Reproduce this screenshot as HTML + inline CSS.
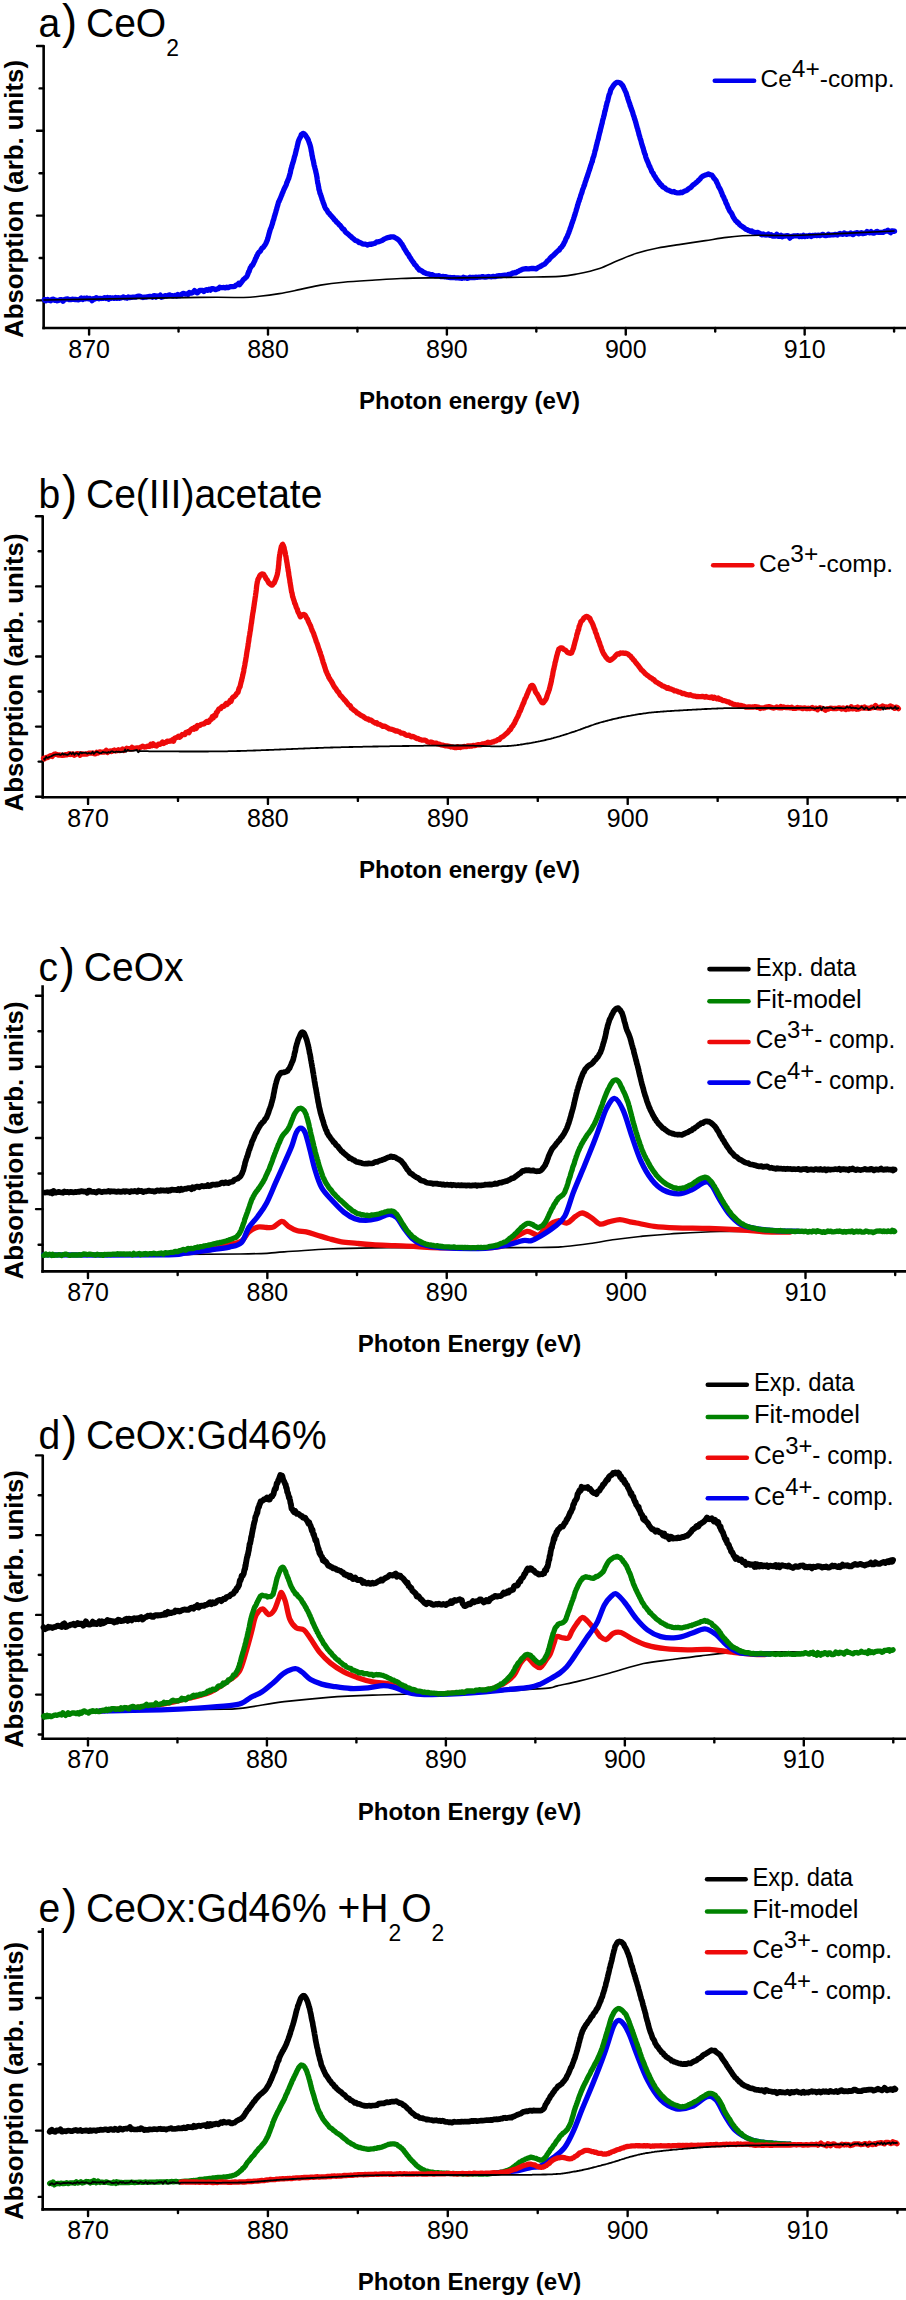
<!DOCTYPE html>
<html><head><meta charset="utf-8"><style>
html,body{margin:0;padding:0;background:#fff;}
svg{display:block;}
text{font-family:"Liberation Sans", sans-serif;fill:#000;}
</style></head><body>
<svg width="906" height="2300" viewBox="0 0 906 2300">
<rect width="906" height="2300" fill="#fff"/>
<line x1="43.65" y1="45.5" x2="43.65" y2="329.3" stroke="#000" stroke-width="2.6"/>
<line x1="42.35" y1="328.0" x2="906" y2="328.0" stroke="#000" stroke-width="2.6"/>
<line x1="37.05" y1="46.0" x2="43.65" y2="46.0" stroke="#000" stroke-width="2.4" stroke-linecap="round"/>
<line x1="39.65" y1="88.4" x2="43.65" y2="88.4" stroke="#000" stroke-width="2.4" stroke-linecap="round"/>
<line x1="37.05" y1="130.8" x2="43.65" y2="130.8" stroke="#000" stroke-width="2.4" stroke-linecap="round"/>
<line x1="39.65" y1="173.2" x2="43.65" y2="173.2" stroke="#000" stroke-width="2.4" stroke-linecap="round"/>
<line x1="37.05" y1="215.6" x2="43.65" y2="215.6" stroke="#000" stroke-width="2.4" stroke-linecap="round"/>
<line x1="39.65" y1="258.0" x2="43.65" y2="258.0" stroke="#000" stroke-width="2.4" stroke-linecap="round"/>
<line x1="37.05" y1="300.4" x2="43.65" y2="300.4" stroke="#000" stroke-width="2.4" stroke-linecap="round"/>
<line x1="89.10" y1="328.0" x2="89.10" y2="334.60" stroke="#000" stroke-width="2.4" stroke-linecap="round"/>
<text x="89.1" y="357.6" font-size="25" text-anchor="middle">870</text>
<line x1="178.54" y1="328.0" x2="178.54" y2="331.60" stroke="#000" stroke-width="2.4" stroke-linecap="round"/>
<line x1="267.99" y1="328.0" x2="267.99" y2="334.60" stroke="#000" stroke-width="2.4" stroke-linecap="round"/>
<text x="268.0" y="357.6" font-size="25" text-anchor="middle">880</text>
<line x1="357.43" y1="328.0" x2="357.43" y2="331.60" stroke="#000" stroke-width="2.4" stroke-linecap="round"/>
<line x1="446.88" y1="328.0" x2="446.88" y2="334.60" stroke="#000" stroke-width="2.4" stroke-linecap="round"/>
<text x="446.9" y="357.6" font-size="25" text-anchor="middle">890</text>
<line x1="536.33" y1="328.0" x2="536.33" y2="331.60" stroke="#000" stroke-width="2.4" stroke-linecap="round"/>
<line x1="625.77" y1="328.0" x2="625.77" y2="334.60" stroke="#000" stroke-width="2.4" stroke-linecap="round"/>
<text x="625.8" y="357.6" font-size="25" text-anchor="middle">900</text>
<line x1="715.22" y1="328.0" x2="715.22" y2="331.60" stroke="#000" stroke-width="2.4" stroke-linecap="round"/>
<line x1="804.66" y1="328.0" x2="804.66" y2="334.60" stroke="#000" stroke-width="2.4" stroke-linecap="round"/>
<text x="804.7" y="357.6" font-size="25" text-anchor="middle">910</text>
<line x1="894.10" y1="328.0" x2="894.10" y2="331.60" stroke="#000" stroke-width="2.4" stroke-linecap="round"/>
<text x="469.5" y="409.0" font-size="24.1" font-weight="bold" text-anchor="middle">Photon energy (eV)</text>
<text transform="translate(23,199.0) rotate(-90)" font-size="25.8" font-weight="bold" text-anchor="middle">Absorption (arb. units)</text>
<text transform="translate(38.40,0) scale(0.9520,1)" x="0" y="37.5" font-size="41"><tspan>a</tspan><tspan font-size="47.4" dx="2" dy="0.8">)</tspan><tspan dx="-2" dy="-0.8">&#160;CeO</tspan><tspan font-size="24" dy="18.5">2</tspan></text>
<line x1="42.7" y1="515.8" x2="42.7" y2="798.5999999999999" stroke="#000" stroke-width="2.6"/>
<line x1="41.400000000000006" y1="797.3" x2="906" y2="797.3" stroke="#000" stroke-width="2.6"/>
<line x1="36.10" y1="516.3" x2="42.7" y2="516.3" stroke="#000" stroke-width="2.4" stroke-linecap="round"/>
<line x1="38.70" y1="551.3" x2="42.7" y2="551.3" stroke="#000" stroke-width="2.4" stroke-linecap="round"/>
<line x1="36.10" y1="586.4" x2="42.7" y2="586.4" stroke="#000" stroke-width="2.4" stroke-linecap="round"/>
<line x1="38.70" y1="621.4" x2="42.7" y2="621.4" stroke="#000" stroke-width="2.4" stroke-linecap="round"/>
<line x1="36.10" y1="656.5" x2="42.7" y2="656.5" stroke="#000" stroke-width="2.4" stroke-linecap="round"/>
<line x1="38.70" y1="691.5" x2="42.7" y2="691.5" stroke="#000" stroke-width="2.4" stroke-linecap="round"/>
<line x1="36.10" y1="726.6" x2="42.7" y2="726.6" stroke="#000" stroke-width="2.4" stroke-linecap="round"/>
<line x1="38.70" y1="761.6" x2="42.7" y2="761.6" stroke="#000" stroke-width="2.4" stroke-linecap="round"/>
<line x1="36.10" y1="796.7" x2="42.7" y2="796.7" stroke="#000" stroke-width="2.4" stroke-linecap="round"/>
<line x1="88.05" y1="797.3" x2="88.05" y2="803.90" stroke="#000" stroke-width="2.4" stroke-linecap="round"/>
<text x="88.0" y="826.9" font-size="25" text-anchor="middle">870</text>
<line x1="177.99" y1="797.3" x2="177.99" y2="800.90" stroke="#000" stroke-width="2.4" stroke-linecap="round"/>
<line x1="267.94" y1="797.3" x2="267.94" y2="803.90" stroke="#000" stroke-width="2.4" stroke-linecap="round"/>
<text x="267.9" y="826.9" font-size="25" text-anchor="middle">880</text>
<line x1="357.88" y1="797.3" x2="357.88" y2="800.90" stroke="#000" stroke-width="2.4" stroke-linecap="round"/>
<line x1="447.83" y1="797.3" x2="447.83" y2="803.90" stroke="#000" stroke-width="2.4" stroke-linecap="round"/>
<text x="447.8" y="826.9" font-size="25" text-anchor="middle">890</text>
<line x1="537.77" y1="797.3" x2="537.77" y2="800.90" stroke="#000" stroke-width="2.4" stroke-linecap="round"/>
<line x1="627.71" y1="797.3" x2="627.71" y2="803.90" stroke="#000" stroke-width="2.4" stroke-linecap="round"/>
<text x="627.7" y="826.9" font-size="25" text-anchor="middle">900</text>
<line x1="717.66" y1="797.3" x2="717.66" y2="800.90" stroke="#000" stroke-width="2.4" stroke-linecap="round"/>
<line x1="807.60" y1="797.3" x2="807.60" y2="803.90" stroke="#000" stroke-width="2.4" stroke-linecap="round"/>
<text x="807.6" y="826.9" font-size="25" text-anchor="middle">910</text>
<line x1="897.54" y1="797.3" x2="897.54" y2="800.90" stroke="#000" stroke-width="2.4" stroke-linecap="round"/>
<text x="469.5" y="878.3" font-size="24.1" font-weight="bold" text-anchor="middle">Photon energy (eV)</text>
<text transform="translate(23,672.5) rotate(-90)" font-size="25.8" font-weight="bold" text-anchor="middle">Absorption (arb. units)</text>
<text transform="translate(38.40,0) scale(0.9520,1)" x="0" y="508.5" font-size="41"><tspan>b</tspan><tspan font-size="47.4" dx="2" dy="0.8">)</tspan><tspan dx="-2" dy="-0.8">&#160;Ce(III)acetate</tspan></text>
<line x1="42.6" y1="985.2" x2="42.6" y2="1272.6499999999999" stroke="#000" stroke-width="2.6"/>
<line x1="41.300000000000004" y1="1271.35" x2="906" y2="1271.35" stroke="#000" stroke-width="2.6"/>
<line x1="36.00" y1="995.7" x2="42.6" y2="995.7" stroke="#000" stroke-width="2.4" stroke-linecap="round"/>
<line x1="38.60" y1="1031.3" x2="42.6" y2="1031.3" stroke="#000" stroke-width="2.4" stroke-linecap="round"/>
<line x1="36.00" y1="1066.8" x2="42.6" y2="1066.8" stroke="#000" stroke-width="2.4" stroke-linecap="round"/>
<line x1="38.60" y1="1102.4" x2="42.6" y2="1102.4" stroke="#000" stroke-width="2.4" stroke-linecap="round"/>
<line x1="36.00" y1="1138.0" x2="42.6" y2="1138.0" stroke="#000" stroke-width="2.4" stroke-linecap="round"/>
<line x1="38.60" y1="1173.5" x2="42.6" y2="1173.5" stroke="#000" stroke-width="2.4" stroke-linecap="round"/>
<line x1="36.00" y1="1209.1" x2="42.6" y2="1209.1" stroke="#000" stroke-width="2.4" stroke-linecap="round"/>
<line x1="38.60" y1="1244.7" x2="42.6" y2="1244.7" stroke="#000" stroke-width="2.4" stroke-linecap="round"/>
<line x1="87.97" y1="1271.35" x2="87.97" y2="1277.95" stroke="#000" stroke-width="2.4" stroke-linecap="round"/>
<text x="88.0" y="1300.9" font-size="25" text-anchor="middle">870</text>
<line x1="177.66" y1="1271.35" x2="177.66" y2="1274.95" stroke="#000" stroke-width="2.4" stroke-linecap="round"/>
<line x1="267.35" y1="1271.35" x2="267.35" y2="1277.95" stroke="#000" stroke-width="2.4" stroke-linecap="round"/>
<text x="267.4" y="1300.9" font-size="25" text-anchor="middle">880</text>
<line x1="357.04" y1="1271.35" x2="357.04" y2="1274.95" stroke="#000" stroke-width="2.4" stroke-linecap="round"/>
<line x1="446.74" y1="1271.35" x2="446.74" y2="1277.95" stroke="#000" stroke-width="2.4" stroke-linecap="round"/>
<text x="446.7" y="1300.9" font-size="25" text-anchor="middle">890</text>
<line x1="536.43" y1="1271.35" x2="536.43" y2="1274.95" stroke="#000" stroke-width="2.4" stroke-linecap="round"/>
<line x1="626.12" y1="1271.35" x2="626.12" y2="1277.95" stroke="#000" stroke-width="2.4" stroke-linecap="round"/>
<text x="626.1" y="1300.9" font-size="25" text-anchor="middle">900</text>
<line x1="715.81" y1="1271.35" x2="715.81" y2="1274.95" stroke="#000" stroke-width="2.4" stroke-linecap="round"/>
<line x1="805.50" y1="1271.35" x2="805.50" y2="1277.95" stroke="#000" stroke-width="2.4" stroke-linecap="round"/>
<text x="805.5" y="1300.9" font-size="25" text-anchor="middle">910</text>
<line x1="895.19" y1="1271.35" x2="895.19" y2="1274.95" stroke="#000" stroke-width="2.4" stroke-linecap="round"/>
<text x="469.5" y="1352.3" font-size="24.1" font-weight="bold" text-anchor="middle">Photon Energy (eV)</text>
<text transform="translate(23,1140.5) rotate(-90)" font-size="25.8" font-weight="bold" text-anchor="middle">Absorption (arb. units)</text>
<text transform="translate(38.40,0) scale(0.9520,1)" x="0" y="981.0" font-size="41"><tspan>c</tspan><tspan font-size="47.4" dx="2" dy="0.8">)</tspan><tspan dx="-2" dy="-0.8">&#160;CeOx</tspan></text>
<line x1="42.75" y1="1454.9" x2="42.75" y2="1740.1" stroke="#000" stroke-width="2.6"/>
<line x1="41.45" y1="1738.8" x2="906" y2="1738.8" stroke="#000" stroke-width="2.6"/>
<line x1="36.15" y1="1455.4" x2="42.75" y2="1455.4" stroke="#000" stroke-width="2.4" stroke-linecap="round"/>
<line x1="38.75" y1="1495.3" x2="42.75" y2="1495.3" stroke="#000" stroke-width="2.4" stroke-linecap="round"/>
<line x1="36.15" y1="1535.1" x2="42.75" y2="1535.1" stroke="#000" stroke-width="2.4" stroke-linecap="round"/>
<line x1="38.75" y1="1575.0" x2="42.75" y2="1575.0" stroke="#000" stroke-width="2.4" stroke-linecap="round"/>
<line x1="36.15" y1="1614.9" x2="42.75" y2="1614.9" stroke="#000" stroke-width="2.4" stroke-linecap="round"/>
<line x1="38.75" y1="1654.7" x2="42.75" y2="1654.7" stroke="#000" stroke-width="2.4" stroke-linecap="round"/>
<line x1="36.15" y1="1694.6" x2="42.75" y2="1694.6" stroke="#000" stroke-width="2.4" stroke-linecap="round"/>
<line x1="38.75" y1="1734.5" x2="42.75" y2="1734.5" stroke="#000" stroke-width="2.4" stroke-linecap="round"/>
<line x1="87.97" y1="1738.8" x2="87.97" y2="1745.40" stroke="#000" stroke-width="2.4" stroke-linecap="round"/>
<text x="88.0" y="1768.4" font-size="25" text-anchor="middle">870</text>
<line x1="177.45" y1="1738.8" x2="177.45" y2="1742.40" stroke="#000" stroke-width="2.4" stroke-linecap="round"/>
<line x1="266.93" y1="1738.8" x2="266.93" y2="1745.40" stroke="#000" stroke-width="2.4" stroke-linecap="round"/>
<text x="266.9" y="1768.4" font-size="25" text-anchor="middle">880</text>
<line x1="356.41" y1="1738.8" x2="356.41" y2="1742.40" stroke="#000" stroke-width="2.4" stroke-linecap="round"/>
<line x1="445.88" y1="1738.8" x2="445.88" y2="1745.40" stroke="#000" stroke-width="2.4" stroke-linecap="round"/>
<text x="445.9" y="1768.4" font-size="25" text-anchor="middle">890</text>
<line x1="535.36" y1="1738.8" x2="535.36" y2="1742.40" stroke="#000" stroke-width="2.4" stroke-linecap="round"/>
<line x1="624.84" y1="1738.8" x2="624.84" y2="1745.40" stroke="#000" stroke-width="2.4" stroke-linecap="round"/>
<text x="624.8" y="1768.4" font-size="25" text-anchor="middle">900</text>
<line x1="714.32" y1="1738.8" x2="714.32" y2="1742.40" stroke="#000" stroke-width="2.4" stroke-linecap="round"/>
<line x1="803.80" y1="1738.8" x2="803.80" y2="1745.40" stroke="#000" stroke-width="2.4" stroke-linecap="round"/>
<text x="803.8" y="1768.4" font-size="25" text-anchor="middle">910</text>
<line x1="893.28" y1="1738.8" x2="893.28" y2="1742.40" stroke="#000" stroke-width="2.4" stroke-linecap="round"/>
<text x="469.5" y="1819.8" font-size="24.1" font-weight="bold" text-anchor="middle">Photon Energy (eV)</text>
<text transform="translate(23,1609.1) rotate(-90)" font-size="25.8" font-weight="bold" text-anchor="middle">Absorption (arb. units)</text>
<text transform="translate(38.40,0) scale(0.9520,1)" x="0" y="1449.3" font-size="41"><tspan>d</tspan><tspan font-size="47.4" dx="2" dy="0.8">)</tspan><tspan dx="-2" dy="-0.8">&#160;CeOx:Gd46%</tspan></text>
<line x1="42.7" y1="1927.9" x2="42.7" y2="2210.7000000000003" stroke="#000" stroke-width="2.6"/>
<line x1="41.400000000000006" y1="2209.4" x2="906" y2="2209.4" stroke="#000" stroke-width="2.6"/>
<line x1="38.70" y1="1931.7" x2="42.7" y2="1931.7" stroke="#000" stroke-width="2.4" stroke-linecap="round"/>
<line x1="36.10" y1="1998.0" x2="42.7" y2="1998.0" stroke="#000" stroke-width="2.4" stroke-linecap="round"/>
<line x1="38.70" y1="2064.3" x2="42.7" y2="2064.3" stroke="#000" stroke-width="2.4" stroke-linecap="round"/>
<line x1="36.10" y1="2130.6" x2="42.7" y2="2130.6" stroke="#000" stroke-width="2.4" stroke-linecap="round"/>
<line x1="38.70" y1="2196.9" x2="42.7" y2="2196.9" stroke="#000" stroke-width="2.4" stroke-linecap="round"/>
<line x1="88.05" y1="2209.4" x2="88.05" y2="2216.00" stroke="#000" stroke-width="2.4" stroke-linecap="round"/>
<text x="88.0" y="2239.0" font-size="25" text-anchor="middle">870</text>
<line x1="177.98" y1="2209.4" x2="177.98" y2="2213.00" stroke="#000" stroke-width="2.4" stroke-linecap="round"/>
<line x1="267.91" y1="2209.4" x2="267.91" y2="2216.00" stroke="#000" stroke-width="2.4" stroke-linecap="round"/>
<text x="267.9" y="2239.0" font-size="25" text-anchor="middle">880</text>
<line x1="357.84" y1="2209.4" x2="357.84" y2="2213.00" stroke="#000" stroke-width="2.4" stroke-linecap="round"/>
<line x1="447.78" y1="2209.4" x2="447.78" y2="2216.00" stroke="#000" stroke-width="2.4" stroke-linecap="round"/>
<text x="447.8" y="2239.0" font-size="25" text-anchor="middle">890</text>
<line x1="537.71" y1="2209.4" x2="537.71" y2="2213.00" stroke="#000" stroke-width="2.4" stroke-linecap="round"/>
<line x1="627.64" y1="2209.4" x2="627.64" y2="2216.00" stroke="#000" stroke-width="2.4" stroke-linecap="round"/>
<text x="627.6" y="2239.0" font-size="25" text-anchor="middle">900</text>
<line x1="717.57" y1="2209.4" x2="717.57" y2="2213.00" stroke="#000" stroke-width="2.4" stroke-linecap="round"/>
<line x1="807.50" y1="2209.4" x2="807.50" y2="2216.00" stroke="#000" stroke-width="2.4" stroke-linecap="round"/>
<text x="807.5" y="2239.0" font-size="25" text-anchor="middle">910</text>
<line x1="897.43" y1="2209.4" x2="897.43" y2="2213.00" stroke="#000" stroke-width="2.4" stroke-linecap="round"/>
<text x="469.5" y="2290.4" font-size="24.1" font-weight="bold" text-anchor="middle">Photon Energy (eV)</text>
<text transform="translate(23,2080.9) rotate(-90)" font-size="25.8" font-weight="bold" text-anchor="middle">Absorption (arb. units)</text>
<text transform="translate(38.40,0) scale(0.9520,1)" x="0" y="1922.5" font-size="41"><tspan>e</tspan><tspan font-size="47.4" dx="2" dy="0.8">)</tspan><tspan dx="-2" dy="-0.8">&#160;CeOx:Gd46%&#160;+H</tspan><tspan font-size="24" dy="18.5">2</tspan><tspan dy="-18.5">O</tspan><tspan font-size="24" dy="18.5">2</tspan></text>
<polyline points="44.4,299.6 45.1,300.5 45.9,300.8 46.7,299.9 47.7,299.4 48.7,300.1 49.7,300.4 50.9,300.8 52.0,299.3 53.3,299.2 54.6,300.4 55.9,300.2 57.2,300.8 58.6,300.4 60.1,299.7 61.5,299.6 63.0,301.3 64.5,299.5 66.1,299.1 67.6,298.9 69.1,299.6 70.7,299.6 72.2,299.2 73.8,299.3 75.3,299.5 76.9,299.7 78.4,299.9 79.9,299.3 81.3,298.0 82.8,299.5 84.2,298.1 85.5,298.8 86.8,298.0 88.1,298.9 89.4,298.3 90.8,298.9 92.1,300.7 93.5,298.6 94.8,299.1 96.2,297.7 97.6,298.3 99.0,298.8 100.4,298.3 101.8,298.5 103.2,298.3 104.6,297.6 106.0,298.5 107.4,297.6 108.8,299.1 110.1,297.7 111.5,298.3 112.9,297.9 114.3,298.4 115.6,297.4 116.9,298.3 118.3,297.6 119.6,298.3 120.9,297.9 122.2,297.5 123.4,296.9 124.7,297.8 125.9,297.6 127.1,298.2 128.3,297.0 129.8,297.5 131.4,297.4 132.9,297.2 134.4,297.1 135.9,297.0 137.3,296.4 138.8,296.1 140.2,296.4 141.6,297.0 143.0,297.5 144.4,297.1 145.8,297.1 147.1,296.8 148.4,296.7 149.7,296.3 151.0,296.6 152.3,297.2 153.5,295.9 154.7,295.6 155.9,297.1 157.0,296.0 158.2,296.4 159.3,296.3 160.4,295.1 161.4,297.2 163.2,296.7 164.9,295.7 166.4,296.0 167.9,295.5 169.3,294.9 170.7,295.3 171.9,295.6 173.2,296.0 174.4,295.7 175.5,295.3 176.6,296.0 177.8,294.6 178.9,295.5 180.0,295.6 181.5,294.5 183.0,293.4 184.4,293.7 185.7,294.1 186.9,294.0 188.2,294.4 189.4,292.5 190.6,292.9 191.9,293.0 193.2,292.2 194.5,290.6 195.9,292.2 197.2,292.8 198.5,291.8 199.8,290.3 201.2,290.3 202.5,290.4 203.8,291.5 205.2,290.2 206.5,289.7 207.8,290.4 209.1,289.2 210.5,290.2 211.8,288.6 213.1,288.6 214.4,289.2 215.7,289.6 217.1,289.0 218.4,288.6 219.7,287.2 221.1,287.7 222.5,287.6 223.9,287.5 225.3,287.9 226.8,287.2 228.2,287.7 229.5,287.0 230.8,286.6 231.9,286.6 233.0,286.6 234.8,286.3 236.2,285.0 237.5,284.7 238.6,283.4 239.6,284.6 240.8,283.1 241.8,281.7 242.7,280.6 243.6,279.4 244.6,278.7 245.6,277.6 246.6,276.9 247.5,275.1 248.1,273.6 248.6,271.9 249.1,271.5 249.6,269.8 250.2,268.0 250.9,267.1 251.7,265.4 252.5,265.4 253.4,263.5 254.2,261.9 254.9,260.5 255.5,258.6 256.2,257.7 256.8,255.9 257.4,255.1 258.1,253.3 258.9,252.3 259.7,251.8 260.5,250.9 261.3,249.2 262.1,248.1 262.9,247.7 263.7,246.8 264.6,245.4 265.3,244.4 266.1,243.0 266.5,241.9 266.9,240.9 267.3,240.2 267.7,238.8 268.0,237.8 268.5,235.9 268.9,234.3 269.4,232.5 269.7,231.6 270.1,230.1 270.5,228.7 270.9,228.1 271.4,226.9 271.8,225.4 272.3,224.1 272.7,222.5 273.1,220.8 273.6,219.7 274.0,218.3 274.3,216.9 274.7,215.6 275.2,214.1 275.5,213.0 275.9,211.7 276.2,210.2 276.6,209.4 276.9,207.8 277.3,206.6 277.7,205.4 278.2,203.4 278.6,201.9 279.1,201.4 279.6,199.8 280.1,199.0 280.7,197.4 281.2,196.2 281.8,194.9 282.4,192.9 282.9,192.3 283.4,190.7 283.9,189.5 284.4,188.5 285.0,187.3 285.7,185.9 286.3,184.6 286.8,182.6 287.4,181.6 287.9,180.0 288.3,179.3 288.8,178.2 289.2,176.5 289.6,175.4 289.9,174.0 290.3,172.8 290.6,171.0 290.9,169.7 291.2,168.4 291.5,167.8 291.9,166.3 292.2,164.8 292.6,163.7 293.0,162.4 293.4,161.2 293.7,159.9 294.1,158.5 294.4,157.0 294.8,155.9 295.1,155.1 295.5,153.4 295.8,151.9 296.2,150.5 296.5,149.2 296.8,148.1 297.2,146.3 297.5,145.1 297.8,143.8 298.2,142.3 298.5,141.0 299.0,139.8 299.7,138.2 300.5,137.0 301.3,134.7 302.1,134.1 303.0,133.4 304.1,133.7 305.3,135.0 306.4,136.8 307.4,138.2 307.9,139.2 308.4,140.2 308.8,141.5 309.3,143.0 309.7,144.0 310.1,145.3 310.5,146.8 310.8,148.0 311.0,149.1 311.3,151.0 311.6,152.2 311.8,153.4 312.0,155.2 312.3,156.0 312.6,157.8 312.8,159.2 313.1,159.9 313.4,161.2 313.7,162.7 314.0,164.5 314.3,165.9 314.6,166.5 315.0,168.4 315.3,169.4 315.6,170.7 315.9,172.1 316.2,173.5 316.5,174.5 316.7,176.1 317.0,177.4 317.2,179.3 317.5,181.2 317.7,182.8 317.9,183.4 318.2,184.5 318.4,186.1 318.7,187.2 318.9,189.1 319.3,190.3 319.6,191.3 319.9,192.9 320.3,193.9 320.6,194.5 321.0,195.9 321.5,197.3 321.9,198.6 322.3,199.9 322.8,201.1 323.2,202.6 323.7,203.7 324.2,205.0 324.8,206.9 325.3,207.9 325.9,209.0 326.7,209.8 327.5,211.3 328.3,212.7 329.2,213.2 330.1,214.8 331.1,215.6 332.1,216.9 332.9,217.7 333.8,218.8 334.6,220.0 335.6,220.6 336.5,222.1 337.4,222.6 338.3,223.5 339.2,224.9 340.1,225.4 341.1,226.7 342.0,228.0 342.9,229.1 343.9,229.4 344.8,231.0 345.7,232.3 346.7,233.1 347.7,233.7 348.7,234.6 349.8,235.7 350.9,236.4 352.0,237.6 353.1,238.5 354.2,239.4 355.3,240.5 356.5,240.8 357.7,241.2 358.9,242.5 360.1,242.5 361.3,243.2 362.5,243.8 363.8,244.1 365.1,244.2 366.4,244.5 367.6,245.1 368.8,244.3 370.1,244.2 371.4,244.3 372.7,243.8 374.0,243.5 375.3,243.1 376.6,241.9 377.9,241.8 379.2,241.6 380.5,241.1 381.8,240.6 383.2,239.8 384.5,238.9 385.8,238.4 387.0,237.8 388.2,237.5 389.4,237.4 391.0,236.9 392.5,236.8 393.9,236.9 395.2,237.7 396.6,238.5 398.0,239.4 398.8,240.2 399.6,241.1 400.3,241.9 401.1,243.3 401.9,244.1 402.7,245.6 403.5,246.8 404.3,248.5 405.0,249.5 405.8,250.9 406.6,252.2 407.4,253.6 408.2,254.3 408.9,255.5 409.7,257.2 410.5,258.0 411.3,259.6 412.1,260.6 412.9,261.9 413.6,262.5 414.4,264.2 415.2,264.9 416.3,266.0 417.3,267.8 418.3,268.5 419.3,270.1 420.4,270.1 421.4,270.7 422.6,271.5 423.8,272.6 424.9,272.7 426.1,273.4 427.3,273.8 428.6,273.8 429.8,274.4 431.1,274.6 432.5,274.7 433.9,275.5 435.3,275.8 436.5,275.8 437.8,275.8 439.1,275.7 440.5,276.5 441.9,276.6 443.3,276.3 444.6,276.9 446.0,276.7 447.3,277.2 448.5,277.3 449.7,277.5 451.3,277.6 452.7,277.7 454.0,277.5 455.2,277.8 456.6,277.8 458.1,277.9 460.0,278.1 461.1,278.1 462.2,278.4 463.4,277.3 464.6,278.0 465.9,277.8 467.2,278.4 468.6,278.0 469.9,277.2 471.4,277.7 472.8,277.4 474.3,277.7 475.7,277.1 477.2,277.3 478.7,277.2 480.0,277.1 481.3,276.9 482.6,276.6 484.0,277.1 485.4,277.1 486.9,276.8 488.3,276.5 489.7,276.7 491.2,276.8 492.6,276.5 494.1,276.5 495.4,276.7 496.8,276.0 498.1,276.0 499.4,275.6 500.6,275.8 501.7,275.6 503.3,275.3 504.9,275.1 506.4,275.5 507.8,274.7 509.1,274.4 510.4,274.6 511.6,273.7 512.7,273.0 513.9,273.2 514.9,272.5 516.0,272.8 517.5,271.6 518.8,271.2 519.9,270.4 521.0,270.2 522.1,269.4 523.3,269.2 524.6,268.8 525.9,268.6 527.3,268.9 528.8,268.9 530.4,268.7 531.9,268.5 533.4,268.4 534.8,268.6 536.1,268.9 537.5,267.8 538.8,267.2 540.0,266.6 541.2,265.9 542.3,265.2 543.5,264.6 544.7,264.1 545.7,262.9 546.6,261.9 547.6,260.7 548.5,260.2 549.5,259.1 550.4,257.8 551.4,256.8 552.3,256.1 553.3,255.4 554.3,254.3 555.3,253.3 556.3,252.3 557.3,251.5 558.3,250.5 559.2,250.1 560.2,248.3 561.1,247.5 561.9,246.8 562.7,245.3 563.4,244.6 564.0,243.0 564.7,241.9 565.3,240.5 565.9,238.9 566.5,237.7 567.1,237.0 567.7,235.2 568.2,234.0 568.7,232.9 569.1,231.6 569.6,230.4 570.1,228.8 570.6,227.5 571.0,226.5 571.5,224.8 572.0,223.2 572.5,222.1 572.9,220.6 573.4,219.5 573.8,218.0 574.2,216.7 574.5,215.6 574.9,214.9 575.3,213.2 575.7,212.0 576.1,210.7 576.4,209.5 576.8,208.3 577.2,207.2 577.6,205.1 578.0,204.6 578.3,203.0 578.7,201.7 579.1,201.2 579.5,199.2 580.0,198.4 580.4,196.8 580.9,194.9 581.3,194.0 581.8,192.7 582.2,191.2 582.7,189.4 583.1,188.6 583.6,187.3 584.0,185.8 584.5,185.2 584.9,183.3 585.3,182.0 585.8,180.7 586.3,179.2 586.7,177.8 587.2,176.7 587.6,175.4 588.1,173.8 588.5,172.6 589.0,170.9 589.4,170.1 589.8,168.5 590.2,167.5 590.6,166.0 591.0,164.7 591.5,163.5 591.9,161.8 592.3,161.5 592.6,159.6 593.0,158.4 593.4,156.9 593.8,156.3 594.1,154.9 594.5,153.3 594.9,151.5 595.2,150.4 595.6,149.5 595.9,147.9 596.2,146.4 596.6,145.1 596.9,143.9 597.2,142.7 597.5,141.2 597.9,140.0 598.2,139.3 598.5,137.7 598.9,135.7 599.2,134.7 599.5,133.3 599.9,131.9 600.2,130.9 600.5,129.2 600.9,127.9 601.2,126.6 601.5,125.3 601.8,124.3 602.2,122.9 602.5,121.0 602.8,119.9 603.2,118.5 603.5,117.6 603.8,116.1 604.2,114.9 604.5,113.3 604.8,111.5 605.2,110.7 605.5,109.3 605.8,108.0 606.1,106.2 606.5,105.2 606.8,103.7 607.1,102.4 607.5,101.5 607.8,100.3 608.2,98.5 608.6,96.8 609.0,95.1 609.4,94.2 609.9,93.3 610.3,91.7 610.7,89.9 611.1,89.1 611.6,88.4 612.1,87.7 613.2,85.9 614.3,84.4 615.5,83.3 616.7,82.4 617.9,82.3 619.0,82.5 620.2,82.9 621.3,84.1 622.5,85.4 623.6,87.4 624.1,88.6 624.6,89.5 625.0,90.5 625.5,91.6 626.0,92.6 626.5,94.3 627.0,95.9 627.5,97.0 628.0,99.0 628.4,100.1 628.9,101.7 629.4,102.9 629.8,103.9 630.2,105.9 630.6,106.3 631.0,108.0 631.4,108.8 631.8,110.2 632.3,111.2 632.7,112.5 633.1,114.1 633.5,115.6 633.9,116.2 634.3,117.7 634.7,119.2 635.1,120.1 635.5,121.7 635.8,122.5 636.2,124.1 636.5,125.3 636.9,126.7 637.2,127.8 637.6,128.7 637.9,130.4 638.3,131.3 638.7,133.0 639.0,134.5 639.4,135.6 639.7,136.5 640.1,138.2 640.4,139.2 640.8,140.1 641.2,141.7 641.6,143.5 642.0,144.5 642.4,145.9 642.8,147.2 643.2,148.2 643.6,149.8 644.0,151.4 644.4,152.7 644.8,153.9 645.3,154.7 645.7,156.8 646.1,157.9 646.6,159.3 647.1,160.6 647.6,161.5 648.1,162.8 648.7,164.3 649.2,165.9 649.7,166.3 650.3,167.9 650.9,169.0 651.4,170.5 652.0,171.9 652.6,172.6 653.2,173.4 653.8,174.8 654.5,176.0 655.3,176.9 656.0,178.6 656.8,179.4 657.6,180.8 658.4,181.4 659.2,183.0 660.0,183.4 660.8,184.9 661.6,185.1 662.4,186.6 663.6,187.3 664.9,187.9 666.1,189.1 667.3,189.9 668.5,190.2 669.8,190.8 671.0,191.5 672.4,191.8 673.9,191.5 675.3,192.4 676.7,192.8 678.2,192.8 679.6,192.9 680.8,192.2 682.1,192.7 683.3,191.8 684.5,191.2 685.7,190.8 687.0,190.1 688.2,189.1 689.3,188.2 690.4,187.8 691.5,186.8 692.6,185.3 693.7,184.5 694.7,183.9 695.8,182.9 696.8,182.1 697.9,181.1 699.0,179.9 700.0,179.2 701.0,177.6 702.0,176.7 703.0,176.1 704.0,175.6 705.5,175.0 706.9,174.7 708.4,174.0 709.8,174.6 711.2,175.0 712.0,175.3 712.8,176.3 713.6,177.8 714.4,178.6 715.1,179.5 715.9,180.3 716.6,182.1 717.4,183.5 718.0,184.8 718.5,186.5 719.1,187.3 719.7,188.4 720.3,189.4 720.8,190.6 721.4,192.2 722.0,193.4 722.6,195.6 723.1,196.0 723.7,197.2 724.3,198.9 724.8,199.9 725.4,200.9 725.9,202.8 726.5,203.7 727.0,204.7 727.6,206.4 728.1,207.7 728.7,208.7 729.3,210.1 729.9,211.3 730.6,212.1 731.3,213.0 732.0,214.2 732.7,215.9 733.4,217.4 734.2,218.5 734.9,219.6 735.7,220.8 736.5,221.3 737.4,222.6 738.4,222.9 739.4,224.5 740.4,225.3 741.5,226.1 742.6,226.8 743.7,227.4 744.9,228.5 746.1,229.5 747.3,229.7 748.4,230.5 749.5,230.6 750.6,231.4 751.8,231.0 752.9,232.2 754.1,232.2 755.4,232.8 756.8,232.5 758.2,232.5 759.8,233.3 760.9,234.3 762.1,234.9 763.2,233.9 764.5,234.8 765.7,235.0 767.0,234.9 768.4,234.0 769.7,235.3 771.1,234.7 772.5,236.1 773.9,236.0 775.4,236.0 776.8,234.3 778.3,236.3 779.8,236.4 781.0,235.3 782.2,236.7 783.5,236.2 784.7,236.1 786.0,235.8 787.3,235.6 788.6,236.0 789.9,238.1 791.3,236.4 792.6,236.4 794.0,235.8 795.3,235.8 796.7,235.8 798.0,235.6 799.4,236.6 800.7,235.9 802.1,236.6 803.4,235.3 804.7,236.6 806.0,235.9 807.3,236.3 808.6,235.8 810.0,235.3 811.3,236.5 812.6,235.5 813.9,235.6 815.2,235.1 816.5,235.6 817.9,235.2 819.2,235.5 820.5,235.5 821.8,234.8 823.1,234.3 824.4,235.3 825.8,235.6 827.1,235.4 828.4,234.2 829.7,235.2 831.0,235.0 832.3,234.8 833.6,234.9 834.9,234.3 836.3,234.6 837.6,235.0 838.9,234.0 840.2,233.4 841.5,234.2 842.8,234.3 844.1,233.0 845.4,233.6 846.7,234.3 848.0,233.8 849.4,233.9 850.7,233.0 852.0,234.2 853.3,234.6 854.6,233.4 855.9,233.0 857.3,232.6 858.6,233.8 860.0,233.2 861.4,232.6 862.8,233.7 864.2,233.3 865.6,233.1 867.0,231.6 868.4,232.5 869.8,232.8 871.1,231.6 872.4,232.8 873.7,233.1 875.0,232.7 876.2,231.6 877.4,231.5 878.5,232.4 879.6,232.4 881.4,232.4 883.1,232.3 884.8,231.4 886.4,231.2 887.9,230.2 889.3,231.7 890.6,232.6 891.8,230.9 892.8,230.8 893.7,231.4 894.5,231.2" fill="none" stroke="#0000f0" stroke-width="5.3" stroke-linejoin="round" stroke-linecap="round"/>
<path d="M44.0,300.0 C70.0,299.6 166.7,297.8 200.0,297.4 C233.3,297.0 233.7,297.7 243.6,297.5 C253.5,297.3 253.6,296.8 259.5,296.2 C265.4,295.6 272.5,294.7 279.3,293.6 C286.1,292.5 293.5,290.8 300.4,289.4 C307.3,288.0 313.3,286.3 320.5,285.1 C327.7,283.9 334.9,283.0 343.5,282.2 C352.1,281.4 362.6,280.8 372.2,280.2 C381.8,279.6 391.3,278.9 400.9,278.5 C410.5,278.1 419.8,278.0 429.6,277.9 C439.5,277.8 444.9,278.0 460.0,277.9 C475.1,277.8 503.4,277.4 520.0,277.2 C536.6,276.9 550.0,277.0 559.7,276.4 C569.4,275.8 571.7,275.0 578.3,273.7 C584.9,272.4 592.9,270.6 599.5,268.4 C606.1,266.2 611.8,263.0 618.0,260.5 C624.2,258.0 630.0,255.4 636.6,253.3 C643.2,251.2 650.6,249.4 657.7,248.0 C664.8,246.6 671.0,245.8 679.0,244.6 C687.0,243.4 697.5,241.8 705.4,240.6 C713.3,239.4 720.4,238.2 726.6,237.4 C732.8,236.6 736.9,236.2 742.5,235.8 C748.1,235.5 750.4,235.4 760.0,235.3 C769.6,235.2 777.7,235.9 800.0,235.2 C822.3,234.5 878.3,231.7 894.0,231.0" fill="none" stroke="#000" stroke-width="1.6" stroke-linejoin="round" stroke-linecap="round"/>
<line x1="714.8" y1="80.7" x2="754.1" y2="80.7" stroke="#0000f0" stroke-width="4.6" stroke-linecap="round"/>
<text x="760.5" y="86.7" font-size="24.5"><tspan>Ce</tspan><tspan font-size="24.5" dy="-10">4+</tspan><tspan dy="10">-comp.</tspan></text>
<polyline points="43.6,758.2 44.3,758.9 45.3,758.1 46.5,757.4 47.8,757.6 49.2,756.4 50.6,755.7 52.1,756.5 53.2,754.9 54.3,754.2 55.4,754.0 56.6,754.4 57.8,755.0 59.2,755.0 60.7,755.1 62.4,755.4 64.3,755.2 65.4,754.6 66.5,754.9 67.6,754.5 68.9,753.7 70.2,754.5 71.5,754.1 72.9,753.9 74.3,755.2 75.7,754.4 77.1,753.6 78.6,753.9 80.1,755.3 81.5,753.7 83.0,754.2 84.4,754.1 85.8,754.0 87.2,754.0 88.6,753.2 90.0,753.2 91.3,753.2 92.7,753.0 94.0,753.6 95.4,753.9 96.7,752.3 98.1,753.1 99.4,752.0 100.8,752.0 102.1,752.2 103.5,752.2 104.8,751.7 106.2,750.3 107.5,752.5 108.9,751.4 110.2,751.0 111.6,751.6 112.9,750.7 114.3,750.0 115.6,751.0 117.0,750.7 118.4,749.8 119.8,750.6 121.1,750.1 122.5,749.0 123.9,750.5 125.3,749.4 126.7,748.3 128.0,749.1 129.4,748.7 130.7,749.0 132.0,747.4 133.3,748.6 134.6,748.4 135.9,748.0 137.1,747.8 138.6,748.0 140.0,747.5 141.4,746.9 142.8,746.2 144.2,747.2 145.6,747.0 147.0,746.4 148.3,746.1 149.6,746.3 150.9,744.2 152.1,745.7 153.3,743.9 154.4,745.4 155.5,745.7 156.6,746.0 158.3,744.2 159.8,744.4 161.2,743.7 162.6,742.0 163.8,743.4 165.0,742.6 166.1,742.3 167.2,741.2 168.3,741.4 169.8,740.9 171.1,741.0 172.3,739.8 173.5,741.2 174.7,738.2 176.0,737.7 177.2,737.3 178.4,736.3 179.7,737.2 180.9,736.2 182.2,734.5 183.5,734.7 184.7,734.7 185.8,732.5 186.8,732.8 187.8,731.8 188.9,732.6 190.0,730.6 191.4,729.2 193.0,728.2 194.0,729.2 195.0,727.2 196.2,728.4 197.4,725.5 198.7,725.8 200.1,725.2 201.4,724.3 202.8,724.0 204.1,723.9 205.4,722.5 206.7,721.4 207.9,722.4 209.0,721.8 210.0,719.8 211.2,719.5 212.2,716.8 213.2,718.0 214.0,715.5 214.9,715.0 215.7,715.6 216.4,712.4 217.2,712.2 218.0,710.5 218.8,709.1 219.7,708.6 220.7,708.6 221.8,706.7 222.8,706.3 223.9,706.3 225.0,705.0 226.1,703.6 227.1,704.5 228.1,702.9 229.1,702.9 230.0,700.6 231.1,701.2 232.1,698.3 233.1,697.1 234.1,696.8 235.0,695.8 235.8,695.1 236.6,693.5 237.3,693.1 238.0,692.3 238.6,689.9 239.1,688.2 239.5,687.5 240.0,686.9 240.4,685.0 240.9,682.9 241.2,681.7 241.5,680.8 241.7,680.0 242.0,678.3 242.3,677.6 242.6,676.0 242.9,674.7 243.2,673.1 243.5,672.3 243.8,670.4 244.0,668.5 244.3,667.8 244.6,665.9 244.8,665.2 245.0,663.7 245.2,662.3 245.5,661.3 245.7,659.9 245.9,658.5 246.1,657.5 246.3,656.4 246.5,654.9 246.7,653.5 246.9,652.0 247.1,651.1 247.3,649.6 247.6,648.5 247.8,646.9 248.0,646.1 248.2,643.6 248.4,642.8 248.6,641.7 248.8,640.5 249.0,638.4 249.2,637.2 249.4,636.2 249.6,635.2 249.8,633.8 250.1,631.6 250.3,630.8 250.5,629.7 250.7,628.0 250.9,626.3 251.1,625.0 251.3,623.5 251.5,622.9 251.7,621.1 251.9,619.7 252.1,618.2 252.3,617.0 252.5,615.4 252.7,614.0 252.9,612.8 253.2,611.4 253.4,610.1 253.6,608.6 253.8,607.5 254.0,605.8 254.2,604.5 254.4,603.1 254.6,601.5 254.8,600.8 255.0,599.0 255.2,597.5 255.3,597.1 255.5,595.8 255.7,593.8 255.9,592.7 256.1,591.1 256.3,589.6 256.5,587.6 256.6,586.6 256.8,585.0 257.0,583.9 257.2,582.7 257.4,581.5 257.6,580.9 257.9,579.6 258.6,578.3 259.4,576.6 260.2,575.1 261.1,574.4 262.0,574.0 262.8,574.1 263.6,574.1 264.4,575.8 265.2,576.9 266.0,578.7 266.8,579.4 267.6,580.7 268.8,582.9 270.0,583.9 271.3,585.0 272.5,585.0 273.1,583.6 273.6,583.5 274.2,583.0 274.8,581.5 275.4,580.0 276.0,578.7 276.5,577.0 277.0,575.6 277.4,574.1 277.6,572.6 277.8,571.7 278.0,570.3 278.2,569.1 278.4,567.8 278.5,565.8 278.7,565.0 278.8,563.5 278.9,561.5 279.1,560.3 279.2,558.6 279.3,557.6 279.5,556.6 279.6,555.0 279.8,554.1 280.2,552.0 280.6,550.0 281.0,548.1 281.4,546.4 281.8,545.7 282.3,544.7 282.7,544.4 283.0,545.2 283.4,545.5 283.7,546.9 284.1,547.6 284.4,549.9 284.8,551.0 285.2,552.7 285.5,554.9 285.9,556.3 286.1,557.4 286.3,559.0 286.5,559.9 286.7,561.5 287.0,562.7 287.2,564.1 287.4,565.4 287.6,567.0 287.9,568.2 288.1,570.0 288.3,571.3 288.5,571.8 288.7,573.2 288.9,575.5 289.1,576.2 289.3,577.6 289.5,578.6 289.8,580.3 290.0,582.4 290.2,582.9 290.4,584.5 290.6,585.8 290.8,586.8 291.0,588.1 291.2,589.4 291.4,590.7 291.6,592.0 291.9,592.5 292.2,594.1 292.6,596.5 293.0,597.3 293.4,599.0 293.8,600.0 294.2,601.2 294.7,603.4 295.1,603.7 295.6,605.0 296.1,606.9 296.6,608.1 297.2,609.0 297.7,611.0 298.3,612.5 298.8,613.1 299.4,614.5 299.9,615.8 300.4,616.8 301.7,615.5 302.8,614.6 304.1,614.5 304.7,614.8 305.4,615.6 306.1,616.8 306.8,618.3 307.5,619.2 308.2,621.1 308.9,622.6 309.4,623.6 309.9,624.8 310.3,625.3 310.8,626.6 311.3,628.1 311.8,629.4 312.2,630.6 312.7,631.5 313.3,632.8 313.8,634.0 314.2,635.4 314.6,636.4 315.1,637.8 315.5,639.0 316.0,640.6 316.4,641.9 316.9,642.9 317.3,643.9 317.8,645.6 318.3,647.2 318.8,648.7 319.3,650.0 319.8,651.7 320.2,652.4 320.6,654.0 321.0,655.3 321.4,656.2 321.8,657.4 322.2,659.3 322.6,660.0 323.0,661.9 323.4,663.0 323.9,664.3 324.3,665.7 324.7,666.9 325.2,668.4 325.7,670.2 326.1,671.4 326.6,672.1 327.1,673.5 327.7,674.9 328.3,675.7 328.9,677.7 329.5,678.3 330.2,679.7 330.8,680.4 331.5,681.5 332.1,682.7 332.8,683.9 333.5,685.5 334.1,686.2 334.8,687.6 335.5,688.2 336.1,689.0 336.8,690.4 337.7,691.5 338.6,692.3 339.5,694.0 340.4,695.5 341.3,696.2 342.1,697.0 343.0,698.2 343.9,699.1 344.8,700.3 345.7,701.1 346.6,702.4 347.6,703.5 348.5,704.9 349.4,705.2 350.3,705.9 351.2,708.0 352.1,708.6 353.0,709.3 354.1,710.4 355.1,710.9 356.3,712.0 357.3,713.1 358.4,713.5 359.5,714.4 360.7,715.2 361.9,715.8 363.1,716.4 364.3,717.4 365.6,718.3 366.9,719.0 368.2,719.0 369.5,720.2 370.8,720.0 371.9,720.7 373.1,721.8 374.3,722.4 375.5,723.2 376.7,722.8 377.9,724.2 379.1,724.2 380.4,724.8 381.6,725.6 382.9,726.4 384.1,726.2 385.3,726.4 386.6,727.2 387.8,727.9 389.1,728.8 390.4,729.0 391.7,729.3 393.0,729.7 394.3,730.2 395.6,731.1 397.0,730.8 398.3,731.5 399.6,731.9 400.9,733.0 402.2,733.1 403.5,733.3 404.8,734.2 406.1,735.1 407.4,735.3 408.8,735.1 410.1,735.9 411.4,736.8 412.8,736.4 414.1,737.0 415.4,737.7 416.7,738.5 418.0,738.5 419.3,739.3 420.6,739.6 421.8,740.1 423.2,740.1 424.6,740.2 425.9,740.5 427.1,741.6 428.4,742.2 429.7,742.3 430.9,742.0 432.2,742.3 433.6,743.0 434.9,743.1 436.4,743.2 437.6,743.8 438.8,744.0 440.1,744.5 441.4,744.9 442.8,745.2 444.1,745.5 445.5,745.8 446.9,745.9 448.2,746.1 449.6,746.3 450.9,747.0 452.2,746.8 453.4,747.2 454.6,747.6 456.1,747.7 457.5,746.6 458.8,747.3 460.1,747.5 461.4,747.0 462.7,746.8 464.0,746.5 465.2,746.6 466.5,746.6 467.8,745.9 469.1,746.3 470.4,745.9 471.8,746.0 473.1,745.5 474.5,745.6 475.9,745.4 477.2,744.9 478.6,744.7 479.9,744.9 481.2,744.6 482.5,743.9 483.7,744.0 485.2,743.3 486.6,743.2 488.0,742.2 489.4,742.6 490.8,742.7 492.1,742.0 493.4,741.9 494.7,741.1 495.9,740.9 497.1,740.2 498.3,739.3 499.4,739.6 500.5,738.0 501.6,737.1 502.6,736.7 503.7,736.0 504.6,735.1 505.6,734.2 506.6,733.4 507.6,732.6 508.5,731.6 509.4,730.0 510.3,729.9 511.1,728.3 512.0,726.5 512.9,726.0 513.5,724.7 514.1,723.7 514.7,723.1 515.3,721.1 516.0,719.9 516.6,718.5 517.2,717.5 517.8,716.4 518.4,715.0 519.0,713.7 519.5,711.7 520.1,711.2 520.6,710.2 521.2,708.5 521.7,707.2 522.2,705.8 522.7,705.0 523.2,703.2 523.7,703.0 524.2,701.1 524.7,699.8 525.2,698.5 525.7,697.9 526.2,696.9 526.8,695.0 527.5,693.6 528.1,692.0 528.7,690.7 529.4,689.1 530.0,688.1 530.6,686.2 531.2,686.7 531.8,685.5 532.6,685.5 533.3,686.3 534.1,688.0 534.8,689.7 535.5,691.8 536.3,693.1 537.1,693.9 537.8,695.2 538.6,696.6 539.3,698.1 540.1,699.7 540.9,700.8 541.7,702.4 542.4,702.7 543.2,702.8 543.8,702.2 544.3,701.3 544.9,700.9 545.5,699.6 546.0,699.1 546.6,697.5 547.2,695.3 547.7,693.8 548.3,692.4 548.8,690.9 549.3,689.6 549.6,688.2 549.9,687.2 550.2,685.8 550.5,684.6 550.8,683.7 551.1,682.1 551.4,681.3 551.6,679.3 551.9,678.1 552.2,676.7 552.5,675.4 552.7,674.4 553.0,672.3 553.3,671.0 553.5,669.6 553.8,669.2 554.1,667.5 554.4,666.1 554.8,664.6 555.1,662.4 555.5,661.6 555.8,659.9 556.2,658.5 556.5,657.0 556.9,655.5 557.3,654.2 557.6,652.8 558.0,651.8 558.3,651.0 558.7,649.3 559.0,649.5 560.5,647.9 562.0,647.9 563.8,649.4 564.9,649.9 566.1,650.7 567.4,652.5 568.8,652.9 570.0,653.3 571.1,652.5 571.6,652.9 572.1,651.4 572.6,650.4 573.1,648.9 573.5,648.2 573.9,646.0 574.3,644.9 574.7,643.2 575.1,641.6 575.6,639.9 576.0,638.7 576.4,637.0 576.8,635.0 577.2,633.4 577.6,633.1 577.9,630.7 578.3,630.3 578.7,629.4 579.1,626.5 579.5,626.0 579.9,624.7 580.4,623.3 580.8,621.9 581.8,620.8 582.8,619.8 583.8,618.1 584.9,617.2 585.9,616.6 586.9,616.4 587.8,616.7 588.6,617.9 589.4,617.8 590.1,618.8 590.9,621.0 591.8,622.3 592.2,623.3 592.7,624.0 593.1,625.4 593.6,626.5 594.0,628.0 594.5,629.0 595.0,630.0 595.4,631.9 595.9,633.1 596.4,633.9 596.9,635.7 597.3,637.3 597.8,638.3 598.3,639.4 598.7,641.0 599.2,642.0 599.7,643.3 600.1,645.0 600.6,646.1 601.1,647.3 601.5,648.8 602.0,650.0 602.5,651.4 603.0,652.5 603.4,653.2 603.9,654.1 604.9,655.5 605.9,657.3 607.0,658.3 608.0,659.5 609.0,660.1 610.0,660.3 611.2,659.8 612.3,658.9 613.5,658.0 614.7,656.8 616.1,655.1 617.4,653.8 618.8,654.2 620.3,653.0 621.8,653.1 623.2,653.0 624.6,653.4 625.8,653.2 627.0,653.7 628.1,654.2 629.3,655.4 630.5,656.0 631.8,657.9 632.6,658.6 633.4,659.9 634.3,660.5 635.2,661.8 636.1,663.0 637.0,664.1 637.9,665.0 638.8,666.4 639.8,667.7 640.7,668.9 641.6,670.1 642.6,670.7 643.6,671.9 644.6,672.9 645.5,673.9 646.5,674.6 647.5,675.5 648.5,676.1 649.6,677.1 650.6,677.8 651.7,678.2 652.8,679.3 653.9,679.6 655.0,681.2 656.2,682.1 657.3,682.5 658.5,683.4 659.7,684.1 660.9,684.7 662.2,685.9 663.5,686.1 664.6,686.8 665.8,687.2 667.0,688.3 668.2,687.7 669.4,688.8 670.7,688.8 671.9,689.5 673.2,689.9 674.5,690.9 675.7,690.8 677.0,691.2 678.2,691.8 679.5,692.1 680.9,692.5 682.2,693.6 683.5,693.3 684.8,693.7 686.2,694.7 687.5,694.6 688.8,695.2 690.1,694.7 691.5,695.4 692.8,695.9 694.1,696.0 695.5,696.2 696.9,696.6 698.3,696.5 699.6,696.7 701.0,696.7 702.4,696.3 703.7,696.7 705.0,697.1 706.3,696.5 707.5,697.1 709.0,697.3 710.4,697.6 711.8,696.9 713.1,698.3 714.4,697.3 715.7,698.0 716.9,698.9 718.1,698.0 719.3,699.4 720.7,699.2 722.0,700.2 723.3,700.6 724.5,700.7 725.7,701.0 726.9,701.6 728.1,701.8 729.3,702.3 730.4,703.2 731.6,703.1 732.7,704.1 734.0,704.4 735.3,704.7 736.9,704.8 738.0,704.9 739.1,705.8 740.3,705.4 741.6,705.7 742.9,706.0 744.2,706.4 745.6,707.0 747.0,707.1 748.5,706.9 750.0,707.0 751.6,707.1 752.8,706.9 754.0,707.0 755.2,706.6 756.4,707.3 757.7,707.0 759.0,707.4 760.3,708.6 761.6,707.8 763.0,708.0 764.4,707.9 765.8,707.1 767.3,707.0 768.9,706.6 770.5,707.1 772.1,707.6 773.3,708.0 774.4,707.9 775.7,707.4 776.9,706.9 778.2,707.7 779.5,707.9 780.8,706.5 782.1,707.8 783.5,706.9 784.9,707.5 786.2,707.7 787.6,707.3 789.0,707.6 790.4,707.9 791.8,707.3 793.2,708.4 794.6,708.4 796.0,708.3 797.4,707.4 798.8,707.9 800.2,707.9 801.5,708.2 802.8,708.6 804.2,707.9 805.5,708.2 806.8,708.7 808.2,708.1 809.5,708.7 810.8,708.3 812.2,707.5 813.5,708.4 814.8,708.5 816.1,708.2 817.5,709.7 818.8,708.3 820.1,707.7 821.5,708.5 822.8,708.5 824.1,709.0 825.5,710.2 826.8,708.8 828.1,709.2 829.5,708.3 830.8,708.2 832.1,708.3 833.5,708.6 834.9,708.4 836.2,708.7 837.6,708.3 839.0,707.9 840.4,708.2 841.7,709.1 843.1,707.9 844.5,709.0 845.9,709.5 847.2,707.9 848.6,709.0 849.9,708.9 851.3,706.8 852.6,708.9 853.9,708.7 855.2,707.8 856.5,709.3 857.7,707.1 859.0,708.9 860.2,708.3 861.7,707.4 863.1,708.1 864.6,707.0 866.0,708.2 867.4,708.1 868.8,708.4 870.2,708.4 871.5,707.1 872.9,707.7 874.2,706.9 875.5,705.5 876.7,707.7 878.0,707.8 879.2,707.2 880.4,708.0 881.5,706.9 882.6,705.9 883.7,706.6 885.4,706.8 887.1,707.2 888.7,706.9 890.3,705.9 891.8,706.6 893.2,707.4 894.5,708.3 895.7,707.4 896.7,707.1 897.6,707.7 898.4,708.7" fill="none" stroke="#ee0a0a" stroke-width="5.3" stroke-linejoin="round" stroke-linecap="round"/>
<polyline points="44.0,758.9 44.7,759.8 45.4,757.9 46.3,756.8 47.2,757.8 48.3,757.6 49.5,756.9 50.8,756.5 52.4,755.6 54.1,754.8 56.1,754.3 58.3,754.4 59.2,754.2 60.3,755.0 61.3,754.7 62.5,753.3 63.6,754.6 64.9,754.0 66.1,754.7 67.4,754.9 68.8,754.2 70.2,752.5 71.6,754.2 73.0,752.5 74.4,754.7 75.9,753.1 77.3,753.4 78.8,754.7 80.2,752.2 81.7,753.4 83.1,752.6 84.6,752.9 86.0,752.7 87.4,753.7 88.7,752.9 90.1,753.3 91.4,753.5 92.6,751.8 93.8,753.9 95.0,752.7 96.6,751.6 98.1,752.2 99.7,753.2 101.2,753.2 102.7,751.9 104.2,752.4 105.6,752.4 107.1,752.9 108.5,752.0 109.9,752.7 111.2,751.3 112.5,751.3 113.8,752.2 115.1,752.2 116.3,751.5 117.5,751.9 118.7,751.6 119.8,751.9 120.9,752.2 122.0,751.7 123.5,751.8 124.4,750.9 124.8,750.8 125.1,749.5 125.2,751.5 125.6,751.2 126.3,751.6 127.6,749.9 129.7,750.9 132.8,750.9 137.0,750.0 137.8,751.9 138.6,752.2 139.4,750.4 140.3,751.2 141.1,751.2 142.0,751.2 143.0,751.2 143.9,751.2 144.9,751.2 145.9,751.2 146.9,751.2 148.0,751.2 149.0,751.3 150.1,751.3 151.2,751.3 152.4,751.3 153.5,751.3 154.7,751.3 155.9,751.3 157.1,751.3 158.3,751.3 159.5,751.3 160.8,751.3 162.1,751.3 163.3,751.4 164.6,751.4 166.0,751.4 167.3,751.4 168.6,751.4 170.0,751.4 171.3,751.4 172.7,751.4 174.1,751.4 175.5,751.4 176.9,751.4 178.3,751.4 179.8,751.5 181.2,751.5 182.6,751.5 184.1,751.5 185.6,751.5 187.0,751.5 188.5,751.5 190.0,751.5 191.5,751.5 192.9,751.5 194.4,751.5 195.9,751.5 197.4,751.5 198.9,751.5 200.4,751.5 201.9,751.5 203.4,751.5 204.9,751.5 206.4,751.5 207.9,751.5 209.4,751.4 210.9,751.4 212.4,751.4 213.9,751.4 215.4,751.4 216.9,751.4 218.4,751.4 219.8,751.4 221.3,751.3 222.8,751.3 224.2,751.3 225.7,751.3 227.1,751.3 228.6,751.2 230.0,751.2 231.2,751.2 232.4,751.2 233.7,751.1 234.9,751.1 236.1,751.1 237.4,751.0 238.6,751.0 239.9,751.0 241.1,750.9 242.4,750.9 243.6,750.9 244.9,750.8 246.2,750.8 247.4,750.7 248.7,750.7 250.0,750.7 251.3,750.6 252.5,750.6 253.8,750.5 255.1,750.5 256.4,750.4 257.7,750.4 259.0,750.3 260.3,750.3 261.6,750.2 262.9,750.2 264.2,750.1 265.5,750.1 266.8,750.0 268.1,750.0 269.5,749.9 270.8,749.9 272.1,749.8 273.4,749.8 274.7,749.7 276.1,749.7 277.4,749.6 278.7,749.6 280.0,749.5 281.4,749.4 282.7,749.4 284.0,749.3 285.4,749.3 286.7,749.2 288.1,749.2 289.4,749.1 290.7,749.1 292.1,749.0 293.4,748.9 294.8,748.9 296.1,748.8 297.4,748.8 298.8,748.7 300.1,748.7 301.5,748.6 302.8,748.6 304.2,748.5 305.5,748.4 306.9,748.4 308.2,748.3 309.6,748.3 310.9,748.2 312.2,748.2 313.6,748.1 314.9,748.1 316.3,748.0 317.6,748.0 319.0,747.9 320.3,747.9 321.7,747.8 323.0,747.8 324.3,747.7 325.7,747.7 327.0,747.7 328.3,747.6 329.7,747.6 331.0,747.5 332.4,747.5 333.7,747.4 335.0,747.4 336.3,747.4 337.7,747.3 339.0,747.3 340.3,747.3 341.6,747.2 342.9,747.2 344.2,747.2 345.6,747.1 346.9,747.1 348.3,747.1 349.6,747.0 351.0,747.0 352.3,747.0 353.7,746.9 355.1,746.9 356.5,746.9 357.9,746.9 359.2,746.8 360.6,746.8 362.0,746.8 363.4,746.7 364.8,746.7 366.3,746.7 367.7,746.6 369.1,746.6 370.5,746.6 371.9,746.6 373.3,746.5 374.8,746.5 376.2,746.5 377.6,746.5 379.0,746.4 380.5,746.4 381.9,746.4 383.3,746.4 384.7,746.3 386.2,746.3 387.6,746.3 389.0,746.3 390.4,746.2 391.8,746.2 393.2,746.2 394.6,746.2 396.0,746.1 397.4,746.1 398.8,746.1 400.2,746.1 401.6,746.1 403.0,746.0 404.4,746.0 405.8,746.0 407.1,746.0 408.5,746.0 409.8,745.9 411.2,745.9 412.5,745.9 413.9,745.9 415.2,745.9 416.5,745.8 417.8,745.8 419.1,745.8 420.4,745.8 421.7,745.8 423.0,745.8 424.3,745.7 425.5,745.7 426.8,745.7 428.0,745.7 429.2,745.7 430.4,745.7 431.6,745.7 432.8,745.6 434.0,745.6 435.2,745.6 436.3,745.6 437.5,745.6 438.6,745.6 439.7,745.6 440.8,745.6 441.9,745.6 442.9,745.6 444.0,745.5 445.0,745.5 446.1,745.5 447.1,745.5 448.1,745.5 449.0,745.5 450.0,745.5 452.0,745.5 454.0,745.5 455.9,745.5 457.8,745.5 459.6,745.5 461.4,745.5 463.1,745.5 464.7,745.5 466.4,745.6 467.9,745.6 469.4,745.6 470.9,745.7 472.3,745.7 473.7,745.7 475.1,745.8 476.4,745.8 477.7,745.8 478.9,745.9 480.2,745.9 481.4,746.0 482.5,746.0 483.7,746.0 484.8,746.1 485.9,746.1 486.9,746.1 488.0,746.2 489.0,746.2 490.0,746.2 491.0,746.3 492.0,746.3 493.0,746.3 494.0,746.3 495.0,746.3 495.9,746.3 496.9,746.3 497.8,746.3 498.8,746.3 499.7,746.3 500.7,746.3 502.7,746.2 504.6,746.2 506.3,746.1 507.9,746.0 509.4,745.9 510.8,745.8 512.1,745.7 513.3,745.6 514.5,745.4 515.6,745.3 516.8,745.2 517.9,745.0 519.0,744.8 520.1,744.7 521.3,744.5 522.4,744.3 523.7,744.1 525.0,743.9 526.3,743.7 527.6,743.5 528.8,743.3 530.1,743.1 531.4,742.9 532.7,742.6 534.0,742.4 535.2,742.2 536.5,741.9 537.8,741.7 539.1,741.4 540.3,741.2 541.6,740.9 542.9,740.6 544.2,740.3 545.5,740.0 546.7,739.7 548.0,739.4 549.3,739.1 550.6,738.8 551.9,738.4 553.1,738.1 554.4,737.7 555.7,737.4 557.0,737.0 558.3,736.6 559.5,736.3 560.8,735.9 562.1,735.5 563.4,735.1 564.7,734.7 565.9,734.3 567.2,733.9 568.5,733.5 569.8,733.0 571.0,732.6 572.3,732.2 573.6,731.8 574.9,731.4 576.2,730.9 577.4,730.5 578.7,730.0 580.0,729.6 581.2,729.1 582.5,728.7 583.8,728.2 585.1,727.7 586.3,727.2 587.6,726.8 588.9,726.3 590.2,725.8 591.4,725.4 592.7,725.0 594.0,724.5 595.2,724.1 596.5,723.7 597.8,723.3 599.1,722.9 600.4,722.5 601.6,722.2 602.9,721.8 604.2,721.5 605.5,721.1 606.7,720.8 608.0,720.5 609.3,720.1 610.6,719.8 611.9,719.5 613.1,719.2 614.4,718.9 615.7,718.6 617.0,718.3 618.3,718.0 619.5,717.7 620.8,717.5 622.1,717.2 623.5,716.9 624.8,716.6 626.2,716.4 627.6,716.1 629.1,715.8 630.5,715.6 631.9,715.3 633.3,715.1 634.7,714.9 636.1,714.6 637.5,714.4 638.8,714.2 640.2,714.0 641.5,713.8 642.8,713.6 644.0,713.4 645.2,713.3 646.4,713.1 647.9,712.9 649.4,712.7 650.8,712.6 652.1,712.4 653.3,712.3 654.6,712.2 655.8,712.1 657.0,712.0 658.2,711.9 659.5,711.8 660.8,711.7 662.1,711.6 663.5,711.5 664.7,711.4 666.0,711.3 667.2,711.2 668.5,711.1 669.8,711.1 671.0,711.0 672.3,710.9 673.6,710.8 675.0,710.7 676.4,710.6 677.8,710.6 679.3,710.5 680.8,710.4 682.4,710.3 684.0,710.2 685.2,710.1 686.3,710.1 687.6,710.0 688.8,709.9 690.1,709.9 691.4,709.8 692.7,709.7 694.0,709.6 695.4,709.6 696.8,709.5 698.1,709.4 699.5,709.3 700.9,709.3 702.3,709.2 703.7,709.1 705.1,709.0 706.5,709.0 707.9,708.9 709.3,708.9 710.7,708.8 712.1,708.7 713.4,708.7 714.6,708.7 715.6,708.6 716.4,708.6 717.0,708.5 717.6,708.5 718.0,708.5 718.4,708.4 718.8,708.4 719.2,708.4 719.7,708.3 720.2,708.3 720.9,708.3 721.8,708.3 722.8,708.3 724.1,708.2 725.7,708.2 727.6,708.2 729.8,708.2 732.4,708.2 735.4,708.1 738.9,708.1 742.8,708.1 743.6,708.1 744.4,708.1 745.3,708.1 746.1,708.1 747.0,708.1 748.0,708.1 748.9,708.1 749.9,708.1 750.9,708.1 751.9,708.1 753.0,708.1 754.1,708.1 755.2,708.1 756.3,708.0 757.4,708.0 758.6,708.0 759.8,708.0 761.0,708.0 762.2,708.0 763.4,708.0 764.7,708.0 766.0,708.0 767.3,708.0 768.6,708.0 769.9,708.0 771.3,708.0 772.6,708.0 774.0,708.0 775.4,708.0 776.8,708.0 778.2,708.0 779.7,708.0 781.1,708.0 782.6,708.0 784.1,708.0 785.6,708.0 787.0,708.0 788.6,708.0 790.1,708.0 791.6,708.0 793.1,708.0 794.7,708.0 796.2,708.0 797.8,708.0 799.3,708.0 800.9,707.9 802.5,707.9 804.1,707.9 805.6,707.9 807.2,707.9 808.8,707.9 810.4,707.5 812.0,708.2 813.6,708.2 815.2,708.8 816.8,707.8 818.4,708.1 820.0,707.3 821.6,709.7 823.2,706.9 824.8,708.1 826.4,707.7 828.0,708.0 829.6,707.5 831.2,707.6 832.8,708.6 834.4,708.6 836.0,707.8 837.6,707.8 839.1,708.0 840.7,707.8 842.2,708.2 843.8,708.4 845.3,708.2 846.9,706.8 848.4,707.8 849.9,707.1 851.4,708.2 852.9,707.7 854.4,708.1 855.8,707.8 857.3,708.5 858.7,708.8 860.2,708.0 861.6,706.8 863.0,707.9 864.4,709.3 865.8,707.4 867.1,707.8 868.5,709.6 869.8,709.0 871.1,708.3 872.4,708.0 873.7,706.9 875.0,709.0 876.2,708.5 877.4,706.7 878.6,707.8 879.8,707.8 881.0,707.8 882.1,707.4 883.2,709.6 884.3,707.2 885.4,708.9 886.4,708.3 887.5,707.8 888.5,708.1 889.5,708.3 890.4,707.3 891.3,707.6 892.2,708.7 893.1,708.5 893.9,708.1 894.8,707.0 895.5,706.7 896.3,708.9 897.0,708.8 897.7,708.2 898.4,708.1" fill="none" stroke="#000" stroke-width="1.8" stroke-linejoin="round" stroke-linecap="round"/>
<line x1="713.1999999999999" y1="565.3" x2="752.3000000000001" y2="565.3" stroke="#ee0a0a" stroke-width="4.6" stroke-linecap="round"/>
<text x="759.0" y="571.6" font-size="24.5"><tspan>Ce</tspan><tspan font-size="24.5" dy="-10">3+</tspan><tspan dy="10">-comp.</tspan></text>
<path d="M44.0,1254.9 C76.7,1254.8 200.0,1254.5 240.0,1254.0 C280.0,1253.5 269.5,1252.6 284.2,1251.8 C298.9,1251.0 313.6,1249.7 328.3,1249.0 C343.0,1248.3 355.6,1248.0 372.5,1247.8 C389.4,1247.6 402.1,1247.8 430.0,1247.8 C457.9,1247.8 517.5,1247.7 540.0,1247.5 C562.5,1247.3 556.7,1247.2 565.0,1246.5 C573.3,1245.8 581.7,1244.7 590.0,1243.5 C598.3,1242.3 606.7,1240.7 615.0,1239.5 C623.3,1238.3 630.8,1237.4 640.0,1236.5 C649.2,1235.6 656.7,1234.8 670.0,1234.0 C683.3,1233.2 698.3,1232.0 720.0,1231.5 C741.7,1231.0 771.7,1231.0 800.0,1231.0 C828.3,1231.0 875.0,1231.2 890.0,1231.2" fill="none" stroke="#000" stroke-width="1.7" stroke-linejoin="round" stroke-linecap="round"/>
<path d="M185.0,1253.0 C189.2,1252.4 202.6,1251.0 210.0,1249.6 C217.4,1248.2 224.1,1246.1 229.4,1244.7 C234.7,1243.3 238.4,1243.1 241.6,1241.0 C244.8,1238.9 246.1,1234.2 248.8,1231.9 C251.5,1229.6 254.8,1227.8 257.7,1227.1 C260.6,1226.4 263.9,1227.5 266.5,1227.5 C269.1,1227.5 270.5,1228.1 273.1,1227.1 C275.7,1226.1 279.3,1221.4 281.9,1221.3 C284.5,1221.2 286.0,1224.8 288.6,1226.4 C291.2,1228.0 294.5,1229.9 297.4,1230.8 C300.3,1231.7 302.9,1231.2 306.2,1231.9 C309.5,1232.6 313.6,1234.1 317.3,1235.2 C321.0,1236.3 324.3,1237.4 328.3,1238.5 C332.3,1239.6 336.7,1241.1 341.5,1241.9 C346.3,1242.7 351.8,1242.9 357.0,1243.4 C362.2,1243.9 366.2,1244.3 372.5,1244.7 C378.8,1245.1 387.1,1245.3 394.5,1245.6 C401.9,1245.9 409.0,1246.1 416.6,1246.5 C424.2,1246.9 426.7,1247.7 440.0,1247.8 C453.3,1247.9 483.9,1248.8 496.2,1247.2 C508.5,1245.6 508.8,1241.1 513.9,1238.4 C519.0,1235.8 523.0,1231.8 527.1,1231.3 C531.2,1230.8 534.9,1235.9 538.2,1235.1 C541.5,1234.3 543.7,1228.7 547.0,1226.3 C550.3,1223.9 554.7,1221.3 558.0,1220.8 C561.3,1220.2 563.9,1223.8 566.9,1223.0 C569.9,1222.2 573.1,1218.0 575.7,1216.3 C578.3,1214.6 579.7,1212.8 582.3,1213.0 C584.9,1213.2 588.1,1215.6 591.1,1217.4 C594.1,1219.2 597.0,1223.3 600.0,1224.1 C603.0,1224.8 605.5,1222.7 608.8,1221.9 C612.1,1221.2 616.3,1219.6 619.8,1219.6 C623.3,1219.6 627.2,1221.3 630.0,1221.9 C632.8,1222.5 632.5,1222.3 636.5,1223.0 C640.5,1223.7 647.6,1225.5 654.2,1226.3 C660.8,1227.1 667.0,1227.4 676.2,1227.8 C685.4,1228.2 698.2,1228.1 709.3,1228.5 C720.3,1228.9 733.3,1229.5 742.5,1230.0 C751.7,1230.5 756.6,1231.5 764.5,1231.8 C772.4,1232.1 785.8,1232.0 790.0,1232.0" fill="none" stroke="#ee0a0a" stroke-width="5.3" stroke-linejoin="round" stroke-linecap="round"/>
<path d="M43.6,1254.9 C63.2,1254.9 137.7,1255.2 161.4,1254.9 C185.1,1254.6 177.6,1254.0 185.7,1253.2 C193.8,1252.4 202.7,1251.0 210.0,1250.0 C217.3,1249.0 224.1,1248.4 229.4,1247.1 C234.7,1245.8 238.4,1245.6 241.6,1242.3 C244.8,1239.0 246.1,1231.8 248.8,1227.5 C251.5,1223.2 254.8,1220.5 257.7,1216.5 C260.6,1212.5 263.6,1208.7 266.5,1203.2 C269.4,1197.7 272.4,1190.0 275.3,1183.4 C278.2,1176.8 281.4,1169.8 284.2,1163.5 C287.0,1157.2 289.9,1151.0 291.9,1145.8 C293.9,1140.6 294.8,1135.5 296.3,1132.6 C297.8,1129.7 299.2,1128.2 300.7,1128.2 C302.2,1128.2 303.6,1129.3 305.1,1132.6 C306.6,1135.9 307.8,1141.8 309.5,1148.0 C311.2,1154.2 313.1,1163.5 315.1,1170.1 C317.1,1176.7 318.8,1182.6 321.7,1187.8 C324.6,1193.0 329.0,1197.0 332.7,1201.0 C336.4,1205.0 340.1,1209.1 343.8,1212.1 C347.5,1215.0 351.1,1217.3 354.8,1218.7 C358.5,1220.1 362.1,1220.4 365.8,1220.4 C369.5,1220.4 373.0,1219.7 376.9,1218.7 C380.8,1217.7 385.7,1214.5 389.0,1214.3 C392.3,1214.1 394.3,1215.4 396.7,1217.6 C399.1,1219.8 400.8,1224.0 403.4,1227.5 C406.0,1231.0 409.3,1235.7 412.2,1238.5 C415.1,1241.3 416.4,1242.6 421.0,1244.1 C425.6,1245.6 429.3,1246.8 440.0,1247.5 C450.7,1248.2 474.0,1248.7 485.2,1248.3 C496.4,1247.9 501.1,1246.3 507.3,1245.0 C513.6,1243.7 518.7,1241.3 522.7,1240.6 C526.7,1239.9 528.5,1241.3 531.5,1240.6 C534.5,1239.9 536.7,1238.4 540.4,1236.2 C544.1,1234.0 549.5,1230.7 553.6,1227.4 C557.7,1224.1 561.4,1222.2 564.7,1216.3 C568.0,1210.4 570.2,1200.5 573.5,1192.0 C576.8,1183.5 581.2,1173.7 584.5,1165.6 C587.8,1157.5 590.8,1150.1 593.4,1143.5 C596.0,1136.9 597.8,1131.7 600.0,1125.8 C602.2,1119.9 604.1,1112.8 606.6,1108.2 C609.1,1103.7 612.0,1098.1 614.8,1098.5 C617.6,1098.9 620.3,1104.0 623.2,1110.4 C626.1,1116.8 629.2,1128.5 632.1,1136.9 C635.0,1145.4 637.6,1153.9 640.9,1161.1 C644.2,1168.3 648.2,1175.1 651.9,1179.9 C655.6,1184.7 658.6,1187.5 663.0,1189.8 C667.4,1192.1 673.6,1193.8 678.4,1193.8 C683.2,1193.8 687.3,1191.8 691.7,1189.8 C696.1,1187.8 701.6,1182.8 704.9,1182.1 C708.2,1181.4 708.9,1182.3 711.5,1185.4 C714.1,1188.5 717.4,1196.1 720.4,1200.9 C723.4,1205.7 725.9,1210.2 729.2,1214.1 C732.5,1218.0 735.8,1221.7 740.2,1224.1 C744.6,1226.5 749.8,1227.4 755.7,1228.5 C761.6,1229.6 768.2,1230.2 775.6,1230.7 C783.0,1231.2 795.9,1231.2 800.0,1231.3" fill="none" stroke="#0000f0" stroke-width="5.3" stroke-linejoin="round" stroke-linecap="round"/>
<polyline points="43.6,1255.4 44.3,1255.3 45.0,1254.3 45.8,1254.0 46.6,1254.8 47.5,1255.2 48.5,1254.8 49.5,1254.2 50.5,1254.6 51.6,1255.5 52.7,1254.2 53.8,1255.3 55.0,1255.1 56.2,1255.0 57.5,1255.2 58.8,1254.6 60.1,1254.8 61.4,1255.6 62.8,1254.6 64.2,1254.6 65.6,1254.1 67.0,1254.6 68.5,1255.1 70.0,1255.3 71.5,1255.0 72.9,1255.0 74.5,1255.0 76.0,1254.9 77.5,1255.2 79.0,1254.6 80.6,1255.2 82.1,1254.7 83.7,1254.0 85.2,1254.1 86.7,1254.6 88.3,1254.4 89.8,1254.1 91.3,1254.3 92.8,1254.7 94.3,1254.8 95.8,1255.0 97.2,1254.2 98.7,1254.7 100.1,1255.0 101.5,1254.7 102.9,1255.3 104.3,1254.3 105.6,1254.5 106.9,1254.6 108.2,1254.3 109.4,1254.4 110.6,1254.5 111.8,1254.4 112.9,1254.2 114.5,1254.2 116.1,1254.3 117.6,1253.7 119.2,1254.4 120.7,1253.8 122.2,1254.2 123.7,1253.8 125.2,1254.3 126.7,1254.0 128.1,1254.1 129.6,1253.8 131.0,1254.2 132.4,1254.8 133.8,1253.3 135.2,1254.3 136.6,1254.2 138.0,1253.9 139.3,1253.4 140.6,1254.7 141.9,1254.0 143.2,1254.4 144.5,1253.7 145.7,1253.5 147.0,1254.3 148.2,1254.1 149.4,1253.6 150.6,1253.6 151.8,1254.0 152.9,1253.3 154.0,1253.2 155.1,1253.5 156.2,1253.9 157.3,1253.8 158.4,1253.5 159.4,1253.9 160.4,1253.2 161.4,1253.0 163.3,1254.1 165.2,1252.7 166.9,1253.0 168.4,1252.8 169.9,1252.5 171.3,1252.3 172.6,1252.3 173.9,1252.1 175.1,1251.4 176.2,1251.4 177.4,1251.8 178.5,1251.3 179.6,1250.6 180.8,1250.6 181.9,1249.9 183.1,1249.5 184.4,1249.6 185.7,1250.3 187.0,1249.1 188.3,1248.3 189.6,1248.9 190.9,1248.4 192.2,1248.7 193.5,1248.7 194.9,1247.7 196.2,1247.7 197.5,1247.0 198.8,1247.6 200.1,1246.7 201.4,1246.6 202.7,1246.6 204.0,1245.9 205.2,1245.8 206.4,1245.5 207.6,1245.3 208.8,1245.0 210.0,1244.9 211.5,1244.5 212.9,1244.2 214.3,1243.6 215.8,1243.5 217.2,1242.9 218.6,1243.0 219.9,1242.5 221.3,1242.4 222.6,1241.8 223.8,1241.6 225.0,1241.3 226.2,1241.0 227.3,1240.6 228.4,1240.2 229.4,1239.8 231.1,1239.2 232.6,1238.6 233.8,1238.1 235.0,1237.6 236.0,1237.4 237.1,1236.2 238.1,1235.1 239.1,1233.9 239.6,1233.0 240.1,1232.0 240.7,1231.1 241.2,1230.1 241.6,1228.5 242.1,1227.6 242.6,1226.2 243.0,1224.9 243.5,1223.4 244.0,1222.3 244.4,1220.9 244.8,1219.0 245.3,1218.2 245.7,1216.9 246.2,1215.3 246.6,1214.4 247.1,1212.9 247.6,1211.7 248.0,1210.2 248.5,1209.1 248.9,1207.8 249.4,1206.3 249.8,1205.0 250.3,1203.5 250.7,1202.6 251.2,1201.1 251.6,1200.1 252.1,1198.8 252.7,1198.1 253.2,1196.6 253.9,1195.6 254.6,1194.1 255.3,1193.0 256.1,1192.0 256.9,1190.8 257.7,1190.1 258.4,1188.7 259.2,1187.9 260.0,1186.4 260.7,1185.4 261.4,1184.6 262.1,1183.2 262.8,1182.5 263.4,1181.1 264.1,1179.9 264.7,1179.0 265.3,1177.5 265.8,1176.3 266.4,1174.9 267.0,1173.8 267.5,1172.7 268.1,1171.2 268.7,1170.2 269.2,1169.1 269.6,1167.9 270.1,1166.3 270.6,1165.2 271.1,1163.8 271.5,1162.9 272.0,1161.6 272.5,1160.1 272.9,1158.8 273.4,1157.5 273.9,1156.3 274.4,1154.8 274.8,1153.6 275.3,1152.6 275.8,1151.2 276.4,1149.8 276.9,1148.3 277.5,1147.0 278.0,1145.6 278.6,1144.1 279.1,1143.1 279.7,1141.8 280.2,1140.3 280.8,1139.2 281.3,1137.9 281.9,1136.8 282.7,1135.5 283.6,1134.3 284.4,1133.4 285.2,1132.6 286.1,1131.7 286.9,1130.5 287.8,1129.5 288.6,1128.1 289.2,1126.9 289.7,1126.0 290.3,1124.4 290.8,1123.3 291.4,1121.4 292.0,1120.2 292.5,1118.6 293.1,1117.4 293.6,1116.0 294.2,1114.6 294.7,1113.7 295.2,1112.9 296.4,1111.1 297.5,1109.8 298.6,1108.7 299.6,1108.6 300.7,1108.2 301.6,1108.6 302.5,1108.9 303.4,1109.9 304.4,1110.9 305.3,1112.8 306.2,1114.6 306.5,1116.1 306.8,1116.9 307.2,1118.1 307.5,1119.2 307.8,1120.3 308.1,1121.6 308.5,1122.9 308.8,1124.0 309.1,1125.5 309.4,1127.1 309.8,1128.7 310.1,1129.8 310.4,1131.5 310.7,1132.8 311.0,1134.4 311.4,1135.8 311.7,1136.8 312.0,1138.1 312.3,1139.8 312.7,1141.1 313.0,1142.2 313.3,1143.7 313.6,1144.9 313.9,1146.3 314.3,1147.5 314.6,1148.9 314.9,1150.4 315.2,1151.7 315.6,1153.0 315.9,1154.1 316.3,1155.5 316.6,1156.5 316.9,1157.8 317.3,1159.1 317.7,1160.3 318.1,1161.8 318.4,1162.8 318.8,1164.6 319.2,1165.8 319.6,1167.0 320.0,1168.2 320.4,1169.5 320.8,1170.8 321.2,1171.8 321.6,1173.2 322.1,1174.3 322.5,1175.8 323.0,1177.0 323.4,1178.1 323.9,1178.7 324.5,1180.0 325.2,1181.7 325.9,1182.9 326.6,1184.1 327.3,1185.1 328.0,1186.1 328.8,1187.5 329.5,1188.3 330.3,1189.3 331.1,1190.0 331.9,1191.2 332.7,1192.4 333.5,1193.3 334.4,1194.3 335.3,1195.1 336.2,1196.2 337.2,1197.0 338.1,1198.0 339.1,1199.0 340.0,1200.0 341.0,1200.6 341.9,1201.5 342.9,1202.3 343.8,1203.2 344.9,1204.2 346.0,1205.3 347.1,1206.3 348.2,1207.2 349.3,1208.2 350.4,1208.8 351.5,1209.9 352.6,1211.0 353.7,1211.3 354.8,1212.0 356.2,1212.9 357.5,1213.6 358.9,1213.9 360.3,1214.2 361.7,1215.0 363.0,1214.7 364.4,1215.1 365.8,1215.3 367.2,1215.1 368.5,1215.7 369.9,1215.7 371.2,1215.0 372.6,1215.0 374.0,1214.8 375.4,1214.7 376.9,1214.3 378.2,1214.1 379.5,1213.7 380.9,1213.2 382.3,1212.8 383.8,1212.5 385.2,1211.9 386.6,1211.6 387.8,1211.2 389.0,1211.1 390.1,1211.1 391.8,1211.0 393.2,1211.3 394.4,1212.0 395.5,1213.2 396.7,1214.2 397.4,1215.3 398.1,1216.6 398.8,1217.4 399.6,1218.9 400.3,1220.0 401.0,1221.3 401.8,1222.8 402.6,1223.9 403.4,1224.9 404.2,1226.4 405.0,1227.5 405.8,1228.8 406.7,1230.2 407.5,1231.2 408.4,1232.0 409.3,1233.4 410.3,1234.1 411.2,1235.0 412.2,1236.6 413.3,1237.1 414.5,1237.8 415.8,1239.0 417.1,1239.8 418.3,1240.6 419.6,1241.2 420.9,1241.9 422.1,1242.6 423.2,1243.0 424.7,1243.5 425.9,1244.1 427.0,1244.3 428.3,1244.8 429.9,1244.9 432.0,1245.2 433.0,1245.3 434.0,1245.6 435.1,1245.8 436.2,1245.8 437.4,1245.6 438.6,1246.2 439.9,1246.2 441.2,1246.5 442.6,1246.5 444.0,1246.8 445.5,1246.8 447.1,1246.8 448.7,1246.8 450.4,1247.1 452.1,1247.2 453.2,1247.0 454.4,1246.9 455.6,1247.4 456.8,1247.7 458.1,1247.3 459.5,1247.4 460.9,1247.3 462.3,1247.3 463.7,1247.8 465.1,1247.3 466.6,1247.6 468.1,1247.5 469.5,1247.7 471.0,1247.9 472.5,1247.6 473.9,1247.6 475.3,1247.8 476.7,1247.5 478.0,1247.3 479.4,1247.7 480.6,1247.4 481.9,1247.5 483.0,1247.7 484.2,1247.4 485.2,1247.3 487.1,1247.3 488.8,1246.7 490.5,1246.3 492.0,1246.1 493.4,1246.0 494.7,1245.7 496.0,1245.2 497.2,1245.3 498.4,1244.7 499.5,1244.2 500.6,1243.6 501.7,1243.3 502.8,1242.8 504.2,1242.1 505.5,1241.9 506.7,1241.0 507.8,1240.1 508.9,1239.2 509.9,1238.2 510.9,1237.8 511.9,1236.7 512.9,1236.1 513.9,1235.2 515.0,1233.9 516.1,1233.1 517.1,1232.0 518.1,1230.9 519.1,1229.9 520.0,1228.9 520.9,1227.9 521.8,1227.2 522.7,1226.4 524.1,1225.2 525.4,1224.4 526.6,1223.7 527.9,1223.4 529.3,1223.4 530.5,1223.7 531.7,1224.2 533.1,1224.8 534.4,1225.9 535.8,1226.5 537.0,1227.2 538.2,1227.8 539.4,1227.4 540.6,1226.5 541.6,1226.0 542.7,1225.6 543.7,1224.2 544.8,1222.8 545.4,1221.9 546.0,1221.1 546.6,1219.8 547.2,1218.7 547.8,1217.4 548.4,1216.1 549.0,1214.7 549.6,1213.3 550.2,1212.2 550.8,1211.1 551.4,1209.6 552.1,1208.3 552.9,1207.3 553.6,1205.5 554.3,1204.2 555.1,1203.3 555.8,1202.1 556.5,1200.8 557.3,1199.9 558.0,1198.7 559.0,1197.7 559.9,1196.9 560.9,1196.3 561.8,1195.6 562.8,1195.0 563.7,1193.7 564.7,1192.3 565.1,1191.1 565.5,1190.0 565.9,1189.0 566.4,1187.9 566.8,1186.8 567.2,1185.5 567.6,1184.3 568.0,1183.0 568.4,1181.4 568.8,1180.0 569.2,1179.0 569.7,1177.4 570.1,1176.4 570.5,1174.7 570.9,1173.3 571.3,1172.0 571.7,1170.8 572.1,1170.1 572.5,1168.1 572.9,1166.7 573.4,1165.6 573.8,1164.5 574.2,1163.5 574.6,1162.0 575.0,1160.4 575.4,1159.5 575.8,1158.2 576.2,1156.7 576.7,1155.7 577.1,1154.5 577.5,1153.3 577.9,1152.2 578.5,1150.8 579.1,1149.6 579.6,1148.1 580.2,1147.1 580.8,1146.0 581.3,1144.5 581.9,1143.7 582.5,1142.5 583.2,1141.5 583.8,1140.2 584.5,1139.3 585.2,1138.1 585.9,1137.1 586.6,1135.9 587.4,1134.5 588.2,1133.7 588.9,1132.8 589.7,1131.6 590.5,1130.5 591.3,1129.3 592.0,1128.1 592.7,1126.8 593.4,1125.5 594.0,1124.6 594.6,1123.5 595.2,1122.1 595.8,1120.8 596.3,1119.6 596.8,1118.6 597.4,1117.0 597.9,1115.8 598.4,1114.5 598.9,1113.3 599.5,1111.8 600.0,1110.3 600.5,1109.1 600.9,1107.8 601.4,1106.6 601.9,1105.5 602.4,1104.0 602.8,1102.6 603.3,1101.2 603.8,1099.9 604.2,1098.8 604.7,1097.5 605.2,1096.2 605.7,1095.1 606.1,1094.0 606.6,1092.7 607.3,1091.3 608.0,1089.5 608.7,1088.5 609.4,1087.0 610.0,1085.8 610.7,1084.4 611.4,1083.5 612.0,1082.4 612.6,1081.7 613.2,1080.8 614.8,1080.0 616.2,1079.8 617.5,1080.6 618.2,1081.1 618.8,1081.9 619.4,1082.8 620.1,1084.1 621.0,1086.2 621.4,1086.9 621.9,1087.8 622.5,1089.0 623.0,1090.5 623.6,1091.5 624.2,1092.7 624.8,1094.0 625.4,1095.4 626.0,1096.9 626.6,1098.7 627.1,1100.1 627.7,1101.5 628.0,1102.3 628.4,1103.5 628.7,1104.9 629.1,1105.9 629.4,1107.3 629.7,1108.4 630.0,1109.8 630.4,1111.1 630.7,1112.2 631.0,1113.4 631.4,1114.9 631.7,1116.2 632.1,1117.5 632.4,1119.0 632.8,1120.6 633.1,1121.7 633.5,1123.1 633.9,1124.3 634.3,1125.9 634.7,1127.1 635.0,1128.3 635.4,1129.8 635.8,1130.9 636.2,1132.3 636.6,1133.4 637.0,1134.8 637.4,1135.9 637.8,1137.5 638.2,1138.9 638.6,1139.9 639.1,1141.2 639.5,1142.6 639.9,1143.9 640.4,1145.3 640.8,1146.0 641.2,1147.6 641.7,1148.9 642.2,1150.1 642.6,1151.0 643.1,1152.4 643.7,1153.7 644.3,1155.0 644.9,1156.3 645.6,1157.6 646.2,1159.0 646.9,1160.0 647.5,1160.9 648.2,1162.7 648.8,1163.4 649.5,1165.0 650.2,1166.1 650.9,1167.3 651.5,1168.1 652.2,1169.4 652.9,1170.3 653.5,1171.2 654.2,1172.2 655.2,1173.4 656.2,1175.1 657.1,1175.9 658.1,1177.1 659.1,1178.1 660.1,1179.1 661.0,1180.0 662.0,1180.8 663.1,1181.7 664.1,1182.5 665.2,1183.2 666.4,1184.2 667.7,1184.8 669.1,1185.5 670.4,1186.3 671.8,1186.8 673.2,1187.5 674.5,1188.0 675.9,1187.9 677.2,1188.6 678.4,1188.6 679.9,1188.5 681.3,1188.4 682.7,1188.0 684.1,1188.0 685.4,1187.4 686.8,1186.7 688.1,1186.0 689.5,1185.2 690.8,1185.1 692.0,1184.3 693.3,1183.3 694.6,1182.3 695.9,1181.5 697.2,1180.6 698.4,1179.8 699.5,1179.2 700.5,1178.7 702.1,1178.0 703.5,1177.6 704.7,1177.1 705.8,1177.3 707.1,1177.7 708.0,1178.4 708.9,1179.2 709.9,1180.3 710.8,1181.2 711.7,1182.3 712.7,1183.8 713.8,1185.8 714.4,1186.2 715.0,1187.4 715.7,1188.7 716.4,1189.7 717.0,1191.0 717.7,1192.4 718.4,1193.6 719.1,1194.8 719.8,1196.1 720.5,1197.4 721.2,1198.7 721.9,1199.9 722.6,1200.9 723.3,1202.1 724.0,1203.3 724.7,1204.4 725.4,1205.5 726.2,1206.9 726.9,1207.5 727.6,1208.9 728.3,1210.2 729.0,1211.1 729.8,1211.9 730.6,1213.0 731.4,1214.4 732.3,1215.3 733.2,1216.2 734.2,1217.2 735.2,1218.2 736.2,1219.2 737.2,1220.0 738.2,1221.0 739.3,1221.9 740.3,1222.7 741.4,1223.6 742.5,1223.8 743.7,1224.8 744.9,1225.4 746.1,1225.9 747.3,1226.4 748.5,1226.9 749.8,1227.3 751.2,1227.5 752.6,1227.9 754.1,1228.3 755.7,1228.5 756.8,1228.9 757.9,1228.8 759.0,1229.3 760.1,1229.3 761.3,1229.7 762.5,1229.8 763.7,1229.6 765.0,1230.0 766.3,1230.1 767.6,1230.2 769.1,1230.2 770.6,1230.5 772.2,1230.5 773.8,1230.6 775.6,1230.7 776.6,1230.8 777.6,1230.8 778.6,1230.7 779.6,1230.9 780.6,1230.5 781.5,1231.0 782.5,1231.0 783.5,1231.1 784.5,1231.0 785.5,1231.2 786.5,1231.3 787.6,1231.1 788.8,1231.2 789.9,1231.1 791.2,1231.1 792.5,1231.4 793.8,1231.3 795.2,1231.6 796.7,1231.2 798.3,1231.2 800.0,1231.5 801.8,1231.2 803.7,1231.6 805.7,1231.1 807.8,1232.1 810.0,1231.4 810.9,1231.7 811.9,1232.0 812.9,1231.0 814.0,1231.4 815.1,1231.1 816.2,1231.9 817.4,1230.8 818.6,1231.3 819.8,1231.3 821.1,1232.0 822.4,1232.3 823.7,1231.6 825.1,1232.4 826.4,1231.9 827.8,1231.0 829.2,1231.5 830.7,1231.1 832.1,1231.9 833.6,1231.8 835.1,1231.7 836.6,1231.2 838.1,1231.5 839.6,1231.0 841.2,1231.5 842.7,1232.2 844.3,1231.5 845.8,1232.2 847.4,1231.6 849.0,1231.4 850.5,1231.8 852.1,1230.9 853.7,1232.3 855.2,1231.7 856.8,1231.1 858.3,1231.9 859.9,1231.1 861.4,1232.0 862.9,1232.1 864.4,1232.0 865.9,1231.0 867.4,1231.4 868.9,1232.0 870.3,1231.8 871.8,1231.8 873.2,1232.6 874.5,1232.0 875.9,1231.4 877.2,1231.0 878.5,1231.2 879.8,1230.9 881.1,1231.2 882.3,1231.6 883.5,1231.0 884.6,1231.5 885.7,1231.3 886.8,1231.7 887.9,1230.9 888.9,1231.2 889.8,1231.5 890.7,1231.7 891.6,1231.5 892.4,1230.2 893.2,1231.4 893.9,1230.7 894.6,1231.4" fill="none" stroke="#008200" stroke-width="5.3" stroke-linejoin="round" stroke-linecap="round"/>
<polyline points="44.9,1192.6 45.6,1192.5 46.4,1192.5 47.2,1192.2 48.1,1192.5 49.1,1192.4 50.1,1192.9 51.2,1191.9 52.3,1193.5 53.5,1190.9 54.8,1192.4 56.1,1192.7 57.4,1192.2 58.7,1191.9 60.1,1192.2 61.5,1192.5 63.0,1192.8 64.5,1191.5 65.9,1192.2 67.5,1191.8 69.0,1192.6 70.5,1191.8 72.1,1192.1 73.6,1192.5 75.2,1191.8 76.7,1192.1 78.2,1191.6 79.8,1191.8 81.3,1191.0 82.8,1191.4 84.3,1191.6 85.7,1191.5 87.2,1192.8 88.6,1190.7 89.9,1190.7 91.1,1191.8 92.4,1192.0 93.7,1191.8 95.0,1192.2 96.3,1192.7 97.7,1191.4 99.0,1191.0 100.3,1191.6 101.7,1192.2 103.0,1191.8 104.4,1191.5 105.8,1191.7 107.1,1191.7 108.5,1190.8 109.9,1191.8 111.2,1191.2 112.6,1191.4 114.0,1191.3 115.3,1191.6 116.7,1192.0 118.1,1191.4 119.4,1191.6 120.8,1191.9 122.1,1191.7 123.4,1191.1 124.7,1191.8 126.0,1191.2 127.3,1191.3 128.6,1191.5 129.9,1192.1 131.1,1191.0 132.3,1191.2 133.6,1191.4 134.8,1190.9 135.9,1191.3 137.1,1191.9 138.6,1190.4 140.1,1191.2 141.6,1190.8 143.1,1192.1 144.5,1191.4 145.9,1191.4 147.4,1191.0 148.8,1190.6 150.2,1191.0 151.5,1191.1 152.9,1191.0 154.2,1191.7 155.6,1191.2 156.9,1190.4 158.2,1190.6 159.4,1190.9 160.7,1190.2 162.0,1190.6 163.2,1190.3 164.4,1190.7 165.6,1190.6 166.8,1190.2 168.0,1191.0 169.1,1190.1 170.3,1190.6 171.4,1189.7 172.5,1189.7 173.6,1189.8 175.2,1189.8 176.8,1190.2 178.3,1189.0 179.8,1190.3 181.2,1188.8 182.6,1189.9 183.9,1189.1 185.2,1188.6 186.5,1189.0 187.7,1188.2 189.0,1188.2 190.2,1188.1 191.4,1189.2 192.7,1187.2 193.9,1188.3 195.2,1187.1 196.5,1186.7 197.8,1186.6 199.2,1187.3 200.6,1186.4 202.0,1185.9 203.4,1186.4 204.9,1186.1 206.3,1186.2 207.8,1185.0 209.3,1186.1 210.7,1185.7 212.1,1184.6 213.5,1184.6 214.9,1184.8 216.2,1184.3 217.5,1184.6 218.7,1184.3 219.9,1183.8 221.0,1183.1 222.1,1182.5 224.0,1183.3 225.7,1182.2 227.2,1183.0 228.6,1183.1 229.9,1182.0 231.0,1182.0 232.2,1181.8 233.2,1181.2 234.3,1179.8 235.6,1179.3 236.8,1178.9 237.9,1178.5 238.9,1177.4 239.8,1176.9 240.7,1176.0 241.6,1174.2 242.1,1173.4 242.5,1172.2 242.9,1171.2 243.3,1170.3 243.6,1169.1 244.0,1167.6 244.3,1166.1 244.7,1165.3 245.0,1163.1 245.4,1162.0 245.8,1160.6 246.2,1159.3 246.6,1158.1 247.0,1156.7 247.4,1156.3 247.8,1154.7 248.2,1153.2 248.7,1151.6 249.1,1150.1 249.6,1149.3 250.0,1147.9 250.5,1146.5 250.9,1145.4 251.4,1144.0 251.8,1142.3 252.3,1141.0 252.8,1140.2 253.2,1139.2 253.8,1137.9 254.4,1136.4 255.0,1135.0 255.6,1133.6 256.2,1132.7 256.9,1131.5 257.5,1130.1 258.1,1128.9 258.7,1128.0 259.3,1126.8 259.9,1126.0 260.7,1124.5 261.6,1123.7 262.4,1122.4 263.3,1121.8 264.1,1121.2 264.9,1119.4 265.7,1118.5 266.5,1117.6 267.0,1116.2 267.5,1115.0 268.0,1113.9 268.5,1112.5 268.9,1111.1 269.4,1109.5 269.8,1108.6 270.3,1107.3 270.7,1106.2 271.2,1104.6 271.6,1102.8 272.0,1101.8 272.3,1100.2 272.6,1099.4 273.0,1097.6 273.3,1096.6 273.5,1095.0 273.8,1093.4 274.1,1092.3 274.4,1090.5 274.7,1088.6 275.0,1087.8 275.3,1086.2 275.5,1085.0 275.8,1084.0 276.1,1083.0 276.4,1081.8 277.0,1079.7 277.6,1078.1 278.2,1076.6 278.8,1075.7 279.4,1074.5 280.1,1074.0 280.8,1072.8 282.0,1072.5 283.4,1072.4 284.8,1072.1 286.2,1071.6 287.5,1071.0 288.2,1069.8 288.8,1069.0 289.5,1068.3 290.1,1066.9 290.7,1065.5 291.3,1064.1 291.9,1062.6 292.4,1061.6 293.0,1060.1 293.4,1058.8 293.7,1057.3 294.1,1056.0 294.4,1054.3 294.7,1052.8 295.1,1051.7 295.4,1050.2 295.7,1048.3 296.0,1046.9 296.4,1045.8 296.7,1044.2 297.0,1043.4 297.4,1042.3 298.0,1040.1 298.6,1038.5 299.3,1037.1 299.9,1035.6 300.6,1034.0 301.2,1033.0 301.9,1032.3 302.5,1032.2 303.1,1032.4 303.7,1032.8 304.3,1033.7 304.9,1035.1 305.5,1036.5 306.1,1038.2 306.7,1039.8 307.3,1042.1 307.6,1043.2 307.8,1044.1 308.1,1045.5 308.4,1046.4 308.6,1047.7 308.9,1049.0 309.1,1049.7 309.4,1051.6 309.6,1053.0 309.9,1053.9 310.2,1055.2 310.4,1056.8 310.7,1058.4 310.9,1059.9 311.2,1061.0 311.4,1062.7 311.7,1063.9 311.9,1065.5 312.1,1066.6 312.4,1068.0 312.6,1069.1 312.8,1070.5 313.0,1072.1 313.3,1073.0 313.5,1074.6 313.7,1075.9 313.9,1077.3 314.2,1078.6 314.4,1080.4 314.6,1081.7 314.9,1082.8 315.1,1084.6 315.3,1085.5 315.5,1087.1 315.8,1087.9 316.0,1089.2 316.2,1090.4 316.5,1092.4 316.7,1093.6 317.0,1094.7 317.2,1096.2 317.4,1097.4 317.7,1098.8 317.9,1099.9 318.1,1101.6 318.4,1102.8 318.6,1103.8 318.9,1105.3 319.1,1106.7 319.4,1107.8 319.7,1108.9 320.0,1110.3 320.3,1111.6 320.6,1113.1 320.9,1113.9 321.3,1115.4 321.7,1116.7 322.0,1117.9 322.4,1119.3 322.8,1120.3 323.2,1121.7 323.6,1122.9 324.0,1124.5 324.4,1125.6 324.8,1126.7 325.3,1128.0 325.7,1129.4 326.2,1130.3 326.7,1131.0 327.2,1133.0 327.9,1133.9 328.6,1135.4 329.4,1136.2 330.2,1137.5 331.0,1138.7 331.9,1139.8 332.7,1140.7 333.6,1142.2 334.5,1142.6 335.3,1143.7 336.2,1145.2 337.1,1145.8 338.0,1146.5 338.9,1148.0 339.8,1149.0 340.7,1150.1 341.6,1151.3 342.6,1151.8 343.5,1153.0 344.5,1153.7 345.4,1154.4 346.3,1155.2 347.3,1156.0 348.2,1156.6 349.4,1158.1 350.7,1158.4 351.9,1159.0 353.1,1159.9 354.3,1160.3 355.5,1161.3 356.8,1162.0 358.0,1162.1 359.2,1162.4 360.6,1162.7 361.9,1163.2 363.3,1163.5 364.7,1163.7 366.1,1163.5 367.4,1163.7 368.8,1163.3 370.2,1163.5 371.6,1163.5 373.0,1163.2 374.4,1162.4 375.8,1161.8 377.1,1162.0 378.5,1161.1 379.9,1160.6 381.3,1160.3 382.7,1159.7 384.1,1159.3 385.5,1158.7 386.9,1157.9 388.3,1157.3 389.7,1157.1 391.0,1156.3 392.3,1157.1 393.7,1156.9 395.0,1157.2 396.2,1158.0 397.4,1158.7 398.6,1159.3 399.9,1160.1 401.1,1160.9 402.0,1162.0 402.8,1163.0 403.7,1163.9 404.6,1165.3 405.4,1166.6 406.3,1167.7 407.2,1169.5 408.1,1170.2 409.0,1171.4 410.0,1173.0 411.0,1173.6 412.1,1174.1 413.1,1175.1 414.2,1175.8 415.4,1176.7 416.5,1177.4 417.6,1177.8 418.8,1178.5 419.9,1179.6 421.0,1180.4 422.3,1180.7 423.5,1181.0 424.7,1181.4 425.9,1182.4 427.2,1182.8 428.6,1183.0 430.2,1183.1 432.0,1183.3 433.1,1183.8 434.2,1183.7 435.4,1183.6 436.7,1183.5 438.0,1184.0 439.3,1184.2 440.7,1184.1 442.1,1184.7 443.5,1184.3 444.9,1184.9 446.4,1184.7 447.8,1184.7 449.2,1185.0 450.7,1184.7 452.1,1185.3 453.3,1184.9 454.6,1185.0 455.9,1185.3 457.2,1185.3 458.5,1185.1 459.8,1185.5 461.1,1185.1 462.4,1185.4 463.7,1185.3 465.0,1185.4 466.3,1185.6 467.6,1185.4 469.0,1185.3 470.3,1185.7 471.6,1185.6 472.9,1185.3 474.2,1185.3 475.6,1185.2 477.0,1185.8 478.4,1185.3 479.9,1185.5 481.3,1185.3 482.7,1185.2 484.2,1185.0 485.6,1184.5 487.0,1184.7 488.4,1184.7 489.8,1184.4 491.2,1184.7 492.5,1184.3 493.8,1184.1 495.0,1183.4 496.2,1183.9 497.7,1183.6 499.2,1182.8 500.6,1182.5 501.9,1182.6 503.2,1181.8 504.5,1181.7 505.7,1181.2 506.9,1181.1 508.1,1180.3 509.3,1179.9 510.5,1179.3 511.7,1178.4 512.9,1178.2 514.0,1177.8 515.2,1176.7 516.3,1176.0 517.4,1175.1 518.4,1174.4 519.5,1173.5 520.6,1172.9 521.6,1171.7 522.7,1170.9 523.8,1171.0 524.9,1170.3 526.3,1170.1 527.7,1170.4 529.1,1170.0 530.5,1170.7 532.0,1170.6 533.4,1170.4 534.7,1171.0 536.0,1171.2 537.1,1171.3 538.2,1171.1 539.7,1171.1 540.9,1170.4 541.9,1169.5 542.8,1168.3 543.8,1167.1 544.8,1165.7 545.3,1165.0 545.9,1163.2 546.4,1162.6 546.9,1161.3 547.4,1159.7 548.0,1158.3 548.5,1156.6 549.0,1155.3 549.6,1154.2 550.2,1152.7 550.8,1151.5 551.4,1150.3 552.2,1148.7 553.1,1147.8 553.9,1146.8 554.9,1145.7 555.8,1144.5 556.7,1143.0 557.6,1142.4 558.5,1140.9 559.4,1140.5 560.2,1139.0 561.0,1137.7 561.9,1137.0 562.6,1135.8 563.4,1134.6 564.1,1133.7 564.8,1132.1 565.5,1131.0 566.2,1129.6 566.9,1128.1 567.3,1127.1 567.7,1126.0 568.2,1124.4 568.6,1123.5 569.0,1122.4 569.3,1121.0 569.7,1120.1 570.1,1118.5 570.5,1117.1 570.9,1116.1 571.2,1114.4 571.6,1113.1 572.0,1111.7 572.4,1110.3 572.7,1109.3 573.0,1108.2 573.4,1106.6 573.7,1105.5 574.0,1104.0 574.3,1102.7 574.6,1101.2 574.9,1100.1 575.2,1098.6 575.6,1097.2 575.9,1095.8 576.2,1094.4 576.5,1093.4 576.9,1091.9 577.2,1090.4 577.5,1089.7 577.9,1088.6 578.3,1086.7 578.8,1085.6 579.2,1083.9 579.6,1082.7 580.1,1081.4 580.5,1079.7 581.0,1078.4 581.5,1077.2 581.9,1076.1 582.4,1075.0 582.9,1073.6 583.4,1072.6 584.0,1072.0 584.5,1070.6 585.4,1068.9 586.4,1068.1 587.4,1066.7 588.4,1065.9 589.5,1065.1 590.5,1064.6 591.5,1064.0 592.5,1063.0 593.4,1062.0 594.4,1060.6 595.3,1060.0 596.1,1059.0 597.0,1057.5 597.8,1057.0 598.6,1055.6 599.3,1054.3 600.0,1053.2 600.5,1052.3 601.0,1050.7 601.5,1049.7 601.9,1048.5 602.3,1046.9 602.7,1045.8 603.1,1044.2 603.6,1042.6 604.0,1041.3 604.4,1039.8 604.7,1038.7 605.1,1037.5 605.4,1036.0 605.7,1034.5 606.0,1033.1 606.3,1031.6 606.6,1029.8 606.9,1028.8 607.3,1027.7 607.6,1025.8 608.0,1024.7 608.4,1023.3 608.8,1022.1 609.3,1020.4 609.9,1018.9 610.6,1017.7 611.2,1016.3 611.9,1014.7 612.6,1013.7 613.2,1012.2 613.9,1011.2 614.6,1010.1 615.2,1009.6 615.8,1008.9 617.0,1008.2 618.2,1008.0 619.3,1009.4 620.4,1010.4 621.5,1012.4 621.9,1012.7 622.3,1013.9 622.7,1015.1 623.1,1016.3 623.5,1017.8 623.9,1019.3 624.3,1021.0 624.7,1022.4 625.1,1023.5 625.5,1025.3 625.8,1026.4 626.2,1027.9 626.5,1028.9 627.0,1030.4 627.5,1031.2 627.9,1032.2 628.3,1033.3 628.7,1034.1 629.3,1035.7 629.9,1037.2 630.2,1038.2 630.5,1039.4 630.8,1040.4 631.1,1041.4 631.4,1042.9 631.7,1043.9 632.1,1045.3 632.5,1046.5 632.8,1048.1 633.2,1048.9 633.6,1050.2 633.9,1052.1 634.3,1053.7 634.7,1054.9 635.1,1056.4 635.4,1057.6 635.8,1059.3 636.1,1060.5 636.5,1061.7 636.8,1063.4 637.1,1064.2 637.4,1065.2 637.8,1067.0 638.1,1068.1 638.4,1069.4 638.7,1070.4 639.0,1072.1 639.3,1073.3 639.6,1074.6 640.0,1076.3 640.3,1077.3 640.6,1078.8 640.9,1079.8 641.2,1081.2 641.5,1082.3 641.8,1083.8 642.2,1085.0 642.5,1086.1 642.8,1087.2 643.1,1088.0 643.5,1089.7 643.9,1091.5 644.3,1092.6 644.7,1094.0 645.1,1095.5 645.5,1096.4 645.9,1097.7 646.3,1099.0 646.7,1100.4 647.1,1101.7 647.5,1102.6 647.9,1103.6 648.3,1104.9 648.8,1106.0 649.2,1107.4 649.7,1108.0 650.3,1109.7 650.9,1110.9 651.6,1112.3 652.2,1113.5 652.9,1115.0 653.5,1116.0 654.2,1117.2 654.9,1118.9 655.6,1119.3 656.4,1121.0 657.1,1121.7 657.8,1122.6 658.6,1123.8 659.6,1124.7 660.7,1125.9 661.7,1126.8 662.8,1128.1 664.0,1128.6 665.1,1129.7 666.2,1130.4 667.4,1131.4 668.5,1132.1 669.6,1132.7 671.0,1133.0 672.3,1133.6 673.7,1133.9 675.1,1134.5 676.5,1134.5 677.8,1134.8 679.2,1134.5 680.6,1134.7 681.8,1134.9 683.1,1134.2 684.3,1133.8 685.5,1133.1 686.8,1132.6 688.0,1132.2 689.2,1131.3 690.5,1130.7 691.7,1130.3 692.8,1129.1 694.0,1128.8 695.1,1127.6 696.3,1126.9 697.5,1126.1 698.6,1125.0 699.7,1124.6 700.8,1123.4 701.8,1123.0 702.7,1123.1 704.3,1121.9 705.7,1121.3 706.9,1121.4 708.0,1121.6 709.3,1121.7 710.4,1122.5 711.5,1123.2 712.7,1124.2 713.8,1125.3 714.9,1126.3 716.0,1128.0 716.7,1129.0 717.4,1130.4 718.1,1131.2 718.8,1132.3 719.5,1133.9 720.2,1135.3 721.0,1136.7 721.8,1137.4 722.6,1139.5 723.2,1140.1 723.9,1141.0 724.6,1142.6 725.3,1143.6 726.0,1144.5 726.7,1145.9 727.5,1146.9 728.2,1148.1 729.0,1148.9 729.8,1150.3 730.6,1151.5 731.4,1152.3 732.4,1153.3 733.4,1154.3 734.5,1155.8 735.6,1156.3 736.7,1157.0 737.8,1157.9 738.9,1159.0 740.1,1159.7 741.3,1160.2 742.5,1161.0 743.7,1161.6 744.9,1162.4 746.1,1162.8 747.3,1163.1 748.5,1163.2 749.8,1164.2 751.2,1164.5 752.6,1164.6 754.1,1165.2 755.7,1165.4 756.8,1165.9 758.0,1166.1 759.2,1166.5 760.5,1166.2 761.8,1166.2 763.1,1167.0 764.4,1166.7 765.8,1166.6 767.2,1166.3 768.6,1167.3 770.0,1168.0 771.4,1167.7 772.8,1168.1 774.2,1168.4 775.6,1168.9 776.9,1168.2 778.1,1168.7 779.3,1168.5 780.5,1168.6 781.6,1168.6 782.8,1169.0 783.9,1168.7 785.2,1169.1 786.4,1168.9 787.7,1168.7 789.1,1169.0 790.6,1168.9 792.1,1169.3 793.8,1169.0 795.6,1169.3 797.6,1169.0 798.6,1168.8 799.6,1169.6 800.7,1169.8 801.8,1169.7 802.9,1169.0 804.0,1169.0 805.1,1169.3 806.3,1168.8 807.5,1170.1 808.7,1169.6 810.0,1169.6 811.2,1169.3 812.5,1169.7 813.8,1169.9 815.1,1169.0 816.4,1169.0 817.8,1169.6 819.1,1169.8 820.5,1169.0 821.9,1169.8 823.3,1169.8 824.7,1169.1 826.1,1170.4 827.5,1169.3 828.9,1169.4 830.4,1169.8 831.8,1169.5 833.3,1169.5 834.7,1169.2 836.2,1169.2 837.7,1169.4 839.1,1168.6 840.6,1170.0 841.8,1169.2 843.1,1169.5 844.3,1169.0 845.7,1169.6 847.0,1169.3 848.4,1170.2 849.8,1168.8 851.3,1169.4 852.7,1168.5 854.2,1169.6 855.7,1170.1 857.2,1169.4 858.8,1169.7 860.3,1170.1 861.8,1169.8 863.4,1169.4 864.9,1168.9 866.5,1169.6 868.0,1169.5 869.5,1169.7 871.0,1168.8 872.5,1169.2 874.0,1170.4 875.5,1169.3 876.9,1169.4 878.3,1169.8 879.7,1169.4 881.1,1168.5 882.4,1169.7 883.7,1169.8 884.9,1169.3 886.1,1169.7 887.3,1169.2 888.4,1169.6 889.5,1169.5 890.5,1169.8 891.4,1170.0 892.3,1169.4 893.1,1170.4 893.9,1169.4 894.6,1169.6" fill="none" stroke="#000" stroke-width="5.7" stroke-linejoin="round" stroke-linecap="round"/>
<line x1="709.5" y1="969.1" x2="748.5" y2="969.1" stroke="#000" stroke-width="4.6" stroke-linecap="round"/>
<text transform="translate(36.28,0) scale(0.9520,1)" x="755.8" y="975.6" font-size="25"><tspan>Exp.&#160;data</tspan></text>
<line x1="709.5" y1="1001.3000000000001" x2="748.5" y2="1001.3000000000001" stroke="#008200" stroke-width="4.6" stroke-linecap="round"/>
<text transform="translate(-12.85,0) scale(1.0170,1)" x="755.8" y="1007.8000000000001" font-size="25"><tspan>Fit-model</tspan></text>
<line x1="709.5" y1="1042.0" x2="748.5" y2="1042.0" stroke="#ee0a0a" stroke-width="4.6" stroke-linecap="round"/>
<text transform="translate(18.90,0) scale(0.9750,1)" x="755.8" y="1048.3" font-size="25"><tspan>Ce</tspan><tspan font-size="24.5" dy="-10">3+</tspan><tspan dy="10">-&#160;comp.</tspan></text>
<line x1="709.5" y1="1082.6" x2="748.5" y2="1082.6" stroke="#0000f0" stroke-width="4.6" stroke-linecap="round"/>
<text transform="translate(18.90,0) scale(0.9750,1)" x="755.8" y="1088.8999999999999" font-size="25"><tspan>Ce</tspan><tspan font-size="24.5" dy="-10">4+</tspan><tspan dy="10">-&#160;comp.</tspan></text>
<path d="M100.0,1711.0 C104.2,1710.9 106.7,1710.9 125.0,1710.6 C143.3,1710.3 190.8,1709.7 210.0,1709.3 C229.2,1708.9 227.6,1709.6 240.0,1708.3 C252.4,1707.0 269.5,1703.5 284.2,1701.7 C298.9,1699.9 313.6,1698.4 328.3,1697.3 C343.0,1696.2 357.8,1695.6 372.5,1695.1 C387.2,1694.5 403.7,1694.3 416.6,1694.0 C429.5,1693.7 436.1,1693.4 450.0,1693.0 C463.9,1692.6 486.9,1692.2 500.0,1691.6 C513.1,1691.0 520.4,1690.0 528.7,1689.4 C537.0,1688.8 545.2,1688.5 550.0,1687.9 C554.8,1687.3 552.4,1687.1 557.4,1685.9 C562.4,1684.7 571.0,1683.1 579.8,1680.9 C588.6,1678.8 599.4,1675.9 610.0,1673.0 C620.6,1670.1 633.1,1665.8 643.5,1663.5 C653.9,1661.2 662.6,1660.8 672.2,1659.5 C681.8,1658.2 691.3,1656.9 700.9,1655.8 C710.5,1654.7 719.8,1653.5 729.6,1652.9 C739.5,1652.3 748.3,1652.2 760.0,1652.0 C771.7,1651.8 793.3,1652.0 800.0,1652.0" fill="none" stroke="#000" stroke-width="1.7" stroke-linejoin="round" stroke-linecap="round"/>
<path d="M100.0,1711.0 C106.2,1710.4 126.9,1708.6 137.1,1707.5 C147.3,1706.4 153.3,1705.9 161.4,1704.5 C169.5,1703.1 177.6,1701.0 185.7,1699.0 C193.8,1697.0 202.7,1695.4 210.0,1692.3 C217.3,1689.2 224.6,1683.6 229.4,1680.2 C234.2,1676.8 236.5,1676.0 239.1,1671.7 C241.7,1667.5 243.2,1661.2 245.2,1654.7 C247.2,1648.2 249.7,1639.0 251.3,1632.9 C252.9,1626.8 253.8,1621.6 255.0,1618.0 C256.2,1614.4 257.4,1612.7 258.8,1611.2 C260.2,1609.7 261.6,1608.5 263.2,1609.0 C264.8,1609.5 266.9,1614.3 268.7,1614.5 C270.5,1614.7 272.5,1612.7 274.2,1610.1 C275.9,1607.5 277.4,1602.0 278.6,1599.1 C279.8,1596.2 280.4,1592.1 281.5,1592.5 C282.6,1592.9 283.9,1596.9 285.3,1601.3 C286.7,1605.7 287.9,1614.5 289.7,1618.9 C291.5,1623.3 293.9,1626.0 296.3,1627.8 C298.7,1629.6 301.6,1628.2 304.0,1630.0 C306.4,1631.8 308.0,1635.1 310.6,1638.8 C313.2,1642.5 316.2,1648.0 319.5,1652.1 C322.8,1656.1 326.4,1659.8 330.5,1663.1 C334.6,1666.4 339.4,1669.5 343.8,1671.9 C348.2,1674.3 352.2,1675.7 357.0,1677.4 C361.8,1679.1 367.0,1680.8 372.5,1681.9 C378.0,1683.0 385.0,1683.0 390.1,1684.1 C395.2,1685.2 399.0,1687.0 403.4,1688.5 C407.8,1690.0 410.5,1692.0 416.6,1692.9 C422.7,1693.8 428.6,1694.3 440.0,1693.8 C451.4,1693.3 474.7,1691.6 485.2,1690.0 C495.7,1688.4 498.0,1686.6 502.8,1684.1 C507.6,1681.6 510.9,1678.7 513.9,1675.2 C516.9,1671.7 518.3,1666.0 520.5,1663.1 C522.7,1660.2 524.9,1657.4 527.1,1657.6 C529.3,1657.8 531.6,1662.5 533.8,1664.2 C536.0,1665.9 538.2,1668.4 540.4,1667.5 C542.6,1666.6 545.4,1660.9 547.0,1658.7 C548.6,1656.5 548.8,1657.0 550.0,1654.4 C551.2,1651.8 552.9,1646.2 554.0,1643.2 C555.1,1640.2 555.1,1637.5 556.6,1636.6 C558.1,1635.7 561.2,1637.7 563.2,1637.9 C565.2,1638.1 567.0,1639.0 568.5,1637.9 C570.0,1636.8 570.6,1633.6 571.9,1631.3 C573.2,1629.0 574.8,1626.3 576.5,1624.0 C578.2,1621.7 580.5,1618.0 582.3,1617.5 C584.1,1617.0 585.6,1619.4 587.1,1620.7 C588.6,1622.0 589.6,1623.5 591.1,1625.3 C592.6,1627.1 594.9,1629.4 596.4,1631.3 C597.9,1633.2 598.6,1635.2 600.3,1636.6 C601.9,1637.9 604.1,1640.0 606.3,1639.4 C608.4,1638.9 610.8,1634.5 613.2,1633.3 C615.7,1632.1 617.9,1631.6 621.0,1632.5 C624.1,1633.4 627.7,1636.6 632.1,1638.8 C636.5,1641.0 642.0,1643.8 647.5,1645.4 C653.0,1647.1 658.6,1648.0 665.2,1648.7 C671.8,1649.4 679.9,1649.7 687.3,1649.8 C694.6,1649.9 701.9,1649.0 709.3,1649.4 C716.6,1649.8 724.0,1651.3 731.4,1652.1 C738.8,1652.9 747.9,1653.9 753.5,1654.3 C759.1,1654.7 763.1,1654.5 765.0,1654.5" fill="none" stroke="#ee0a0a" stroke-width="5.3" stroke-linejoin="round" stroke-linecap="round"/>
<path d="M100.0,1711.0 C110.2,1710.8 145.1,1710.3 161.4,1709.8 C177.7,1709.3 186.5,1708.8 197.8,1708.1 C209.1,1707.4 222.1,1706.5 229.4,1705.7 C236.7,1704.9 238.0,1704.7 241.6,1703.3 C245.2,1701.9 247.6,1699.2 251.0,1697.3 C254.4,1695.4 258.4,1694.2 262.1,1691.8 C265.8,1689.4 269.4,1686.1 273.1,1683.0 C276.8,1679.9 280.5,1675.4 284.2,1673.0 C287.9,1670.6 292.3,1668.8 295.2,1668.6 C298.1,1668.4 299.2,1670.1 301.8,1671.9 C304.4,1673.7 307.3,1677.6 310.6,1679.6 C313.9,1681.6 318.0,1683.0 321.7,1684.1 C325.4,1685.2 327.9,1685.6 332.7,1686.3 C337.5,1687.0 344.5,1688.2 350.4,1688.5 C356.3,1688.8 362.5,1688.3 368.0,1687.8 C373.5,1687.3 379.1,1685.7 383.5,1685.6 C387.9,1685.5 390.8,1686.4 394.5,1687.4 C398.2,1688.4 401.9,1690.7 405.6,1691.8 C409.3,1692.9 410.9,1693.6 416.6,1694.0 C422.3,1694.4 428.6,1694.8 440.0,1694.4 C451.4,1694.0 474.0,1692.6 485.2,1691.8 C496.4,1691.0 500.0,1690.3 507.3,1689.6 C514.6,1688.9 523.8,1688.3 529.3,1687.4 C534.8,1686.5 536.9,1685.5 540.4,1684.1 C543.9,1682.7 546.8,1680.8 550.0,1679.0 C553.2,1677.2 557.1,1675.0 559.9,1673.0 C562.7,1671.0 564.7,1669.0 566.6,1667.0 C568.5,1665.0 569.6,1663.3 571.2,1661.0 C572.9,1658.7 574.7,1655.7 576.5,1653.1 C578.3,1650.5 580.0,1647.8 581.8,1645.2 C583.6,1642.6 585.3,1639.8 587.1,1637.2 C588.9,1634.7 590.6,1632.6 592.4,1629.9 C594.2,1627.2 595.7,1625.5 597.7,1621.3 C599.7,1617.1 602.2,1609.1 604.4,1605.0 C606.6,1600.9 609.0,1598.3 611.0,1596.5 C613.0,1594.7 614.1,1592.8 616.5,1594.0 C618.9,1595.2 622.2,1599.3 625.5,1603.5 C628.8,1607.7 632.8,1614.5 636.5,1618.9 C640.2,1623.3 643.5,1627.0 647.5,1630.0 C651.5,1633.0 656.0,1635.3 660.8,1636.6 C665.6,1637.9 671.1,1638.2 676.2,1637.7 C681.4,1637.2 686.9,1634.8 691.7,1633.3 C696.5,1631.8 700.9,1628.7 704.9,1628.9 C708.9,1629.1 712.3,1631.7 716.0,1634.4 C719.7,1637.2 723.3,1642.5 727.0,1645.4 C730.7,1648.4 733.6,1650.7 738.0,1652.1 C742.4,1653.5 748.2,1653.7 753.5,1654.0 C758.8,1654.3 767.2,1654.0 770.0,1654.0" fill="none" stroke="#0000f0" stroke-width="5.3" stroke-linejoin="round" stroke-linecap="round"/>
<polyline points="43.6,1716.1 44.3,1717.1 45.2,1715.8 46.1,1716.7 47.2,1715.3 48.4,1716.6 49.7,1715.8 51.0,1716.7 52.4,1716.1 53.9,1715.4 55.4,1715.0 56.9,1715.4 58.4,1714.8 59.9,1714.1 61.4,1714.9 62.9,1712.7 64.3,1714.2 65.6,1715.5 66.8,1714.3 68.1,1712.8 69.5,1714.4 70.8,1713.7 72.1,1713.0 73.5,1712.9 74.9,1713.2 76.2,1713.6 77.6,1712.8 79.0,1714.0 80.4,1712.2 81.7,1713.1 83.1,1711.3 84.5,1710.9 85.9,1712.0 87.2,1712.1 88.6,1713.1 90.0,1711.4 91.3,1711.7 92.7,1710.6 94.0,1711.3 95.4,1711.5 96.7,1710.7 98.1,1711.6 99.4,1711.7 100.8,1711.0 102.1,1710.4 103.5,1710.2 104.8,1710.6 106.2,1709.3 107.5,1710.5 108.9,1709.3 110.2,1709.8 111.6,1708.7 112.9,1708.7 114.2,1708.6 115.6,1709.4 116.9,1709.0 118.3,1708.9 119.6,1709.4 121.0,1707.9 122.3,1709.0 123.7,1707.9 125.0,1707.5 126.3,1707.7 127.7,1708.6 129.0,1708.9 130.4,1707.3 131.7,1706.8 133.1,1706.3 134.4,1707.2 135.8,1707.4 137.1,1707.2 138.4,1706.9 139.8,1707.6 141.1,1706.5 142.5,1706.6 143.8,1706.0 145.2,1705.4 146.5,1704.3 147.9,1705.7 149.2,1705.1 150.6,1705.0 151.9,1704.8 153.3,1705.1 154.6,1704.9 156.0,1703.1 157.3,1704.2 158.7,1704.6 160.0,1704.3 161.4,1703.7 162.7,1703.7 164.0,1702.2 165.2,1703.3 166.5,1702.7 167.8,1702.6 169.1,1702.8 170.4,1702.1 171.6,1701.0 172.9,1700.1 174.2,1700.9 175.5,1700.9 176.7,1700.8 178.0,1701.0 179.3,1700.3 180.6,1699.9 181.9,1698.2 183.1,1699.6 184.4,1698.8 185.7,1699.8 187.0,1698.6 188.3,1697.2 189.6,1697.4 190.9,1697.5 192.3,1696.0 193.6,1695.2 195.0,1696.3 196.3,1695.2 197.6,1695.1 199.0,1694.9 200.3,1694.2 201.6,1694.6 202.9,1693.8 204.1,1693.4 205.4,1693.4 206.6,1692.4 207.7,1691.1 208.9,1691.5 210.0,1690.2 211.4,1690.7 212.7,1689.1 214.0,1689.3 215.2,1689.6 216.5,1688.5 217.7,1686.8 218.8,1685.8 220.0,1685.8 221.1,1686.1 222.1,1685.1 223.2,1683.0 224.2,1684.0 225.2,1682.9 226.1,1682.6 227.0,1682.4 228.3,1679.9 229.5,1679.9 230.6,1678.8 231.6,1678.5 232.6,1676.7 233.5,1675.0 234.4,1675.1 235.2,1674.6 236.0,1672.7 236.7,1671.5 237.3,1670.7 237.9,1669.3 238.4,1667.9 238.8,1666.6 239.2,1666.6 239.6,1664.0 240.0,1662.9 240.4,1661.8 240.8,1660.3 241.2,1658.2 241.6,1656.9 242.0,1655.6 242.3,1654.7 242.7,1653.0 243.0,1652.0 243.4,1651.1 243.7,1649.9 244.1,1648.3 244.4,1647.3 244.8,1646.3 245.1,1644.3 245.5,1643.5 245.9,1641.8 246.2,1639.8 246.6,1638.8 246.9,1637.7 247.2,1636.8 247.4,1635.0 247.7,1634.3 248.0,1632.5 248.3,1631.3 248.6,1629.8 248.9,1628.6 249.2,1627.3 249.5,1625.6 249.8,1624.1 250.0,1623.1 250.3,1621.5 250.6,1620.3 250.9,1619.2 251.2,1617.8 251.5,1616.7 251.8,1615.6 252.1,1614.5 252.6,1613.1 253.1,1611.6 253.7,1610.0 254.2,1608.2 254.7,1607.0 255.2,1606.4 255.7,1605.5 256.3,1604.4 256.8,1603.0 257.2,1602.3 257.7,1601.2 258.6,1599.6 259.4,1597.9 260.2,1596.4 261.1,1595.9 262.1,1595.1 263.3,1595.6 264.7,1595.8 266.1,1595.8 267.5,1597.0 268.7,1596.7 270.0,1596.6 271.0,1596.4 272.1,1595.2 273.1,1594.4 273.4,1593.0 273.8,1591.5 274.1,1590.8 274.4,1588.7 274.8,1588.2 275.1,1586.5 275.4,1585.0 275.8,1583.7 276.1,1582.1 276.4,1580.8 276.8,1579.1 277.1,1578.2 277.5,1576.9 278.1,1575.5 278.7,1573.6 279.4,1572.0 280.0,1570.3 280.7,1568.8 281.3,1567.9 282.0,1567.6 282.6,1567.1 283.2,1567.4 283.8,1568.0 284.4,1569.5 285.0,1570.4 285.6,1571.5 286.2,1573.7 286.9,1575.3 287.5,1577.3 288.0,1577.9 288.4,1579.1 288.9,1580.6 289.4,1581.9 289.8,1582.9 290.3,1584.6 290.8,1585.5 291.3,1586.9 291.9,1587.8 292.4,1588.6 293.0,1590.0 293.8,1591.2 294.6,1592.2 295.4,1593.9 296.3,1593.8 297.2,1595.2 298.1,1596.4 298.9,1597.1 299.8,1598.1 300.7,1599.0 301.4,1600.0 302.1,1601.5 302.8,1602.6 303.4,1603.2 304.1,1604.6 304.8,1605.6 305.5,1607.0 306.2,1607.9 306.9,1609.7 307.7,1610.8 308.4,1612.4 308.9,1613.2 309.4,1614.8 310.0,1615.6 310.5,1617.0 311.0,1618.1 311.6,1619.6 312.1,1620.8 312.6,1622.6 313.2,1623.1 313.8,1624.8 314.3,1625.8 314.9,1627.3 315.5,1628.1 316.1,1630.1 316.7,1630.4 317.3,1632.4 318.0,1633.1 318.6,1634.6 319.3,1636.1 320.0,1637.0 320.7,1638.5 321.4,1639.6 322.2,1640.7 322.9,1642.1 323.6,1643.6 324.4,1644.4 325.2,1645.5 325.9,1646.6 326.7,1647.7 327.5,1649.1 328.3,1650.0 329.2,1650.9 330.1,1652.1 331.0,1652.8 331.9,1654.1 332.8,1655.2 333.8,1656.1 334.8,1657.1 335.7,1658.3 336.7,1659.1 337.7,1660.0 338.6,1660.1 339.6,1661.6 340.5,1662.2 341.5,1663.0 342.7,1664.1 343.9,1665.1 345.1,1665.3 346.3,1666.9 347.5,1667.4 348.8,1667.9 350.0,1668.3 351.2,1668.8 352.4,1670.1 353.6,1670.1 354.8,1670.7 356.1,1671.2 357.4,1671.7 358.8,1672.8 360.1,1673.0 361.4,1672.6 362.7,1672.9 364.0,1673.8 365.4,1673.7 366.7,1673.6 368.0,1674.0 369.3,1674.5 370.7,1674.4 372.1,1674.5 373.5,1675.5 374.9,1674.8 376.3,1674.5 377.6,1674.9 378.9,1674.6 380.2,1674.8 381.3,1675.1 382.8,1675.3 384.1,1676.0 385.4,1676.4 386.6,1676.9 387.7,1677.6 388.9,1678.2 390.1,1678.5 391.3,1679.4 392.5,1680.0 393.8,1680.2 395.0,1681.2 396.2,1681.3 397.5,1682.0 398.9,1683.0 400.0,1683.8 401.2,1684.8 402.4,1684.9 403.6,1685.8 404.8,1685.8 406.1,1686.9 407.3,1687.7 408.7,1687.8 410.0,1688.6 411.2,1689.0 412.4,1689.8 413.6,1689.4 414.8,1689.8 416.0,1690.6 417.3,1690.9 418.7,1691.1 420.1,1691.2 421.6,1691.6 423.2,1692.4 424.3,1691.9 425.4,1692.4 426.6,1692.7 427.8,1692.3 429.0,1692.6 430.2,1693.1 431.4,1693.0 432.7,1693.2 434.1,1693.2 435.5,1693.4 436.9,1693.5 438.4,1694.0 439.9,1693.7 441.5,1693.7 443.2,1693.9 444.3,1693.7 445.5,1693.5 446.8,1693.6 448.1,1693.0 449.5,1693.2 450.8,1693.2 452.3,1693.0 453.7,1692.9 455.2,1692.8 456.6,1692.4 458.1,1692.8 459.6,1692.2 461.1,1692.4 462.5,1691.8 464.0,1692.5 465.4,1691.9 466.8,1691.0 468.1,1691.0 469.5,1690.9 470.7,1691.0 472.0,1690.9 473.1,1691.2 474.2,1691.2 476.0,1690.1 477.7,1690.2 479.3,1689.7 480.8,1689.9 482.2,1690.0 483.6,1690.0 484.9,1689.8 486.1,1690.0 487.3,1689.1 488.5,1689.0 489.6,1689.1 490.7,1689.0 491.8,1688.5 493.3,1688.2 494.7,1688.0 496.0,1686.9 497.3,1686.5 498.4,1685.6 499.5,1685.4 500.6,1684.1 501.7,1683.8 502.8,1683.6 503.9,1682.2 505.0,1681.2 506.0,1680.4 507.0,1679.5 508.0,1678.3 509.0,1677.2 509.9,1676.3 510.8,1675.3 511.7,1673.9 512.5,1673.0 513.3,1671.6 514.0,1670.4 514.7,1669.1 515.3,1667.6 516.0,1666.2 516.7,1665.8 517.5,1664.0 518.3,1662.9 519.2,1662.0 520.1,1661.0 521.1,1659.5 522.2,1658.1 523.2,1657.4 524.2,1656.3 525.2,1655.2 526.2,1654.7 527.1,1654.3 528.3,1654.8 529.5,1654.9 530.6,1655.4 531.7,1656.8 532.7,1657.5 533.8,1658.8 534.9,1659.9 536.0,1661.0 537.1,1661.9 538.2,1662.5 539.3,1663.1 540.4,1662.9 541.2,1662.7 542.0,1661.7 542.9,1660.7 543.7,1660.4 544.5,1659.1 545.3,1657.5 546.2,1655.9 547.0,1654.5 547.4,1653.2 547.8,1652.4 548.2,1651.1 548.6,1649.5 549.0,1648.7 549.4,1647.2 549.8,1645.2 550.2,1644.0 550.6,1642.2 551.0,1640.9 551.4,1639.7 551.8,1638.0 552.2,1636.5 552.6,1635.5 552.9,1634.0 553.3,1633.2 553.6,1632.5 554.4,1630.2 555.1,1628.2 555.8,1627.1 556.4,1626.5 557.2,1625.8 558.0,1624.4 559.2,1623.7 560.5,1623.3 561.9,1623.0 563.3,1622.4 564.7,1621.0 565.2,1620.6 565.6,1619.6 566.1,1618.7 566.6,1616.9 567.1,1615.6 567.5,1614.7 568.0,1612.8 568.5,1611.6 568.9,1610.7 569.4,1609.2 569.9,1607.8 570.4,1605.9 570.8,1605.0 571.3,1603.6 571.8,1602.0 572.2,1601.1 572.7,1600.0 573.2,1598.1 573.7,1597.3 574.1,1595.6 574.6,1594.0 575.1,1592.2 575.5,1591.2 576.0,1590.0 576.5,1588.7 577.0,1588.0 577.4,1587.0 577.9,1585.8 578.7,1584.2 579.5,1582.7 580.3,1581.2 581.1,1580.1 581.9,1579.6 582.7,1578.1 583.6,1577.8 584.5,1577.2 585.9,1576.7 587.3,1577.1 588.8,1577.3 590.4,1577.8 591.9,1578.1 593.4,1578.4 594.7,1577.7 596.0,1576.5 597.3,1576.5 598.6,1575.6 599.8,1574.8 601.1,1573.7 602.2,1572.6 603.0,1572.1 603.8,1570.5 604.5,1569.2 605.2,1567.3 605.9,1566.2 606.6,1564.8 607.3,1563.5 608.0,1562.4 608.8,1561.2 609.9,1560.1 611.1,1559.2 612.2,1558.5 613.5,1557.5 614.7,1557.1 615.9,1557.0 617.0,1556.3 618.1,1556.7 619.2,1557.4 620.3,1557.6 621.3,1559.0 622.4,1560.0 623.3,1561.8 624.3,1562.5 625.0,1563.7 625.7,1564.9 626.4,1565.6 627.0,1567.0 627.7,1568.9 628.3,1569.8 628.9,1571.7 629.4,1572.5 630.0,1573.7 630.5,1575.1 631.0,1576.8 631.4,1577.7 631.8,1579.6 632.2,1579.7 632.6,1581.3 633.1,1582.9 633.6,1584.3 634.3,1585.7 634.8,1587.0 635.2,1587.7 635.7,1589.3 636.3,1590.2 636.8,1591.3 637.4,1592.6 638.0,1593.8 638.6,1595.2 639.2,1596.0 639.8,1597.6 640.5,1598.7 641.1,1599.9 641.8,1601.6 642.4,1602.5 643.1,1603.4 643.9,1604.6 644.7,1606.3 645.5,1607.0 646.3,1607.9 647.1,1609.1 647.9,1610.2 648.8,1611.0 649.7,1612.6 650.6,1613.0 651.4,1614.0 652.4,1615.0 653.3,1615.9 654.2,1616.6 655.2,1617.7 656.3,1618.8 657.4,1619.6 658.4,1620.3 659.6,1621.1 660.7,1622.3 661.8,1622.7 662.9,1623.3 664.1,1623.9 665.2,1625.0 666.3,1625.0 667.4,1626.1 668.7,1626.1 670.0,1626.7 671.4,1626.9 672.7,1627.5 674.0,1627.7 675.3,1627.5 676.6,1627.6 678.0,1627.4 679.3,1627.6 680.6,1627.9 681.9,1627.8 683.3,1627.5 684.6,1627.2 686.0,1626.8 687.3,1626.7 688.7,1626.1 690.0,1625.6 691.3,1625.6 692.6,1624.9 693.9,1624.5 695.3,1624.0 696.7,1623.4 698.1,1622.9 699.5,1622.6 700.8,1621.6 702.2,1621.4 703.5,1621.0 704.8,1620.4 706.0,1621.3 707.2,1621.0 708.4,1621.8 709.5,1622.4 710.7,1622.9 711.8,1623.7 712.8,1625.5 713.9,1625.8 715.0,1626.7 716.0,1627.6 716.9,1628.7 717.8,1629.6 718.7,1630.5 719.5,1632.1 720.3,1632.8 721.2,1634.5 722.0,1635.7 722.9,1636.8 723.8,1637.9 724.8,1638.6 725.7,1639.9 726.6,1640.7 727.5,1641.9 728.4,1642.7 729.4,1644.0 730.4,1644.8 731.4,1645.8 732.4,1647.0 733.5,1647.1 734.6,1648.0 735.8,1648.4 736.9,1649.0 738.0,1649.7 739.2,1650.5 740.3,1650.6 741.5,1651.6 742.7,1651.7 744.0,1652.0 745.3,1652.7 746.7,1652.6 748.2,1652.6 749.7,1653.0 751.3,1653.7 752.4,1653.6 753.6,1653.3 754.7,1653.8 755.9,1653.8 757.2,1653.9 758.4,1653.7 759.7,1653.5 761.0,1653.4 762.4,1653.7 763.7,1653.9 765.1,1653.8 766.6,1653.8 768.0,1654.0 769.5,1653.8 771.0,1654.0 772.5,1653.7 774.0,1654.1 775.6,1654.5 776.7,1654.1 777.9,1654.0 779.0,1653.7 780.2,1654.5 781.4,1654.3 782.5,1654.3 783.7,1653.9 784.9,1654.3 786.1,1654.0 787.3,1654.1 788.6,1653.5 789.8,1654.0 791.1,1654.1 792.4,1654.4 793.7,1654.4 795.0,1654.3 796.4,1654.1 797.8,1654.0 799.2,1653.9 800.6,1654.2 802.1,1653.5 803.6,1653.8 805.1,1652.6 806.7,1653.2 808.3,1654.0 809.4,1654.2 810.6,1652.7 811.7,1653.3 812.9,1652.3 814.1,1654.3 815.4,1653.7 816.7,1655.2 817.9,1652.6 819.3,1653.6 820.6,1655.2 821.9,1653.5 823.3,1654.0 824.6,1652.6 826.0,1653.0 827.4,1654.5 828.8,1652.9 830.2,1653.0 831.6,1654.6 833.0,1654.6 834.4,1654.2 835.8,1652.0 837.2,1652.9 838.6,1653.6 840.0,1652.2 841.3,1652.6 842.7,1653.0 844.1,1653.9 845.4,1652.0 846.8,1651.3 848.1,1652.4 849.4,1652.4 850.6,1653.0 851.9,1653.3 853.1,1653.8 854.4,1652.6 855.5,1652.7 856.7,1652.5 858.2,1653.1 859.8,1652.5 861.3,1651.3 862.8,1652.2 864.4,1652.5 865.9,1652.2 867.5,1653.5 869.0,1650.8 870.5,1652.6 872.0,1651.8 873.5,1652.7 875.0,1651.7 876.5,1651.4 877.9,1651.1 879.3,1651.1 880.6,1651.2 881.9,1652.3 883.2,1651.8 884.4,1650.4 885.6,1650.3 886.8,1650.2 887.8,1650.3 888.9,1649.7 889.8,1651.1 890.7,1650.1 891.6,1650.4 892.3,1650.4 893.0,1649.9" fill="none" stroke="#008200" stroke-width="5.3" stroke-linejoin="round" stroke-linecap="round"/>
<polyline points="43.6,1627.4 44.3,1628.4 45.2,1629.1 46.1,1628.1 47.2,1628.2 48.4,1626.8 49.7,1627.5 51.0,1627.2 52.4,1628.0 53.9,1627.2 55.4,1626.8 56.9,1626.0 58.4,1625.7 59.9,1626.2 61.4,1627.0 62.9,1624.3 64.3,1623.4 65.6,1627.0 66.8,1626.6 68.1,1625.7 69.5,1625.4 70.8,1624.7 72.1,1624.6 73.5,1623.8 74.9,1625.2 76.2,1624.4 77.6,1623.0 79.0,1624.0 80.4,1623.8 81.7,1623.7 83.1,1625.6 84.5,1624.8 85.9,1621.4 87.2,1624.1 88.6,1624.5 90.0,1624.5 91.3,1624.0 92.7,1621.7 94.0,1623.8 95.4,1623.1 96.7,1624.0 98.1,1623.1 99.4,1621.4 100.8,1624.0 102.1,1621.4 103.5,1623.1 104.8,1622.4 106.2,1621.5 107.5,1620.0 108.9,1621.0 110.2,1620.8 111.6,1621.2 112.9,1621.1 114.2,1622.4 115.6,1621.3 116.9,1621.7 118.3,1619.7 119.6,1620.1 121.0,1621.1 122.3,1620.9 123.7,1620.6 125.0,1619.5 126.3,1618.9 127.7,1620.9 129.0,1618.8 130.4,1618.9 131.7,1620.3 133.1,1618.9 134.4,1618.2 135.8,1619.2 137.1,1618.2 138.4,1619.2 139.8,1617.8 141.1,1617.1 142.5,1619.5 143.8,1618.4 145.2,1617.3 146.5,1616.9 147.9,1615.7 149.2,1616.1 150.6,1615.4 151.9,1616.9 153.3,1616.9 154.6,1615.5 156.0,1615.1 157.3,1615.6 158.7,1615.1 160.0,1615.3 161.4,1615.0 162.7,1614.7 164.0,1614.7 165.2,1613.1 166.5,1614.3 167.8,1611.9 169.1,1613.3 170.4,1612.7 171.6,1613.0 172.9,1612.3 174.2,1612.4 175.5,1610.5 176.7,1611.3 178.0,1610.8 179.3,1611.5 180.6,1611.1 181.9,1610.3 183.1,1609.9 184.4,1609.5 185.7,1609.7 187.0,1609.8 188.3,1609.8 189.6,1608.8 190.9,1607.8 192.2,1607.6 193.5,1608.6 194.9,1606.8 196.2,1607.1 197.5,1605.2 198.8,1607.4 200.1,1606.4 201.4,1605.6 202.7,1605.6 204.0,1605.9 205.2,1605.0 206.4,1604.9 207.6,1604.4 208.8,1603.1 210.0,1602.3 211.5,1604.0 212.9,1602.3 214.4,1603.2 215.8,1602.7 217.3,1600.9 218.7,1600.3 220.1,1599.9 221.4,1601.1 222.7,1599.4 224.0,1598.6 225.2,1599.0 226.4,1597.1 227.5,1596.9 228.5,1596.4 229.4,1596.3 231.1,1594.4 232.4,1593.9 233.5,1593.6 234.4,1591.7 235.1,1590.7 235.9,1590.7 236.7,1588.3 237.3,1587.9 237.9,1587.5 238.4,1585.7 238.9,1585.7 239.4,1582.9 239.9,1580.4 240.4,1580.6 240.8,1579.3 241.2,1578.6 241.6,1575.8 242.3,1575.5 242.7,1575.8 243.2,1574.4 243.7,1573.8 244.4,1569.8 244.6,1569.9 244.8,1568.5 245.1,1568.7 245.3,1565.6 245.6,1566.1 245.8,1564.1 246.1,1562.6 246.4,1560.7 246.7,1559.0 247.0,1557.2 247.3,1557.1 247.6,1554.7 247.9,1554.8 248.2,1552.8 248.5,1551.3 248.8,1550.4 249.0,1548.0 249.3,1547.3 249.6,1543.9 249.9,1543.5 250.2,1543.3 250.5,1541.1 250.7,1541.0 251.0,1538.4 251.3,1536.3 251.6,1536.6 251.9,1534.2 252.2,1532.5 252.5,1531.2 252.8,1529.2 253.1,1528.1 253.3,1527.7 253.6,1525.1 253.9,1524.2 254.2,1522.5 254.5,1521.9 254.7,1521.1 255.0,1519.9 255.2,1518.2 255.5,1516.8 256.0,1515.7 256.5,1514.5 256.9,1512.7 257.3,1512.9 257.8,1509.6 258.2,1507.9 258.6,1507.0 259.0,1506.9 259.5,1504.4 259.9,1504.1 260.7,1501.3 261.6,1501.0 262.4,1500.7 263.3,1500.1 264.3,1499.1 265.5,1499.0 266.9,1497.7 268.3,1499.5 269.7,1499.5 270.9,1496.2 271.6,1495.8 272.3,1496.2 272.9,1495.1 273.5,1494.2 274.0,1491.9 274.6,1489.5 275.3,1488.1 275.8,1488.7 276.2,1486.3 276.7,1483.5 277.3,1483.2 277.8,1482.3 278.3,1480.3 278.8,1479.4 279.3,1478.0 279.8,1476.6 280.3,1475.1 280.8,1475.5 281.5,1476.1 282.2,1475.8 282.8,1478.2 283.4,1480.4 284.1,1481.3 284.7,1482.8 285.3,1484.4 285.7,1484.7 286.1,1487.7 286.4,1487.5 286.8,1488.6 287.2,1491.9 287.6,1492.7 287.9,1492.8 288.3,1494.9 288.7,1496.3 289.0,1498.0 289.4,1497.1 289.7,1499.0 290.1,1500.3 290.5,1503.1 290.9,1504.0 291.2,1506.4 291.6,1508.9 292.0,1509.1 292.4,1509.1 293.0,1510.8 294.1,1512.2 295.4,1511.2 296.8,1513.9 298.2,1513.6 299.6,1514.7 300.7,1515.8 301.9,1515.9 303.0,1517.7 304.2,1518.0 305.2,1517.8 306.2,1519.6 307.0,1520.5 307.8,1522.0 308.5,1523.7 309.1,1522.2 309.8,1524.6 310.6,1525.7 311.0,1527.4 311.5,1529.0 311.9,1530.8 312.4,1529.5 312.9,1532.3 313.4,1534.6 313.9,1534.4 314.4,1536.9 314.9,1538.2 315.3,1540.3 315.8,1540.8 316.2,1540.0 316.7,1542.3 317.1,1544.6 317.5,1545.7 317.9,1547.0 318.3,1549.6 318.7,1549.1 319.1,1551.4 319.5,1553.3 320.0,1552.3 320.6,1555.0 321.3,1556.0 322.0,1556.9 322.8,1560.3 323.6,1559.3 324.5,1561.5 325.4,1561.3 326.3,1562.3 327.3,1564.1 328.3,1565.8 329.4,1565.6 330.5,1566.9 331.7,1566.9 333.0,1568.4 334.2,1568.3 335.5,1568.8 336.8,1569.7 338.1,1570.1 339.3,1570.5 340.5,1570.8 341.8,1572.0 343.0,1572.3 344.2,1574.4 345.5,1574.1 346.7,1575.6 347.9,1575.2 349.2,1576.8 350.4,1575.8 351.6,1577.1 352.8,1579.1 354.1,1578.9 355.3,1577.6 356.5,1579.4 357.7,1580.0 359.0,1580.0 360.2,1579.8 361.4,1580.3 362.8,1583.0 364.2,1581.9 365.6,1583.2 367.0,1583.5 368.3,1582.7 369.7,1583.7 371.1,1583.7 372.5,1582.7 373.7,1583.5 375.0,1583.1 376.2,1582.8 377.4,1581.8 378.6,1581.2 379.8,1580.9 381.1,1579.6 382.3,1580.5 383.5,1579.4 384.7,1578.5 386.0,1577.6 387.2,1577.3 388.5,1576.2 389.8,1575.0 391.0,1575.2 392.2,1575.5 393.4,1575.3 394.5,1574.2 395.7,1573.5 396.9,1576.7 398.0,1575.0 399.1,1575.6 400.2,1575.6 401.2,1577.3 402.3,1577.8 403.4,1578.7 404.3,1580.0 405.1,1581.2 406.0,1582.1 406.8,1583.2 407.7,1582.9 408.5,1585.9 409.4,1586.1 410.3,1587.8 411.2,1587.8 412.2,1590.5 413.0,1591.4 413.9,1591.9 414.8,1592.8 415.8,1593.7 416.7,1596.4 417.7,1595.8 418.7,1596.4 419.6,1597.7 420.6,1599.2 421.5,1599.7 422.4,1600.6 423.2,1601.5 424.8,1603.2 426.2,1604.2 427.6,1602.6 429.0,1603.0 430.4,1603.1 432.0,1604.3 433.3,1604.9 434.7,1604.6 436.1,1604.0 437.6,1604.5 439.1,1603.7 440.5,1604.5 441.9,1604.7 443.2,1604.0 444.6,1604.5 445.9,1605.1 447.2,1603.6 448.4,1603.8 449.6,1603.1 450.9,1601.3 452.1,1602.9 453.4,1600.9 454.8,1599.9 456.2,1600.8 457.5,1600.0 458.8,1599.7 459.9,1599.3 460.9,1600.0 461.8,1600.2 462.3,1602.3 462.7,1603.8 463.2,1604.0 464.2,1605.8 465.1,1606.0 466.2,1605.5 467.4,1604.7 468.7,1603.8 470.1,1604.3 471.5,1602.7 472.9,1601.1 474.2,1602.2 475.5,1601.4 476.9,1601.2 478.3,1601.1 479.6,1599.5 481.0,1599.5 482.4,1601.1 483.8,1602.4 485.2,1601.7 486.4,1600.0 487.6,1601.2 488.9,1601.3 490.1,1598.7 491.3,1598.5 492.5,1597.4 493.7,1597.1 495.0,1595.9 496.2,1596.2 497.4,1596.6 498.7,1596.1 500.0,1596.1 501.3,1595.7 502.5,1594.3 503.8,1592.5 505.0,1593.7 506.2,1593.1 507.3,1591.7 508.5,1592.5 509.7,1590.5 510.9,1590.6 512.0,1589.8 513.1,1589.7 514.1,1586.2 515.1,1585.6 516.1,1585.4 517.0,1585.6 517.9,1584.9 518.7,1582.4 519.5,1581.4 520.3,1581.6 521.1,1578.9 521.9,1578.2 522.7,1577.7 523.5,1576.4 524.3,1574.3 525.2,1573.7 526.0,1571.7 526.8,1570.0 527.6,1568.6 528.5,1568.9 529.3,1569.6 530.4,1568.3 531.5,1568.8 532.6,1570.2 533.8,1570.4 534.9,1571.9 536.0,1573.0 537.3,1573.3 538.7,1574.5 540.0,1574.4 541.4,1574.0 542.6,1574.2 543.3,1573.7 544.1,1573.5 544.8,1570.3 545.5,1569.6 546.2,1570.4 546.8,1567.3 547.5,1566.8 548.1,1564.1 548.4,1562.3 548.7,1561.0 549.0,1559.9 549.3,1559.8 549.6,1556.4 549.9,1555.5 550.2,1555.1 550.4,1553.4 550.7,1551.4 551.0,1550.0 551.3,1548.3 551.6,1547.3 551.9,1547.7 552.2,1545.4 552.5,1544.2 553.0,1543.0 553.4,1540.9 553.9,1538.0 554.4,1539.4 554.9,1535.7 555.4,1535.6 555.9,1535.2 556.4,1532.2 556.9,1532.9 557.5,1530.9 558.0,1529.8 558.9,1529.2 559.9,1527.9 560.9,1526.8 561.8,1526.5 562.8,1526.5 563.8,1524.7 564.7,1523.0 565.4,1522.7 566.0,1521.5 566.6,1519.5 567.2,1519.5 567.8,1517.9 568.4,1517.2 569.0,1515.6 569.6,1514.3 570.2,1512.4 570.7,1512.4 571.2,1511.1 571.7,1509.9 572.2,1508.6 572.6,1508.4 573.1,1505.5 573.6,1503.9 574.1,1503.9 574.6,1501.5 575.2,1500.5 575.7,1500.2 576.3,1499.0 576.9,1498.1 577.6,1494.0 578.3,1493.1 578.9,1491.9 579.6,1490.3 580.3,1490.9 581.0,1489.8 581.6,1486.8 582.3,1487.9 583.6,1487.8 584.9,1487.8 586.3,1487.8 587.6,1487.1 588.9,1488.9 590.0,1488.7 591.1,1490.2 592.2,1491.8 593.4,1492.8 594.5,1493.1 595.6,1492.5 596.5,1494.2 597.5,1491.8 598.4,1491.1 599.4,1490.9 600.3,1488.9 601.3,1487.6 602.2,1486.6 603.0,1484.7 603.9,1484.3 604.7,1483.1 605.5,1481.9 606.3,1480.6 607.1,1479.5 608.0,1479.7 608.8,1477.2 609.9,1475.9 611.0,1475.2 612.0,1474.8 613.1,1473.0 614.2,1473.1 615.4,1472.5 616.3,1473.6 617.2,1473.3 618.2,1472.6 619.2,1473.5 620.1,1477.1 621.1,1476.4 622.2,1479.7 623.2,1480.4 623.8,1479.7 624.5,1482.7 625.2,1482.3 625.9,1484.4 626.5,1484.7 627.2,1485.4 627.9,1487.5 628.6,1488.6 629.3,1490.1 630.0,1491.4 630.7,1493.8 631.4,1493.2 632.1,1496.2 632.7,1496.3 633.3,1496.6 633.9,1499.3 634.5,1500.6 635.0,1501.8 635.6,1502.1 636.2,1504.8 636.8,1505.6 637.4,1505.8 638.0,1507.7 638.6,1506.9 639.1,1509.6 639.7,1510.4 640.3,1511.7 640.9,1513.8 641.6,1514.3 642.3,1515.4 643.0,1518.7 643.7,1519.5 644.5,1517.8 645.2,1520.8 645.9,1521.1 646.6,1521.8 647.3,1522.8 648.1,1523.5 648.9,1525.2 649.7,1526.3 650.8,1527.7 652.0,1529.2 653.2,1529.3 654.4,1530.4 655.6,1531.6 656.9,1530.5 658.1,1531.0 659.5,1532.4 660.8,1532.6 661.9,1533.8 663.1,1535.3 664.2,1533.5 665.4,1536.5 666.7,1535.9 667.9,1536.5 669.1,1539.1 670.3,1536.6 671.6,1536.8 672.8,1538.6 674.0,1538.3 675.3,1538.1 676.7,1538.4 678.1,1537.4 679.4,1538.0 680.8,1537.7 682.1,1536.9 683.5,1537.1 684.8,1536.5 686.1,1535.7 687.3,1535.8 688.4,1534.5 689.4,1533.8 690.5,1532.3 691.5,1531.3 692.5,1529.6 693.4,1529.2 694.4,1528.3 695.4,1527.8 696.3,1526.4 697.3,1525.7 698.3,1526.6 699.5,1524.3 700.8,1523.7 702.0,1522.8 703.3,1522.0 704.6,1520.8 705.8,1519.5 707.0,1517.5 708.2,1518.5 709.3,1519.2 710.5,1519.0 711.7,1518.4 712.8,1520.0 713.9,1521.4 715.0,1519.9 716.0,1521.2 717.1,1523.1 718.2,1522.2 718.8,1524.7 719.4,1525.8 720.0,1527.4 720.6,1526.6 721.2,1530.3 721.8,1530.3 722.4,1532.2 723.0,1532.3 723.6,1534.9 724.2,1535.9 724.8,1538.3 725.4,1538.6 725.9,1540.3 726.5,1539.7 727.0,1542.9 727.7,1543.9 728.3,1544.3 728.9,1545.2 729.5,1547.6 730.0,1548.1 730.6,1549.3 731.1,1551.3 731.7,1552.0 732.3,1552.3 732.9,1553.7 733.6,1555.4 734.6,1556.9 735.6,1558.8 736.7,1557.6 737.8,1558.8 738.9,1560.0 740.1,1559.6 741.3,1559.5 742.5,1562.1 743.7,1562.7 744.8,1561.9 746.0,1564.9 747.2,1564.1 748.5,1563.7 749.9,1564.7 751.6,1564.5 753.5,1564.9 754.5,1566.8 755.4,1564.1 756.4,1566.8 757.4,1564.4 758.4,1564.9 759.4,1566.5 760.5,1564.9 761.6,1565.2 762.8,1566.3 764.0,1565.4 765.4,1566.2 766.8,1565.3 768.3,1566.9 770.0,1565.6 771.7,1566.0 773.6,1566.4 775.6,1565.0 776.6,1566.9 777.6,1565.6 778.7,1565.3 779.8,1567.2 781.0,1565.8 782.2,1565.2 783.4,1565.6 784.7,1565.8 786.0,1566.2 787.3,1566.5 788.7,1565.5 790.1,1566.7 791.5,1567.2 792.9,1567.9 794.3,1567.0 795.8,1566.1 797.2,1566.7 798.7,1566.7 800.2,1565.7 801.6,1565.6 803.1,1565.4 804.6,1567.2 806.0,1566.6 807.5,1567.3 808.9,1566.7 810.4,1566.8 811.8,1568.3 813.2,1566.8 814.5,1566.9 815.9,1567.0 817.2,1566.3 818.5,1566.2 819.8,1566.5 821.0,1566.7 822.2,1567.5 823.4,1567.0 824.5,1567.1 826.2,1566.5 827.8,1567.5 829.3,1567.6 830.8,1566.6 832.2,1565.6 833.6,1566.4 835.0,1565.8 836.3,1566.5 837.6,1567.0 838.9,1566.1 840.1,1567.2 841.4,1566.2 842.6,1564.7 843.8,1565.8 845.1,1565.5 846.3,1565.7 847.5,1565.2 848.8,1566.2 850.0,1566.2 851.3,1566.3 852.6,1565.4 853.9,1564.7 855.3,1564.0 856.7,1564.8 858.0,1564.7 859.3,1564.3 860.6,1563.9 862.0,1564.6 863.4,1564.9 864.9,1565.5 866.3,1564.7 867.8,1564.3 869.3,1563.9 870.8,1562.7 872.4,1564.4 873.9,1564.3 875.4,1562.4 876.9,1563.6 878.3,1563.7 879.8,1563.7 881.2,1563.1 882.5,1562.6 883.9,1561.9 885.2,1563.0 886.4,1562.2 887.5,1561.2 888.7,1562.1 889.7,1560.8 890.6,1561.7 891.5,1560.4 892.3,1561.6 893.0,1560.0" fill="none" stroke="#000" stroke-width="5.9" stroke-linejoin="round" stroke-linecap="round"/>
<line x1="707.8" y1="1384.8" x2="746.8000000000001" y2="1384.8" stroke="#000" stroke-width="4.6" stroke-linecap="round"/>
<text transform="translate(36.19,0) scale(0.9520,1)" x="754.0" y="1391.3" font-size="25"><tspan>Exp.&#160;data</tspan></text>
<line x1="707.8" y1="1417.0" x2="746.8000000000001" y2="1417.0" stroke="#008200" stroke-width="4.6" stroke-linecap="round"/>
<text transform="translate(-12.82,0) scale(1.0170,1)" x="754.0" y="1423.5" font-size="25"><tspan>Fit-model</tspan></text>
<line x1="707.8" y1="1457.7" x2="746.8000000000001" y2="1457.7" stroke="#ee0a0a" stroke-width="4.6" stroke-linecap="round"/>
<text transform="translate(18.85,0) scale(0.9750,1)" x="754.0" y="1464.0" font-size="25"><tspan>Ce</tspan><tspan font-size="24.5" dy="-10">3+</tspan><tspan dy="10">-&#160;comp.</tspan></text>
<line x1="707.8" y1="1498.3" x2="746.8000000000001" y2="1498.3" stroke="#0000f0" stroke-width="4.6" stroke-linecap="round"/>
<text transform="translate(18.85,0) scale(0.9750,1)" x="754.0" y="1504.6" font-size="25"><tspan>Ce</tspan><tspan font-size="24.5" dy="-10">4+</tspan><tspan dy="10">-&#160;comp.</tspan></text>
<path d="M496.2,2172.8 C499.9,2172.4 512.4,2171.5 518.3,2170.6 C524.2,2169.7 527.8,2168.0 531.5,2167.3 C535.2,2166.6 536.7,2167.8 540.4,2166.2 C544.1,2164.5 549.5,2160.5 553.6,2157.4 C557.7,2154.3 561.4,2151.8 564.7,2147.4 C568.0,2143.0 570.6,2137.3 573.5,2130.9 C576.4,2124.5 579.0,2116.9 582.3,2108.8 C585.6,2100.7 589.7,2091.5 593.4,2082.3 C597.1,2073.1 601.1,2062.8 604.4,2053.6 C607.7,2044.4 610.9,2032.6 613.2,2027.1 C615.5,2021.6 616.4,2020.9 618.2,2020.5 C620.1,2020.1 622.3,2022.3 624.3,2024.9 C626.3,2027.5 628.0,2031.2 630.0,2036.0 C632.0,2040.8 633.6,2046.2 636.5,2053.6 C639.4,2060.9 643.5,2072.4 647.5,2080.1 C651.5,2087.8 656.0,2095.2 660.8,2100.0 C665.6,2104.8 671.1,2107.7 676.2,2108.8 C681.4,2109.9 686.6,2108.6 691.7,2106.6 C696.9,2104.6 703.1,2097.8 707.1,2096.7 C711.1,2095.6 713.0,2096.9 716.0,2100.0 C719.0,2103.1 721.5,2110.2 724.8,2115.4 C728.1,2120.6 731.4,2126.9 735.8,2130.9 C740.2,2134.9 745.8,2137.7 751.3,2139.7 C756.8,2141.7 762.4,2142.2 768.9,2143.0 C775.4,2143.8 786.5,2144.0 790.0,2144.2" fill="none" stroke="#0000f0" stroke-width="5.3" stroke-linejoin="round" stroke-linecap="round"/>
<polyline points="49.7,2183.4 50.4,2182.9 51.3,2183.1 52.2,2183.7 53.2,2182.1 54.3,2184.9 55.5,2183.5 56.7,2183.8 58.0,2183.4 59.4,2183.8 60.8,2183.1 62.3,2183.6 63.8,2183.5 65.3,2183.4 66.8,2182.7 68.4,2183.6 70.0,2182.9 71.6,2182.9 73.2,2182.9 74.8,2183.3 76.3,2181.7 77.9,2183.0 79.4,2182.5 80.8,2181.7 82.3,2183.0 83.7,2182.7 85.0,2182.1 86.3,2181.5 87.5,2181.8 88.6,2181.6 90.2,2182.9 91.7,2181.4 93.0,2182.3 94.1,2180.5 95.2,2182.1 96.2,2182.8 97.1,2182.0 98.0,2181.1 98.9,2181.9 99.9,2182.5 101.0,2182.1 102.1,2182.2 103.4,2182.4 104.8,2182.4 106.5,2181.8 108.4,2182.7 110.5,2183.0 112.9,2183.0 113.8,2181.9 114.8,2182.5 115.8,2183.4 116.8,2181.7 117.9,2182.8 119.0,2182.2 120.1,2182.6 121.3,2182.5 122.6,2182.6 123.8,2182.6 125.1,2182.4 126.4,2182.5 127.7,2182.4 129.1,2182.5 130.4,2182.4 131.8,2182.2 133.3,2182.3 134.7,2182.6 136.1,2182.4 137.6,2182.4 139.1,2182.2 140.6,2182.1 142.0,2182.3 143.5,2182.3 145.0,2182.0 146.5,2182.2 148.0,2182.4 149.6,2182.2 151.1,2182.2 152.5,2182.2 154.0,2182.2 155.5,2182.2 157.0,2182.0 158.5,2182.1 159.9,2181.8 161.3,2181.8 162.7,2182.0 164.1,2181.9 165.5,2181.8 166.9,2181.7 168.2,2182.0 169.5,2181.9 170.8,2181.6 172.0,2181.5 173.3,2181.9 174.5,2181.6 175.6,2181.4 176.7,2181.5 177.8,2181.7 178.8,2181.8 179.8,2181.8 180.8,2181.6 182.9,2181.3 184.9,2181.2 186.8,2181.2 188.6,2181.2 190.2,2180.9 191.8,2180.7 193.2,2180.5 194.6,2180.6 195.9,2180.3 197.1,2180.5 198.3,2179.9 199.4,2179.5 200.5,2179.5 201.6,2179.3 202.6,2179.3 203.6,2179.3 204.6,2178.9 205.7,2178.9 206.7,2179.0 207.8,2178.7 208.9,2178.5 210.0,2178.4 211.6,2178.3 213.2,2177.9 214.7,2177.9 216.3,2177.6 217.8,2177.5 219.2,2177.5 220.7,2177.3 222.1,2177.4 223.5,2176.9 224.8,2177.1 226.1,2177.0 227.4,2176.7 228.6,2176.5 229.7,2176.2 230.8,2176.1 231.8,2175.9 233.6,2175.2 235.2,2174.8 236.5,2173.9 237.6,2173.4 238.6,2172.4 239.6,2171.7 240.6,2170.7 241.6,2170.2 242.6,2168.5 243.5,2168.1 244.4,2166.9 245.3,2165.9 246.1,2164.4 246.9,2163.3 247.8,2161.9 248.8,2161.0 249.6,2160.0 250.5,2158.9 251.3,2157.8 252.2,2156.6 253.2,2155.7 254.1,2154.8 255.0,2153.4 255.9,2152.1 256.8,2151.2 257.7,2150.1 258.6,2148.8 259.5,2147.9 260.3,2147.2 261.2,2146.2 262.1,2144.9 263.0,2144.1 263.9,2142.9 264.7,2142.0 265.6,2140.4 266.5,2138.8 267.0,2137.7 267.5,2137.2 268.0,2135.8 268.5,2134.8 268.9,2133.4 269.4,2132.4 269.9,2131.0 270.4,2129.6 270.9,2128.3 271.4,2127.0 271.9,2125.8 272.4,2124.4 272.8,2122.6 273.3,2121.7 273.8,2120.3 274.3,2119.3 274.8,2118.1 275.3,2116.9 275.9,2115.6 276.5,2114.4 277.1,2113.2 277.7,2111.8 278.3,2110.9 278.9,2109.8 279.5,2108.5 280.0,2107.4 280.6,2106.2 281.2,2105.1 281.8,2104.0 282.4,2102.7 283.0,2101.8 283.6,2100.5 284.2,2099.4 284.8,2097.9 285.3,2096.9 285.9,2095.2 286.5,2094.1 287.1,2093.0 287.7,2091.5 288.2,2090.0 288.8,2089.0 289.4,2087.5 289.9,2086.3 290.5,2084.9 291.0,2083.7 291.6,2082.5 292.1,2081.0 292.5,2080.0 293.0,2079.7 293.8,2077.5 294.5,2076.1 295.1,2074.8 295.8,2073.7 296.3,2072.3 296.9,2071.1 297.4,2070.1 298.0,2069.0 298.5,2068.0 299.9,2066.2 301.2,2065.0 302.5,2065.3 303.2,2065.6 304.0,2066.3 304.8,2067.3 305.6,2068.9 306.5,2070.6 307.3,2072.9 307.6,2074.0 308.0,2074.9 308.3,2075.9 308.7,2077.2 309.0,2078.6 309.4,2079.7 309.8,2081.2 310.1,2082.6 310.5,2084.0 310.9,2085.8 311.2,2086.9 311.6,2088.5 312.0,2090.0 312.4,2091.2 312.8,2092.8 313.2,2093.8 313.6,2095.2 314.0,2096.4 314.3,2097.7 314.7,2099.3 315.1,2100.3 315.5,2101.7 315.9,2103.2 316.4,2104.3 316.8,2105.6 317.2,2106.6 317.6,2108.2 318.1,2109.5 318.6,2110.5 319.0,2111.4 319.5,2112.6 320.2,2113.5 320.8,2115.2 321.5,2116.2 322.2,2117.7 322.9,2118.9 323.6,2119.8 324.4,2120.8 325.1,2122.0 325.9,2122.7 326.7,2123.8 327.5,2124.7 328.3,2125.6 329.3,2127.1 330.3,2127.8 331.4,2128.5 332.4,2129.2 333.5,2130.4 334.6,2131.0 335.8,2132.1 336.9,2133.1 338.1,2133.6 339.3,2134.5 340.3,2135.2 341.4,2136.0 342.5,2137.2 343.6,2138.0 344.7,2138.8 345.8,2139.6 346.9,2140.7 348.1,2141.8 349.2,2142.3 350.4,2143.0 351.5,2143.9 352.6,2144.2 353.9,2145.0 355.2,2146.0 356.6,2146.5 357.9,2147.0 359.2,2147.6 360.5,2147.5 361.8,2148.2 363.2,2148.4 364.5,2148.7 365.8,2148.8 367.1,2149.1 368.5,2149.4 369.8,2149.1 371.1,2149.0 372.4,2148.8 373.8,2148.8 375.1,2148.3 376.4,2148.4 377.8,2147.7 379.1,2147.8 380.4,2147.4 381.8,2147.1 383.2,2146.5 384.6,2146.0 386.0,2145.4 387.3,2144.9 388.7,2144.3 389.9,2144.1 391.2,2144.0 392.3,2143.8 393.8,2143.8 395.1,2144.2 396.3,2144.3 397.4,2145.0 398.5,2146.1 399.8,2146.6 401.1,2148.0 401.9,2148.4 402.7,2149.4 403.5,2150.1 404.3,2151.4 405.2,2152.5 406.1,2153.6 407.0,2154.9 407.8,2155.8 408.7,2156.9 409.6,2158.1 410.5,2159.2 411.3,2160.0 412.2,2161.0 413.3,2161.9 414.3,2163.1 415.3,2164.0 416.3,2165.2 417.3,2166.0 418.4,2166.8 419.5,2167.7 420.6,2168.3 421.9,2169.2 423.2,2169.7 424.2,2170.2 425.2,2170.9 426.1,2171.1 427.0,2171.2 427.9,2171.4 428.9,2171.9 430.0,2171.8 431.2,2172.5 432.5,2172.2 434.1,2172.5 435.8,2172.9 437.8,2172.7 440.0,2173.2 440.9,2173.0 442.0,2173.1 443.0,2173.2 444.2,2173.1 445.3,2173.3 446.6,2173.1 447.9,2173.2 449.2,2173.3 450.5,2173.7 451.9,2173.7 453.3,2173.3 454.8,2173.7 456.3,2173.6 457.7,2173.8 459.2,2173.6 460.8,2173.7 462.3,2174.0 463.8,2174.0 465.3,2173.7 466.8,2173.9 468.3,2174.1 469.8,2173.9 471.3,2173.9 472.7,2174.0 474.2,2173.8 475.6,2173.7 476.9,2173.8 478.2,2174.0 479.5,2174.1 480.8,2174.2 482.0,2173.9 483.1,2174.1 484.2,2173.9 485.2,2173.8 487.1,2174.1 488.9,2173.8 490.6,2173.6 492.2,2173.4 493.7,2173.1 495.1,2173.4 496.4,2173.2 497.6,2173.1 498.8,2172.8 500.0,2172.4 501.1,2172.2 502.2,2172.1 503.2,2172.1 504.2,2171.4 505.2,2171.2 506.3,2170.7 507.3,2170.6 508.7,2170.1 510.0,2169.2 511.3,2168.7 512.4,2167.8 513.5,2167.0 514.6,2166.3 515.6,2165.4 516.6,2164.6 517.6,2163.9 518.5,2163.0 519.5,2162.2 520.5,2162.0 521.8,2161.0 523.1,2160.2 524.3,2159.9 525.5,2159.0 526.7,2158.7 527.9,2158.1 529.1,2157.9 530.3,2157.2 531.5,2157.2 532.9,2157.6 534.3,2158.0 535.8,2158.3 537.2,2158.9 538.6,2159.4 540.0,2160.0 541.3,2160.1 542.6,2159.6 543.6,2158.9 544.5,2158.3 545.4,2157.2 546.3,2156.4 547.1,2154.7 548.0,2153.5 548.8,2152.3 549.7,2151.0 550.5,2149.4 551.4,2148.6 552.2,2147.6 553.0,2146.2 553.8,2145.0 554.6,2144.4 555.4,2143.0 556.2,2141.6 557.0,2140.5 557.8,2139.7 558.6,2138.6 559.4,2137.2 560.2,2136.2 561.1,2135.1 562.0,2134.6 562.9,2133.3 563.9,2132.7 564.8,2132.0 565.7,2131.1 566.6,2130.2 567.5,2129.2 568.3,2127.7 569.1,2126.4 569.6,2125.4 570.0,2124.4 570.5,2123.4 570.9,2122.3 571.3,2121.0 571.7,2119.7 572.1,2118.4 572.5,2117.2 572.9,2115.8 573.3,2114.6 573.7,2112.9 574.1,2111.7 574.5,2110.1 574.9,2109.1 575.3,2107.7 575.7,2106.5 576.2,2105.3 576.6,2103.9 577.1,2102.8 577.5,2101.4 578.0,2100.2 578.4,2098.7 578.9,2097.5 579.3,2096.2 579.8,2095.0 580.3,2094.0 580.7,2092.7 581.2,2091.6 581.8,2090.0 582.3,2089.2 582.8,2087.7 583.4,2086.5 583.9,2085.4 584.5,2084.2 585.1,2083.2 585.7,2081.8 586.3,2080.8 586.9,2079.4 587.5,2078.2 588.1,2077.2 588.7,2075.8 589.3,2074.8 589.9,2073.8 590.5,2072.6 591.1,2071.0 591.7,2070.2 592.3,2069.0 592.9,2067.9 593.5,2066.8 594.1,2065.6 594.8,2064.2 595.4,2063.2 596.0,2062.3 596.6,2061.0 597.2,2059.9 597.8,2058.5 598.4,2057.3 598.9,2056.2 599.5,2054.7 600.0,2053.7 600.5,2052.5 600.9,2051.3 601.4,2050.2 601.8,2048.9 602.3,2047.7 602.7,2046.3 603.1,2045.0 603.5,2043.8 603.9,2042.6 604.3,2041.0 604.7,2040.0 605.1,2038.7 605.5,2037.4 605.8,2036.1 606.2,2035.0 606.6,2033.6 607.0,2032.3 607.4,2031.0 607.8,2029.4 608.2,2028.2 608.6,2027.1 609.0,2025.6 609.4,2024.2 609.8,2022.9 610.1,2021.6 610.5,2020.5 610.9,2019.1 611.3,2017.9 611.7,2016.9 612.1,2016.0 612.9,2014.5 613.8,2012.6 614.7,2011.4 615.6,2010.3 616.4,2009.5 617.3,2009.0 618.2,2008.5 619.5,2008.7 620.8,2009.3 622.1,2010.3 623.3,2011.5 624.3,2012.8 625.2,2013.5 625.8,2014.3 626.5,2015.7 627.7,2018.7 628.0,2018.9 628.4,2020.3 628.8,2021.0 629.2,2022.2 629.6,2023.4 630.1,2024.7 630.5,2026.0 631.0,2027.2 631.5,2028.7 632.0,2030.1 632.5,2031.2 633.0,2032.9 633.5,2034.4 634.0,2035.8 634.6,2037.3 635.1,2038.7 635.5,2039.7 636.0,2041.3 636.5,2042.7 637.0,2043.9 637.4,2045.3 637.9,2046.6 638.3,2048.1 638.8,2048.8 639.2,2050.0 639.6,2051.7 640.1,2052.9 640.5,2054.4 641.0,2055.6 641.4,2057.0 641.9,2058.2 642.4,2059.7 642.8,2060.7 643.3,2061.7 643.8,2063.1 644.3,2064.3 644.8,2065.6 645.3,2067.1 645.9,2068.1 646.4,2069.6 647.0,2070.9 647.6,2072.3 648.2,2073.6 648.8,2074.6 649.4,2076.0 650.0,2077.4 650.6,2078.5 651.2,2080.0 651.8,2081.1 652.5,2082.2 653.1,2083.4 653.7,2084.6 654.4,2085.5 655.1,2086.8 655.7,2087.8 656.4,2088.9 657.3,2090.0 658.2,2091.3 659.1,2092.3 660.0,2093.5 661.0,2094.6 661.9,2095.8 662.9,2096.5 663.8,2097.5 664.8,2098.4 665.8,2099.4 666.7,2100.2 667.7,2100.8 668.7,2101.5 669.6,2102.2 670.9,2103.1 672.2,2103.8 673.6,2104.4 674.9,2104.9 676.2,2105.4 677.5,2105.8 678.8,2106.3 680.2,2106.6 681.5,2106.8 682.8,2106.5 684.0,2106.7 685.2,2106.4 686.4,2105.9 687.6,2105.4 688.8,2104.6 690.1,2104.2 691.3,2103.6 692.5,2103.0 693.7,2102.3 694.9,2101.7 696.1,2101.1 697.3,2100.5 698.6,2099.5 699.8,2098.8 701.1,2097.7 702.3,2097.1 703.6,2096.2 704.8,2095.8 706.0,2094.7 707.2,2094.2 708.3,2093.6 709.3,2093.3 710.6,2093.4 711.8,2093.6 713.0,2094.0 714.0,2094.6 715.1,2095.1 716.1,2096.5 717.1,2097.5 718.2,2098.8 718.8,2099.8 719.4,2100.6 720.1,2101.8 720.7,2103.0 721.3,2103.9 721.9,2105.1 722.5,2106.3 723.1,2107.8 723.7,2109.2 724.3,2110.6 725.0,2111.8 725.6,2113.3 726.3,2114.2 727.0,2115.3 727.7,2116.4 728.4,2117.8 729.2,2118.7 729.9,2119.6 730.7,2121.2 731.4,2122.7 732.2,2123.6 733.0,2124.9 733.8,2125.7 734.6,2127.0 735.5,2127.9 736.3,2129.0 737.1,2129.7 738.0,2130.8 739.0,2132.0 740.0,2132.8 741.1,2133.4 742.1,2134.5 743.2,2135.5 744.2,2136.0 745.3,2136.8 746.5,2137.7 747.6,2138.1 748.8,2138.6 750.0,2139.1 751.3,2139.9 752.5,2140.2 753.7,2140.6 755.0,2140.8 756.3,2141.3 757.6,2141.3 758.9,2141.7 760.3,2142.0 761.7,2142.3 763.1,2142.1 764.5,2142.5 766.0,2143.0 767.4,2143.0 768.9,2142.8 770.2,2143.2 771.5,2142.9 772.9,2143.3 774.4,2143.7 775.9,2143.5 777.5,2143.6 779.0,2143.7 780.5,2143.9 782.0,2143.9 783.5,2144.0 784.8,2143.9 786.1,2144.2 787.3,2144.2 788.3,2144.2 789.3,2144.2 790.0,2143.9" fill="none" stroke="#008200" stroke-width="5.3" stroke-linejoin="round" stroke-linecap="round"/>
<polyline points="180.8,2182.1 181.5,2182.2 182.2,2182.0 183.1,2182.1 183.9,2181.8 184.9,2182.0 185.8,2181.9 186.9,2182.1 188.0,2182.0 189.1,2182.2 190.3,2182.0 191.5,2182.0 192.7,2182.0 194.0,2181.9 195.3,2182.3 196.7,2181.9 198.1,2182.1 199.5,2182.3 200.9,2182.1 202.4,2182.0 203.9,2182.2 205.4,2182.4 206.9,2182.4 208.4,2182.0 209.9,2182.2 211.5,2182.3 213.0,2182.6 214.6,2182.3 216.1,2182.3 217.6,2182.5 219.2,2182.0 220.7,2182.2 222.2,2182.0 223.7,2182.2 225.2,2182.1 226.7,2182.1 228.2,2182.3 229.6,2182.3 231.0,2182.3 232.4,2182.1 233.8,2182.1 235.1,2181.9 236.4,2182.2 237.6,2182.2 238.8,2182.0 240.0,2181.9 241.5,2181.8 243.0,2182.0 244.5,2182.0 245.9,2181.9 247.3,2181.5 248.7,2181.5 250.1,2181.4 251.4,2181.7 252.8,2181.4 254.1,2181.1 255.4,2181.2 256.7,2181.1 258.0,2181.0 259.3,2180.9 260.5,2180.6 261.8,2180.4 263.0,2180.6 264.3,2180.7 265.5,2180.1 266.8,2180.0 268.0,2180.1 269.2,2179.7 270.4,2179.4 271.7,2179.6 272.9,2179.7 274.1,2179.6 275.4,2179.5 276.6,2179.1 277.8,2179.2 279.1,2179.0 280.4,2178.9 281.6,2178.9 282.9,2178.6 284.2,2178.8 285.5,2178.7 286.9,2178.6 288.2,2178.5 289.5,2178.3 290.9,2178.6 292.2,2178.6 293.6,2178.1 294.9,2178.1 296.2,2177.9 297.6,2177.9 298.9,2178.0 300.2,2178.0 301.6,2177.7 302.9,2177.6 304.2,2177.4 305.6,2177.5 306.9,2177.4 308.3,2177.5 309.6,2177.4 310.9,2177.1 312.3,2177.1 313.6,2177.3 314.9,2177.0 316.3,2177.0 317.6,2176.7 318.9,2177.1 320.3,2177.0 321.6,2176.8 323.0,2176.9 324.3,2176.9 325.6,2176.9 327.0,2176.5 328.3,2176.5 329.6,2176.5 330.9,2176.5 332.1,2176.0 333.4,2176.2 334.7,2175.9 335.9,2176.3 337.2,2176.0 338.4,2176.1 339.7,2175.8 340.9,2176.1 342.1,2175.9 343.4,2175.6 344.6,2175.3 345.8,2175.6 347.1,2175.5 348.3,2175.3 349.6,2175.3 350.8,2175.1 352.1,2175.3 353.3,2175.3 354.6,2174.9 355.9,2174.8 357.2,2175.0 358.5,2174.6 359.8,2174.7 361.2,2174.7 362.5,2174.6 363.9,2174.8 365.3,2174.4 366.7,2174.6 368.1,2174.5 369.6,2174.4 371.0,2174.4 372.5,2174.3 373.7,2174.3 374.8,2174.2 376.0,2174.1 377.2,2174.4 378.4,2174.4 379.6,2174.2 380.8,2174.0 382.0,2174.3 383.3,2173.9 384.5,2174.0 385.7,2174.1 387.0,2174.0 388.2,2173.8 389.5,2174.3 390.8,2173.8 392.1,2174.3 393.3,2174.4 394.6,2174.2 395.9,2174.1 397.2,2173.8 398.6,2174.0 399.9,2173.7 401.2,2174.0 402.5,2174.1 403.9,2173.7 405.2,2174.0 406.5,2173.9 407.9,2174.2 409.2,2174.0 410.6,2174.1 412.0,2174.0 413.3,2174.0 414.7,2174.0 416.1,2173.8 417.5,2174.1 418.8,2173.9 420.2,2173.8 421.6,2174.0 423.0,2174.1 424.4,2174.1 425.8,2174.1 427.2,2174.0 428.6,2173.9 430.0,2173.9 431.2,2173.7 432.5,2174.0 433.8,2173.9 435.1,2174.0 436.5,2173.7 437.8,2173.8 439.2,2173.9 440.6,2173.7 442.0,2173.8 443.5,2173.8 444.9,2173.8 446.3,2173.5 447.8,2173.6 449.3,2173.5 450.7,2173.7 452.2,2173.6 453.7,2174.1 455.2,2173.6 456.7,2174.0 458.2,2173.8 459.7,2173.6 461.2,2173.7 462.6,2173.4 464.1,2173.6 465.6,2173.6 467.1,2174.0 468.5,2173.5 469.9,2173.5 471.4,2173.6 472.8,2173.6 474.2,2173.1 475.6,2173.6 477.0,2173.4 478.3,2173.3 479.6,2173.4 480.9,2173.2 482.2,2173.1 483.5,2173.3 484.7,2173.4 485.9,2173.1 487.1,2173.2 488.3,2173.1 489.4,2173.2 490.5,2173.1 491.5,2172.9 492.5,2173.2 493.5,2172.8 494.4,2172.6 495.3,2172.8 496.2,2172.8 499.2,2172.7 501.6,2172.4 503.6,2172.2 505.3,2172.4 506.6,2171.6 507.7,2171.5 508.7,2171.3 509.5,2171.1 510.2,2170.7 511.0,2170.6 511.8,2170.1 512.7,2170.1 513.9,2169.3 515.3,2169.2 516.6,2168.7 518.0,2168.0 519.3,2167.5 520.6,2167.0 521.9,2166.3 523.1,2165.8 524.4,2165.4 525.7,2165.0 526.9,2164.7 528.1,2164.2 529.3,2164.2 530.7,2164.2 532.1,2164.5 533.5,2164.8 534.9,2164.9 536.2,2166.0 537.5,2166.4 538.8,2166.8 540.1,2167.1 541.4,2167.3 542.6,2167.2 543.8,2166.7 545.0,2166.2 546.1,2165.7 547.3,2164.6 548.4,2163.8 549.5,2163.2 550.5,2161.9 551.6,2161.1 552.6,2160.1 553.6,2159.7 555.0,2158.9 556.3,2158.5 557.6,2157.9 558.8,2157.9 560.0,2157.7 561.3,2157.4 562.5,2157.4 563.9,2157.6 565.3,2157.9 566.6,2158.4 568.0,2158.6 569.6,2158.9 571.3,2158.7 572.4,2158.0 573.5,2157.7 574.7,2156.7 576.0,2156.0 577.2,2155.2 578.5,2154.0 579.8,2152.8 581.1,2152.5 582.3,2151.9 583.4,2151.2 584.5,2150.7 586.2,2150.3 587.7,2150.4 589.1,2150.7 590.4,2151.0 591.8,2151.6 593.4,2151.7 594.7,2152.3 596.1,2152.2 597.5,2153.1 599.0,2153.3 600.4,2153.4 601.8,2153.5 603.2,2154.2 604.4,2154.0 605.8,2154.1 607.1,2153.7 608.3,2153.6 609.5,2152.9 610.7,2152.6 612.0,2151.8 613.2,2151.5 614.4,2151.0 615.6,2150.6 616.9,2149.8 618.2,2149.5 619.6,2149.2 621.0,2148.4 622.2,2148.0 623.4,2147.8 624.5,2147.2 625.7,2146.9 627.0,2146.5 628.5,2146.3 630.2,2146.2 632.1,2145.8 633.1,2145.8 634.1,2145.8 635.1,2145.9 636.1,2145.7 637.1,2145.6 638.2,2145.8 639.3,2145.6 640.5,2145.8 641.7,2145.8 643.0,2146.0 644.3,2145.6 645.8,2146.0 647.3,2145.7 648.8,2145.8 650.5,2146.3 652.3,2146.0 654.2,2146.1 655.2,2145.8 656.3,2145.9 657.4,2145.8 658.5,2145.9 659.7,2145.9 660.9,2145.7 662.1,2145.8 663.4,2145.8 664.6,2145.9 665.9,2145.9 667.3,2145.9 668.6,2145.6 670.0,2145.9 671.4,2146.0 672.8,2145.6 674.2,2145.6 675.6,2145.7 677.0,2145.7 678.4,2145.4 679.9,2145.5 681.3,2145.6 682.8,2145.3 684.2,2145.6 685.7,2145.4 687.1,2145.3 688.5,2145.6 690.0,2145.5 691.4,2145.2 692.8,2145.4 694.2,2145.3 695.6,2145.3 697.0,2145.5 698.3,2145.1 699.6,2145.3 700.9,2145.1 702.3,2145.1 703.7,2145.2 705.0,2145.1 706.4,2145.0 707.8,2145.0 709.3,2144.9 710.7,2144.6 712.1,2144.8 713.5,2144.7 715.0,2144.9 716.4,2144.3 717.8,2144.8 719.2,2144.8 720.7,2144.6 722.1,2144.6 723.5,2144.3 724.8,2144.8 726.2,2144.2 727.5,2144.4 728.9,2144.5 730.2,2144.2 731.5,2144.3 732.7,2144.3 733.9,2144.2 735.1,2144.4 736.3,2144.5 737.4,2143.8 738.5,2144.1 739.6,2144.3 740.6,2144.0 741.6,2144.3 742.5,2144.4 744.6,2144.2 746.3,2144.2 747.6,2144.0 748.6,2144.2 749.4,2144.3 750.1,2144.7 750.9,2144.5 751.7,2144.7 752.6,2144.8 753.9,2145.1 755.4,2145.3 757.5,2145.1 760.0,2145.2 760.9,2145.2 761.8,2145.4 762.8,2145.2 763.8,2145.3 764.9,2145.2 766.0,2145.0 767.1,2145.0 768.3,2145.2 769.5,2145.3 770.8,2145.2 772.1,2145.3 773.4,2145.1 774.7,2145.1 776.1,2145.0 777.4,2145.0 778.8,2145.2 780.2,2145.1 781.7,2145.1 783.1,2144.9 784.6,2145.1 786.0,2144.8 787.5,2145.1 789.0,2144.9 790.5,2145.1 791.9,2144.9 793.4,2144.7 794.9,2144.7 796.4,2145.0 797.8,2144.7 799.3,2144.7 800.7,2144.6 802.2,2145.1 803.6,2145.0 805.0,2144.9 806.4,2144.6 807.7,2145.0 809.0,2144.9 810.3,2144.7 811.6,2144.4 812.9,2144.7 814.1,2144.7 815.3,2144.7 816.4,2144.1 817.9,2145.2 819.5,2144.3 820.9,2143.1 822.4,2144.5 823.8,2144.8 825.2,2145.1 826.6,2145.8 827.9,2143.8 829.3,2144.3 830.6,2145.7 831.9,2144.6 833.2,2143.8 834.4,2144.1 835.7,2145.2 836.9,2145.7 838.2,2145.3 839.4,2145.8 840.6,2145.2 841.8,2144.1 843.1,2144.7 844.3,2145.0 845.5,2144.3 846.7,2144.8 847.9,2144.5 849.1,2145.0 850.4,2145.6 851.6,2145.2 852.9,2144.9 854.1,2143.9 855.4,2143.8 856.7,2143.8 858.0,2143.9 859.4,2144.0 860.8,2144.7 862.2,2144.5 863.6,2144.1 865.1,2143.6 866.6,2144.0 868.1,2145.2 869.6,2143.3 871.1,2144.2 872.6,2144.6 874.2,2143.7 875.7,2144.3 877.2,2143.2 878.6,2143.1 880.1,2142.7 881.5,2142.7 882.9,2143.3 884.3,2143.9 885.7,2142.4 887.0,2142.4 888.2,2142.4 889.5,2142.9 890.6,2143.6 891.7,2143.3 892.8,2141.9 893.8,2142.9 894.7,2142.5 895.5,2142.8 896.3,2142.9 897.0,2143.7" fill="none" stroke="#ee0a0a" stroke-width="5.3" stroke-linejoin="round" stroke-linecap="round"/>
<polyline points="49.7,2184.3 50.4,2184.6 51.2,2183.3 52.1,2183.2 53.1,2183.9 54.2,2184.6 55.3,2183.8 56.6,2182.8 57.8,2183.0 59.2,2183.4 60.5,2183.9 61.9,2183.3 63.4,2183.0 64.9,2183.0 66.4,2183.2 68.0,2182.6 69.5,2183.0 71.1,2183.0 72.7,2183.8 74.2,2182.7 75.8,2183.3 77.3,2182.0 78.9,2183.1 80.4,2182.6 81.9,2182.2 83.3,2182.4 84.7,2182.9 86.1,2182.2 87.4,2182.9 88.6,2183.2 90.0,2183.3 91.4,2183.2 92.7,2181.5 93.9,2182.5 95.1,2181.9 96.3,2182.8 97.4,2182.3 98.5,2182.4 99.6,2182.6 100.7,2182.0 101.8,2182.4 102.9,2182.0 104.1,2183.6 105.2,2182.2 106.4,2182.5 107.6,2181.4 108.9,2181.6 110.3,2182.0 111.7,2183.0 113.2,2183.0 114.7,2182.8 116.4,2182.2 118.1,2183.7 120.0,2182.0 121.0,2182.1 122.1,2182.9 123.1,2182.0 124.2,2182.8 125.3,2183.2 126.5,2182.6 127.7,2182.9 128.8,2182.7 130.1,2182.2 131.3,2180.8 132.5,2181.9 133.8,2182.6 135.1,2181.7 136.4,2182.3 137.7,2182.8 139.0,2183.4 140.4,2181.8 141.7,2182.3 143.1,2182.8 144.5,2183.0 145.9,2181.8 147.3,2183.7 148.7,2182.2 150.1,2183.3 151.5,2182.5 152.9,2182.9 154.3,2183.6 155.8,2183.1 157.2,2182.7 158.6,2182.0 160.0,2182.3 161.5,2181.8 162.9,2183.8 164.3,2181.7 165.7,2181.1 167.1,2183.6 168.6,2183.4 170.0,2182.4 171.3,2183.1 172.7,2182.1 174.1,2182.3 175.5,2182.9 176.8,2182.9 178.2,2182.4 179.5,2183.6 180.8,2182.6 182.1,2182.6 183.5,2182.6 184.8,2182.6 186.2,2182.6 187.5,2182.6 188.9,2182.6 190.3,2182.6 191.6,2182.6 193.0,2182.6 194.4,2182.6 195.7,2182.6 197.1,2182.7 198.5,2182.7 199.8,2182.7 201.2,2182.7 202.6,2182.7 203.9,2182.7 205.3,2182.7 206.7,2182.7 208.0,2182.7 209.4,2182.7 210.8,2182.7 212.1,2182.7 213.5,2182.7 214.8,2182.7 216.1,2182.8 217.5,2182.8 218.8,2182.8 220.1,2182.8 221.4,2182.8 222.7,2182.7 224.0,2182.7 225.3,2182.7 226.6,2182.7 227.9,2182.7 229.1,2182.7 230.4,2182.7 231.6,2182.7 232.9,2182.7 234.1,2182.6 235.3,2182.6 236.5,2182.6 237.7,2182.6 238.8,2182.5 240.0,2182.5 241.5,2182.5 243.0,2182.4 244.5,2182.3 245.9,2182.3 247.3,2182.2 248.7,2182.1 250.1,2182.1 251.4,2182.0 252.8,2181.9 254.1,2181.8 255.4,2181.7 256.7,2181.6 258.0,2181.5 259.3,2181.4 260.5,2181.3 261.8,2181.2 263.0,2181.1 264.3,2181.0 265.5,2180.9 266.8,2180.8 268.0,2180.7 269.2,2180.6 270.4,2180.5 271.7,2180.4 272.9,2180.3 274.1,2180.2 275.4,2180.1 276.6,2180.0 277.8,2179.9 279.1,2179.8 280.4,2179.7 281.6,2179.7 282.9,2179.6 284.2,2179.5 285.5,2179.4 286.9,2179.3 288.2,2179.3 289.5,2179.2 290.9,2179.1 292.2,2179.0 293.6,2179.0 294.9,2178.9 296.2,2178.8 297.6,2178.7 298.9,2178.7 300.2,2178.6 301.6,2178.5 302.9,2178.5 304.2,2178.4 305.6,2178.3 306.9,2178.2 308.3,2178.2 309.6,2178.1 310.9,2178.0 312.3,2178.0 313.6,2177.9 314.9,2177.8 316.3,2177.8 317.6,2177.7 318.9,2177.6 320.3,2177.6 321.6,2177.5 323.0,2177.5 324.3,2177.4 325.6,2177.3 327.0,2177.3 328.3,2177.2 329.6,2177.1 330.9,2177.1 332.1,2177.0 333.4,2176.9 334.7,2176.9 335.9,2176.8 337.2,2176.8 338.4,2176.7 339.7,2176.6 340.9,2176.6 342.1,2176.5 343.4,2176.4 344.6,2176.4 345.8,2176.3 347.1,2176.2 348.3,2176.2 349.6,2176.1 350.8,2176.1 352.1,2176.0 353.3,2175.9 354.6,2175.9 355.9,2175.8 357.2,2175.8 358.5,2175.7 359.8,2175.7 361.2,2175.6 362.5,2175.6 363.9,2175.5 365.3,2175.5 366.7,2175.4 368.1,2175.4 369.6,2175.4 371.0,2175.3 372.5,2175.3 373.6,2175.3 374.8,2175.3 375.9,2175.2 377.0,2175.2 378.1,2175.2 379.2,2175.2 380.3,2175.2 381.4,2175.1 382.5,2175.1 383.6,2175.1 384.7,2175.1 385.8,2175.1 386.9,2175.1 388.0,2175.1 389.1,2175.1 390.2,2175.1 391.3,2175.1 392.5,2175.1 393.6,2175.1 394.8,2175.1 395.9,2175.1 397.1,2175.1 398.3,2175.1 399.5,2175.1 400.8,2175.1 402.0,2175.1 403.3,2175.0 404.6,2175.0 406.0,2175.0 407.3,2175.0 408.7,2175.0 410.1,2175.0 411.6,2175.0 413.1,2175.0 414.6,2175.0 416.1,2175.0 417.7,2175.0 419.4,2175.0 421.0,2175.0 422.7,2175.0 424.5,2175.0 426.3,2175.0 428.1,2175.0 430.0,2175.0 431.0,2175.0 432.0,2175.0 433.1,2175.0 434.2,2175.0 435.3,2175.0 436.4,2175.0 437.6,2175.0 438.8,2175.0 440.0,2175.0 441.2,2175.0 442.4,2175.0 443.7,2175.0 444.9,2175.0 446.2,2175.0 447.5,2175.0 448.9,2175.0 450.2,2175.0 451.6,2175.0 452.9,2175.0 454.3,2175.0 455.7,2175.0 457.1,2175.0 458.5,2175.0 459.9,2175.0 461.4,2175.0 462.8,2175.0 464.3,2175.0 465.7,2175.0 467.2,2175.0 468.7,2175.0 470.2,2175.0 471.7,2175.0 473.2,2175.0 474.7,2175.0 476.2,2175.0 477.7,2175.0 479.2,2175.0 480.7,2175.0 482.2,2175.0 483.7,2175.0 485.2,2175.0 486.7,2175.0 488.2,2175.0 489.7,2175.0 491.2,2175.0 492.7,2175.0 494.2,2175.0 495.7,2175.0 497.2,2174.9 498.7,2174.9 500.1,2174.9 501.6,2174.9 503.1,2174.9 504.5,2174.9 505.9,2174.9 507.4,2174.9 508.8,2174.9 510.2,2174.9 511.6,2174.9 512.9,2174.9 514.3,2174.9 515.7,2174.9 517.0,2174.9 518.3,2174.9 519.6,2174.9 520.9,2174.9 522.2,2174.8 523.4,2174.8 524.6,2174.8 525.9,2174.8 527.1,2174.8 528.2,2174.8 529.4,2174.8 530.5,2174.8 531.6,2174.8 532.7,2174.7 533.7,2174.7 534.8,2174.7 535.8,2174.7 536.8,2174.7 537.7,2174.7 538.6,2174.6 539.5,2174.6 540.4,2174.6 543.1,2174.5 545.7,2174.5 548.0,2174.4 550.1,2174.3 552.0,2174.3 553.7,2174.2 555.3,2174.1 556.7,2174.0 558.0,2173.9 559.2,2173.9 560.3,2173.8 561.3,2173.7 562.2,2173.6 563.1,2173.4 564.0,2173.3 564.8,2173.2 565.6,2173.1 566.4,2172.9 567.2,2172.8 568.1,2172.6 569.0,2172.5 570.0,2172.3 571.1,2172.1 572.2,2171.9 573.5,2171.7 574.8,2171.5 576.1,2171.3 577.4,2171.0 578.7,2170.8 580.0,2170.5 581.3,2170.3 582.6,2170.0 583.9,2169.7 585.3,2169.4 586.6,2169.1 587.9,2168.8 589.2,2168.5 590.5,2168.2 591.8,2167.8 593.1,2167.5 594.4,2167.2 595.7,2166.9 597.0,2166.5 598.2,2166.2 599.5,2165.9 600.7,2165.6 601.9,2165.2 603.1,2164.9 604.3,2164.6 605.5,2164.3 606.6,2164.0 608.1,2163.6 609.5,2163.2 610.9,2162.8 612.2,2162.4 613.6,2162.0 614.9,2161.6 616.2,2161.2 617.5,2160.8 618.8,2160.4 620.0,2159.9 621.3,2159.5 622.5,2159.1 623.7,2158.8 624.9,2158.4 626.1,2158.0 627.3,2157.6 628.5,2157.3 629.7,2156.9 630.9,2156.6 632.1,2156.3 633.5,2156.0 634.8,2155.6 636.1,2155.3 637.3,2155.0 638.5,2154.7 639.7,2154.5 640.9,2154.2 642.1,2154.0 643.3,2153.7 644.5,2153.5 645.7,2153.2 647.0,2153.0 648.3,2152.8 649.7,2152.6 651.1,2152.4 652.6,2152.1 654.2,2151.9 655.3,2151.7 656.5,2151.6 657.7,2151.4 658.9,2151.3 660.1,2151.1 661.4,2151.0 662.7,2150.8 664.0,2150.7 665.3,2150.6 666.6,2150.4 668.0,2150.3 669.4,2150.1 670.8,2150.0 672.1,2149.9 673.5,2149.7 674.9,2149.6 676.3,2149.5 677.7,2149.3 679.1,2149.2 680.5,2149.1 681.9,2149.0 683.3,2148.8 684.6,2148.7 686.0,2148.6 687.3,2148.5 688.6,2148.4 689.9,2148.3 691.2,2148.2 692.5,2148.1 693.7,2148.0 695.0,2147.9 696.3,2147.8 697.5,2147.7 698.8,2147.6 700.0,2147.5 701.3,2147.4 702.5,2147.3 703.8,2147.2 705.1,2147.1 706.4,2147.0 707.7,2147.0 709.0,2146.9 710.3,2146.8 711.7,2146.7 713.1,2146.7 714.5,2146.6 715.9,2146.5 717.4,2146.4 718.9,2146.4 720.4,2146.3 721.6,2146.3 722.8,2146.2 724.0,2146.2 725.2,2146.1 726.4,2146.1 727.6,2146.0 728.9,2146.0 730.2,2145.9 731.4,2145.9 732.7,2145.9 734.0,2145.8 735.3,2145.8 736.6,2145.8 737.9,2145.7 739.3,2145.7 740.6,2145.7 742.0,2145.6 743.3,2145.6 744.7,2145.6 746.0,2145.5 747.4,2145.5 748.8,2145.5 750.2,2145.4 751.6,2145.4 753.0,2145.4 754.4,2145.4 755.9,2145.3 757.3,2145.3 758.7,2145.3 760.2,2145.3 761.6,2145.2 763.0,2145.2 764.5,2145.2 765.7,2145.2 767.0,2145.2 768.3,2145.1 769.6,2145.1 770.9,2145.1 772.2,2145.1 773.5,2145.1 774.8,2145.1 776.2,2145.1 777.5,2145.0 778.9,2145.0 780.3,2145.0 781.7,2145.0 783.0,2145.0 784.4,2145.0 785.8,2145.0 787.2,2145.0 788.6,2145.0 790.0,2144.9 791.4,2144.9 792.8,2144.9 794.2,2144.9 795.5,2144.9 796.9,2144.9 798.3,2144.9 799.7,2144.9 801.0,2144.9 802.4,2144.9 803.7,2144.9 805.1,2144.9 806.4,2144.9 807.7,2144.9 809.0,2144.8 810.3,2144.8 811.5,2144.8 812.8,2144.8 814.0,2144.8 815.2,2144.8 816.4,2144.6 817.9,2145.0 819.3,2145.4 820.8,2144.6 822.2,2145.3 823.6,2145.3 824.9,2146.0 826.3,2144.4 827.6,2145.0 828.9,2145.2 830.3,2144.9 831.6,2145.1 832.8,2144.4 834.1,2144.6 835.4,2144.4 836.6,2144.4 837.9,2144.3 839.1,2144.7 840.4,2144.1 841.6,2144.4 842.9,2145.1 844.1,2143.8 845.3,2144.1 846.6,2144.5 847.8,2144.1 849.1,2144.1 850.3,2145.8 851.6,2144.9 852.8,2144.4 854.1,2144.2 855.4,2143.7 856.7,2143.9 858.0,2143.2 859.4,2144.9 860.8,2144.2 862.2,2145.0 863.6,2144.4 865.1,2143.1 866.6,2145.4 868.1,2144.5 869.6,2144.7 871.1,2143.7 872.6,2143.7 874.2,2143.8 875.7,2144.9 877.2,2143.0 878.6,2143.1 880.1,2144.0 881.5,2142.4 882.9,2144.4 884.3,2142.7 885.7,2144.1 887.0,2143.2 888.2,2143.0 889.5,2142.5 890.6,2144.0 891.7,2142.9 892.8,2142.2 893.8,2143.3 894.7,2142.8 895.5,2143.2 896.3,2142.6 897.0,2143.0" fill="none" stroke="#000" stroke-width="1.8" stroke-linejoin="round" stroke-linecap="round"/>
<polyline points="49.7,2131.7 50.4,2130.5 51.2,2131.1 52.1,2129.8 53.1,2130.9 54.2,2131.7 55.3,2131.8 56.6,2130.3 57.8,2130.6 59.2,2130.7 60.5,2129.3 61.9,2131.7 63.4,2131.2 64.9,2131.1 66.4,2131.3 68.0,2130.5 69.5,2130.8 71.1,2131.1 72.7,2131.1 74.2,2130.3 75.8,2129.9 77.3,2130.9 78.9,2130.7 80.4,2129.9 81.9,2131.1 83.3,2130.8 84.7,2130.6 86.1,2130.4 87.4,2130.6 88.6,2131.1 90.1,2130.1 91.5,2131.0 93.0,2130.3 94.5,2130.3 96.0,2130.9 97.5,2130.1 99.0,2130.2 100.4,2129.6 101.9,2129.8 103.3,2129.8 104.7,2129.4 106.1,2129.3 107.5,2130.1 108.8,2130.1 110.1,2129.0 111.4,2129.0 112.6,2129.8 113.8,2129.9 115.0,2128.7 116.1,2129.0 117.2,2129.8 118.2,2130.2 119.1,2129.6 120.0,2128.4 122.6,2129.6 124.5,2128.7 125.9,2128.5 127.0,2128.8 128.0,2128.0 128.9,2128.1 130.0,2126.9 131.1,2129.3 131.6,2129.0 132.3,2128.9 133.8,2129.4 137.1,2129.5 137.9,2129.2 138.8,2129.1 139.8,2129.3 140.9,2128.1 142.0,2128.6 143.2,2129.3 144.4,2130.2 145.7,2129.7 147.1,2129.9 148.5,2129.8 149.9,2129.3 151.3,2129.5 152.8,2129.3 154.3,2129.0 155.8,2129.2 157.3,2129.4 158.8,2128.9 160.3,2128.7 161.7,2129.2 163.2,2129.1 164.7,2129.1 166.1,2129.6 167.4,2129.0 168.8,2128.8 170.1,2128.4 171.3,2128.1 172.5,2129.0 173.6,2129.0 175.2,2128.8 176.8,2128.7 178.3,2128.0 179.8,2128.4 181.2,2128.2 182.6,2128.3 183.9,2127.5 185.2,2128.3 186.5,2128.1 187.7,2126.8 189.0,2127.1 190.2,2127.0 191.4,2127.2 192.7,2127.4 193.9,2125.7 195.2,2127.0 196.5,2126.6 197.8,2125.8 199.2,2125.6 200.5,2126.1 201.9,2125.5 203.3,2125.3 204.7,2125.1 206.2,2126.3 207.6,2124.0 209.0,2125.9 210.4,2123.9 211.8,2125.2 213.2,2124.1 214.5,2124.3 215.9,2123.7 217.2,2123.7 218.5,2124.4 219.7,2123.1 220.9,2122.1 222.1,2123.0 223.7,2121.6 225.2,2122.4 226.7,2122.6 228.1,2122.2 229.5,2122.1 230.9,2123.3 232.2,2123.4 233.4,2122.8 234.6,2122.6 235.8,2121.6 237.0,2120.6 238.1,2120.2 239.1,2119.5 240.3,2119.2 241.3,2118.4 242.3,2117.7 243.2,2116.9 244.0,2115.5 244.9,2114.4 245.6,2112.9 246.4,2112.0 247.2,2110.5 248.0,2109.6 248.8,2108.9 249.6,2107.5 250.5,2106.3 251.3,2105.4 252.1,2104.0 252.9,2103.1 253.7,2101.8 254.5,2101.2 255.3,2099.9 256.1,2098.9 256.9,2098.0 257.7,2097.1 258.7,2096.0 259.7,2095.0 260.7,2094.0 261.7,2093.3 262.7,2092.4 263.7,2091.6 264.7,2090.7 265.6,2089.7 266.5,2088.2 267.2,2087.1 267.8,2086.2 268.5,2085.1 269.1,2084.2 269.6,2082.7 270.2,2081.7 270.8,2080.0 271.4,2079.2 271.9,2077.6 272.5,2076.1 273.1,2074.6 273.6,2073.5 274.0,2072.5 274.5,2071.7 275.0,2070.3 275.5,2068.9 275.9,2067.4 276.4,2066.2 276.9,2064.5 277.3,2063.0 277.8,2061.9 278.3,2060.9 278.8,2060.3 279.2,2058.0 279.7,2057.1 280.3,2055.7 280.9,2054.5 281.5,2053.2 282.1,2052.3 282.7,2051.0 283.4,2050.2 284.0,2048.7 284.6,2047.8 285.2,2046.5 285.8,2045.3 286.4,2044.1 286.8,2042.7 287.2,2041.8 287.7,2040.5 288.1,2039.5 288.5,2038.4 288.9,2037.0 289.4,2036.0 289.8,2034.3 290.2,2033.7 290.6,2031.6 291.0,2030.7 291.4,2029.5 291.8,2028.4 292.2,2026.7 292.6,2025.6 293.0,2024.3 293.4,2023.0 293.8,2021.6 294.2,2020.1 294.6,2018.6 294.9,2017.4 295.3,2015.8 295.7,2014.2 296.0,2012.6 296.4,2011.3 296.7,2009.8 297.1,2009.1 297.4,2007.9 297.8,2006.1 298.1,2005.3 298.5,2004.6 299.3,2002.2 300.0,2000.3 300.7,1998.4 301.5,1997.3 302.2,1996.4 302.9,1995.8 303.6,1995.7 304.3,1995.8 305.0,1996.6 305.7,1997.8 306.4,1999.0 307.1,2000.5 307.7,2002.0 308.4,2004.4 308.7,2005.4 309.0,2006.8 309.3,2007.2 309.6,2008.6 309.9,2009.5 310.2,2011.3 310.5,2012.8 310.8,2013.7 311.1,2015.5 311.3,2016.7 311.6,2018.4 311.9,2019.8 312.2,2021.1 312.5,2022.3 312.8,2024.0 313.0,2025.6 313.3,2026.9 313.5,2027.9 313.8,2029.5 314.0,2031.2 314.3,2031.9 314.5,2033.6 314.7,2035.0 315.0,2036.1 315.2,2037.5 315.5,2039.6 315.7,2040.6 316.0,2042.1 316.2,2043.0 316.5,2044.7 316.8,2046.0 317.0,2047.4 317.3,2048.1 317.6,2049.3 318.0,2051.5 318.3,2053.1 318.6,2054.3 319.0,2055.8 319.3,2056.6 319.7,2058.7 320.0,2059.9 320.4,2060.7 320.8,2062.2 321.1,2063.9 321.5,2065.4 321.9,2066.1 322.4,2067.2 322.8,2068.0 323.4,2069.7 324.0,2070.9 324.7,2072.5 325.3,2073.7 326.0,2075.3 326.7,2075.7 327.4,2077.1 328.1,2078.0 328.9,2079.3 329.7,2080.7 330.5,2081.2 331.3,2082.5 332.1,2083.7 333.0,2084.1 333.8,2085.3 334.7,2086.8 335.6,2086.9 336.6,2088.6 337.5,2089.3 338.5,2090.3 339.5,2090.9 340.5,2091.7 341.5,2092.4 342.5,2093.5 343.6,2094.5 344.7,2094.9 345.8,2096.4 346.9,2097.6 348.0,2098.0 349.1,2098.5 350.3,2100.1 351.4,2100.3 352.6,2101.1 353.7,2101.8 354.8,2103.0 356.1,2102.7 357.4,2103.8 358.8,2103.9 360.1,2104.2 361.4,2104.9 362.7,2105.3 364.0,2105.6 365.4,2105.9 366.7,2105.8 368.0,2105.8 369.3,2105.6 370.7,2106.0 372.0,2105.6 373.3,2105.5 374.7,2105.5 376.0,2105.2 377.3,2105.1 378.6,2103.7 380.0,2103.7 381.3,2103.4 382.6,2103.3 384.0,2103.3 385.4,2102.8 386.8,2102.1 388.2,2102.5 389.5,2102.3 390.9,2101.7 392.1,2101.5 393.4,2101.6 394.5,2101.6 396.0,2101.1 397.3,2101.8 398.5,2102.3 399.7,2103.2 400.8,2103.0 402.1,2103.9 403.4,2105.1 404.3,2105.3 405.3,2106.2 406.2,2106.9 407.2,2108.3 408.3,2109.1 409.3,2109.7 410.3,2111.3 411.3,2112.2 412.4,2113.2 413.4,2113.8 414.4,2114.5 415.6,2116.1 416.8,2115.9 417.9,2116.4 419.1,2117.5 420.3,2118.0 421.5,2118.1 422.7,2118.2 424.0,2118.8 425.4,2119.0 426.6,2119.6 427.9,2119.4 429.2,2119.8 430.5,2120.0 431.9,2120.1 433.3,2120.7 434.7,2120.4 436.1,2120.2 437.4,2120.7 438.8,2120.8 440.0,2120.7 441.4,2121.2 442.7,2120.7 443.8,2121.0 445.0,2121.7 446.2,2122.0 447.4,2121.9 448.8,2122.4 450.3,2122.1 452.1,2122.7 453.1,2122.0 454.2,2121.6 455.4,2122.0 456.6,2122.0 457.9,2121.9 459.2,2121.9 460.5,2121.9 461.8,2121.6 463.2,2121.8 464.6,2121.6 466.0,2121.5 467.4,2121.7 468.8,2121.6 470.2,2121.4 471.5,2120.9 472.9,2121.2 474.2,2120.9 475.6,2120.9 477.0,2121.1 478.4,2121.0 479.8,2120.8 481.2,2120.6 482.6,2120.6 484.1,2120.5 485.5,2120.2 486.9,2120.0 488.3,2120.2 489.6,2120.1 491.0,2119.9 492.3,2120.2 493.7,2119.3 494.9,2119.5 496.2,2119.1 497.7,2119.3 499.2,2119.2 500.7,2118.7 502.2,2118.6 503.6,2117.9 505.0,2117.7 506.4,2118.2 507.8,2117.8 509.1,2117.6 510.4,2117.4 511.6,2117.7 512.8,2116.5 513.9,2116.7 515.4,2115.7 516.8,2115.0 518.1,2114.5 519.2,2114.1 520.4,2113.8 521.5,2113.2 522.6,2112.2 523.7,2111.8 524.9,2111.6 526.3,2111.1 527.8,2111.5 529.3,2110.5 530.7,2110.6 532.2,2111.0 533.5,2110.4 534.8,2110.6 536.0,2110.6 537.6,2110.6 539.1,2110.5 540.3,2110.7 541.5,2110.5 542.6,2109.5 543.4,2109.1 544.1,2108.2 544.7,2106.9 545.3,2105.1 546.0,2104.0 547.0,2102.3 547.6,2101.8 548.2,2100.1 548.9,2099.2 549.6,2098.2 550.3,2096.4 551.1,2095.5 551.9,2094.6 552.7,2093.1 553.5,2092.1 554.3,2091.1 555.0,2089.8 555.8,2089.0 556.8,2088.1 557.8,2086.4 558.8,2085.9 559.9,2085.1 560.9,2084.4 561.9,2083.8 562.9,2082.1 563.8,2081.4 564.7,2080.1 565.4,2079.1 566.1,2078.3 566.7,2076.6 567.3,2075.7 567.9,2074.5 568.5,2073.4 569.1,2071.9 569.6,2070.8 570.2,2069.1 570.7,2067.6 571.3,2067.3 571.8,2066.1 572.3,2064.7 572.8,2063.2 573.2,2062.3 573.7,2060.9 574.1,2059.6 574.6,2058.7 575.0,2057.6 575.5,2055.5 575.9,2054.3 576.3,2053.0 576.8,2051.2 577.2,2050.3 577.5,2048.7 577.9,2047.3 578.2,2046.4 578.6,2044.8 578.9,2043.1 579.3,2042.0 579.7,2040.4 580.0,2038.9 580.4,2037.9 580.8,2036.4 581.1,2035.0 581.5,2033.9 581.9,2033.0 582.3,2031.4 583.0,2030.3 583.6,2028.6 584.3,2027.7 585.0,2026.5 585.7,2025.1 586.5,2024.2 587.3,2023.1 588.1,2021.8 588.9,2020.8 589.6,2019.8 590.3,2018.6 591.0,2017.4 591.8,2016.4 592.6,2015.9 593.4,2013.9 594.1,2013.0 594.9,2012.1 595.7,2011.1 596.4,2009.5 597.1,2008.7 597.8,2007.6 598.3,2006.4 598.9,2005.1 599.4,2003.6 599.9,2002.7 600.3,2001.3 600.8,2000.8 601.2,1999.0 601.7,1997.8 602.1,1997.2 602.6,1995.8 603.0,1993.7 603.5,1992.7 603.9,1991.1 604.4,1989.9 604.7,1988.2 605.0,1987.3 605.4,1986.3 605.7,1985.1 606.0,1983.2 606.3,1982.3 606.7,1981.1 607.0,1979.8 607.3,1978.5 607.7,1976.8 608.0,1975.3 608.3,1974.3 608.6,1973.0 609.0,1971.4 609.3,1970.0 609.6,1968.4 609.9,1967.7 610.2,1966.8 610.5,1965.3 610.7,1963.9 611.0,1963.3 611.4,1961.6 611.8,1960.3 612.2,1958.0 612.5,1956.9 612.9,1955.1 613.2,1953.7 613.5,1952.7 613.8,1951.5 614.1,1950.2 614.5,1949.1 614.8,1947.6 615.1,1946.4 615.5,1945.7 616.5,1944.1 617.4,1942.4 618.4,1941.7 619.4,1941.4 620.5,1941.7 621.3,1942.0 622.1,1942.5 623.0,1943.4 623.8,1944.4 624.7,1946.6 625.6,1947.9 626.6,1950.0 627.0,1950.9 627.3,1952.0 627.7,1953.0 628.1,1953.7 628.5,1954.9 628.9,1956.3 629.3,1957.0 629.7,1958.5 630.1,1960.0 630.5,1961.7 630.9,1963.1 631.3,1964.3 631.7,1966.0 632.2,1966.5 632.6,1968.9 633.0,1969.6 633.4,1971.6 633.9,1973.0 634.3,1974.3 634.6,1975.4 635.0,1976.0 635.3,1978.2 635.7,1978.6 636.1,1980.6 636.4,1981.3 636.8,1982.6 637.2,1984.1 637.5,1985.0 637.9,1986.3 638.3,1987.8 638.6,1989.2 639.0,1990.3 639.4,1991.7 639.8,1993.1 640.1,1994.6 640.5,1995.9 640.9,1997.1 641.2,1998.9 641.6,2000.0 642.0,2000.6 642.4,2002.2 642.7,2003.7 643.1,2005.3 643.5,2006.6 643.8,2007.4 644.2,2009.4 644.5,2010.1 644.9,2011.6 645.2,2013.0 645.6,2013.8 645.9,2015.9 646.3,2017.6 646.7,2018.7 647.0,2020.3 647.4,2021.2 647.7,2022.4 648.1,2024.1 648.4,2025.1 648.8,2026.7 649.2,2028.5 649.5,2029.1 649.9,2030.4 650.3,2031.7 650.7,2032.8 651.1,2033.6 651.5,2034.8 651.9,2035.9 652.5,2038.0 653.2,2038.8 653.8,2039.9 654.5,2041.0 655.1,2043.1 655.8,2044.1 656.5,2045.5 657.2,2046.5 657.9,2046.8 658.6,2048.1 659.3,2049.1 660.0,2050.2 660.8,2050.9 661.5,2052.2 662.2,2052.6 663.0,2053.0 664.0,2054.8 665.1,2055.3 666.1,2056.8 667.2,2057.3 668.3,2058.2 669.5,2059.0 670.6,2059.5 671.7,2060.8 672.8,2061.0 674.0,2061.7 675.1,2062.0 676.2,2062.5 677.5,2062.9 678.9,2063.5 680.2,2063.5 681.5,2064.0 682.9,2064.2 684.2,2063.9 685.5,2064.2 686.8,2063.9 688.2,2063.2 689.5,2063.3 690.7,2063.4 692.0,2062.5 693.2,2061.8 694.4,2061.1 695.7,2060.8 696.9,2060.1 698.1,2058.8 699.3,2058.3 700.5,2057.5 701.6,2056.7 702.7,2055.5 704.1,2054.4 705.5,2054.0 706.7,2053.2 708.0,2052.3 709.2,2051.5 710.4,2050.9 711.5,2050.2 712.6,2050.5 713.8,2050.7 715.0,2050.6 716.0,2052.0 717.1,2052.8 718.2,2053.4 719.3,2054.3 720.4,2055.3 721.1,2056.6 721.8,2057.9 722.5,2059.0 723.2,2059.8 723.9,2060.8 724.6,2062.0 725.3,2062.7 726.1,2064.2 726.8,2065.5 727.6,2066.4 728.4,2067.9 729.2,2068.7 730.0,2070.2 730.7,2071.2 731.5,2072.3 732.3,2073.5 733.2,2075.0 734.0,2075.8 734.8,2077.2 735.7,2077.9 736.6,2078.7 737.5,2080.0 738.4,2080.5 739.3,2081.8 740.2,2082.2 741.3,2083.3 742.4,2084.4 743.4,2084.9 744.5,2085.7 745.6,2086.0 746.7,2086.5 747.9,2087.0 749.2,2087.8 750.5,2088.1 752.0,2088.4 753.5,2088.7 754.6,2089.4 755.7,2089.7 756.8,2089.8 758.0,2089.8 759.3,2090.2 760.5,2090.4 761.8,2090.0 763.2,2090.8 764.5,2091.7 765.9,2089.8 767.3,2090.4 768.6,2091.1 770.0,2091.3 771.4,2091.5 772.8,2091.9 774.2,2091.7 775.6,2091.8 776.8,2093.3 778.0,2092.9 779.2,2091.8 780.4,2091.8 781.5,2092.4 782.7,2092.2 783.8,2092.5 785.0,2092.6 786.2,2092.4 787.4,2091.7 788.7,2092.1 789.9,2093.3 791.3,2091.9 792.6,2092.1 794.0,2092.4 795.5,2091.7 797.0,2091.4 798.6,2092.3 800.3,2092.5 801.4,2093.0 802.4,2092.1 803.5,2091.6 804.6,2092.9 805.8,2092.5 806.9,2092.3 808.1,2092.6 809.2,2091.8 810.4,2091.9 811.6,2091.2 812.9,2091.8 814.1,2091.6 815.4,2091.6 816.6,2092.5 817.9,2091.9 819.2,2091.3 820.5,2092.5 821.9,2092.0 823.2,2091.1 824.6,2091.9 826.0,2091.2 827.4,2092.0 828.8,2092.1 830.2,2090.8 831.7,2091.6 833.1,2091.8 834.6,2091.8 836.1,2090.8 837.6,2092.1 839.1,2091.5 840.6,2090.3 841.8,2090.2 843.0,2091.2 844.2,2091.5 845.5,2091.0 846.8,2091.3 848.1,2091.3 849.5,2090.8 850.9,2091.2 852.4,2091.0 853.8,2089.7 855.3,2089.6 856.8,2090.8 858.3,2091.2 859.8,2091.2 861.3,2091.2 862.9,2090.3 864.4,2090.2 865.9,2090.1 867.5,2089.8 869.0,2089.6 870.5,2089.6 872.0,2089.5 873.5,2090.6 875.0,2090.3 876.4,2089.5 877.9,2088.6 879.3,2089.5 880.7,2089.8 882.0,2090.4 883.3,2089.5 884.6,2087.7 885.8,2089.0 887.0,2090.4 888.2,2089.9 889.3,2089.7 890.3,2089.1 891.3,2089.6 892.3,2089.1 893.1,2090.1 894.0,2089.4 894.7,2088.6 895.4,2089.2" fill="none" stroke="#000" stroke-width="5.7" stroke-linejoin="round" stroke-linecap="round"/>
<line x1="707.0999999999999" y1="1879.3" x2="745.6" y2="1879.3" stroke="#000" stroke-width="4.6" stroke-linecap="round"/>
<text transform="translate(36.12,0) scale(0.9520,1)" x="752.5" y="1885.8" font-size="25"><tspan>Exp.&#160;data</tspan></text>
<line x1="707.0999999999999" y1="1911.5" x2="745.6" y2="1911.5" stroke="#008200" stroke-width="4.6" stroke-linecap="round"/>
<text transform="translate(-12.79,0) scale(1.0170,1)" x="752.5" y="1918.0" font-size="25"><tspan>Fit-model</tspan></text>
<line x1="707.0999999999999" y1="1952.2" x2="745.6" y2="1952.2" stroke="#ee0a0a" stroke-width="4.6" stroke-linecap="round"/>
<text transform="translate(18.81,0) scale(0.9750,1)" x="752.5" y="1958.5" font-size="25"><tspan>Ce</tspan><tspan font-size="24.5" dy="-10">3+</tspan><tspan dy="10">-&#160;comp.</tspan></text>
<line x1="707.0999999999999" y1="1992.8" x2="745.6" y2="1992.8" stroke="#0000f0" stroke-width="4.6" stroke-linecap="round"/>
<text transform="translate(18.81,0) scale(0.9750,1)" x="752.5" y="1999.1" font-size="25"><tspan>Ce</tspan><tspan font-size="24.5" dy="-10">4+</tspan><tspan dy="10">-&#160;comp.</tspan></text>
</svg></body></html>
